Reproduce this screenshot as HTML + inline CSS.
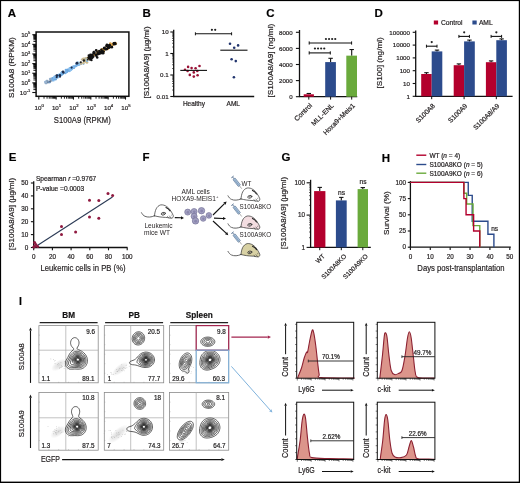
<!DOCTYPE html>
<html><head><meta charset="utf-8"><style>
html,body{margin:0;padding:0;background:#fff;}
svg{display:block;font-family:"Liberation Sans",sans-serif;filter:blur(0.3px);}
text{stroke:#231f20;stroke-width:0.2px;}
</style></head><body>
<svg width="520" height="483" viewBox="0 0 520 483">
<rect x="0" y="0" width="520" height="483" fill="#fff"/>
<text x="7.80" y="16.80" font-size="11.5" text-anchor="start" font-weight="bold" fill="#000"  style="">A</text>
<rect x="36.10" y="32.00" width="92.80" height="64.30" fill="none" stroke="#111" stroke-width="1.5" />
<line x1="32.30" y1="92.50" x2="36.10" y2="92.50" stroke="#111" stroke-width="1.1" />
<text x="30.3" y="94.70" font-size="6.2" text-anchor="end" fill="#231f20">10<tspan dy="-2.6" font-size="4.0">-1</tspan></text>
<line x1="33.40" y1="89.60" x2="36.10" y2="89.60" stroke="#000" stroke-width="0.9" />
<line x1="33.40" y1="87.90" x2="36.10" y2="87.90" stroke="#000" stroke-width="0.9" />
<line x1="33.40" y1="86.70" x2="36.10" y2="86.70" stroke="#000" stroke-width="0.9" />
<line x1="33.40" y1="85.76" x2="36.10" y2="85.76" stroke="#000" stroke-width="0.9" />
<line x1="33.40" y1="85.00" x2="36.10" y2="85.00" stroke="#000" stroke-width="0.9" />
<line x1="33.40" y1="84.36" x2="36.10" y2="84.36" stroke="#000" stroke-width="0.9" />
<line x1="33.40" y1="83.80" x2="36.10" y2="83.80" stroke="#000" stroke-width="0.9" />
<line x1="33.40" y1="83.31" x2="36.10" y2="83.31" stroke="#000" stroke-width="0.9" />
<line x1="32.30" y1="82.86" x2="36.10" y2="82.86" stroke="#111" stroke-width="1.1" />
<text x="30.3" y="85.06" font-size="6.2" text-anchor="end" fill="#231f20">10<tspan dy="-2.6" font-size="4.0">0</tspan></text>
<line x1="33.40" y1="79.97" x2="36.10" y2="79.97" stroke="#000" stroke-width="0.9" />
<line x1="33.40" y1="78.27" x2="36.10" y2="78.27" stroke="#000" stroke-width="0.9" />
<line x1="33.40" y1="77.07" x2="36.10" y2="77.07" stroke="#000" stroke-width="0.9" />
<line x1="33.40" y1="76.13" x2="36.10" y2="76.13" stroke="#000" stroke-width="0.9" />
<line x1="33.40" y1="75.37" x2="36.10" y2="75.37" stroke="#000" stroke-width="0.9" />
<line x1="33.40" y1="74.72" x2="36.10" y2="74.72" stroke="#000" stroke-width="0.9" />
<line x1="33.40" y1="74.17" x2="36.10" y2="74.17" stroke="#000" stroke-width="0.9" />
<line x1="33.40" y1="73.67" x2="36.10" y2="73.67" stroke="#000" stroke-width="0.9" />
<line x1="32.30" y1="73.23" x2="36.10" y2="73.23" stroke="#111" stroke-width="1.1" />
<text x="30.3" y="75.43" font-size="6.2" text-anchor="end" fill="#231f20">10<tspan dy="-2.6" font-size="4.0">1</tspan></text>
<line x1="33.40" y1="70.33" x2="36.10" y2="70.33" stroke="#000" stroke-width="0.9" />
<line x1="33.40" y1="68.64" x2="36.10" y2="68.64" stroke="#000" stroke-width="0.9" />
<line x1="33.40" y1="67.43" x2="36.10" y2="67.43" stroke="#000" stroke-width="0.9" />
<line x1="33.40" y1="66.50" x2="36.10" y2="66.50" stroke="#000" stroke-width="0.9" />
<line x1="33.40" y1="65.74" x2="36.10" y2="65.74" stroke="#000" stroke-width="0.9" />
<line x1="33.40" y1="65.09" x2="36.10" y2="65.09" stroke="#000" stroke-width="0.9" />
<line x1="33.40" y1="64.53" x2="36.10" y2="64.53" stroke="#000" stroke-width="0.9" />
<line x1="33.40" y1="64.04" x2="36.10" y2="64.04" stroke="#000" stroke-width="0.9" />
<line x1="32.30" y1="63.60" x2="36.10" y2="63.60" stroke="#111" stroke-width="1.1" />
<text x="30.3" y="65.80" font-size="6.2" text-anchor="end" fill="#231f20">10<tspan dy="-2.6" font-size="4.0">2</tspan></text>
<line x1="33.40" y1="60.70" x2="36.10" y2="60.70" stroke="#000" stroke-width="0.9" />
<line x1="33.40" y1="59.00" x2="36.10" y2="59.00" stroke="#000" stroke-width="0.9" />
<line x1="33.40" y1="57.80" x2="36.10" y2="57.80" stroke="#000" stroke-width="0.9" />
<line x1="33.40" y1="56.87" x2="36.10" y2="56.87" stroke="#000" stroke-width="0.9" />
<line x1="33.40" y1="56.10" x2="36.10" y2="56.10" stroke="#000" stroke-width="0.9" />
<line x1="33.40" y1="55.46" x2="36.10" y2="55.46" stroke="#000" stroke-width="0.9" />
<line x1="33.40" y1="54.90" x2="36.10" y2="54.90" stroke="#000" stroke-width="0.9" />
<line x1="33.40" y1="54.41" x2="36.10" y2="54.41" stroke="#000" stroke-width="0.9" />
<line x1="32.30" y1="53.97" x2="36.10" y2="53.97" stroke="#111" stroke-width="1.1" />
<text x="30.3" y="56.17" font-size="6.2" text-anchor="end" fill="#231f20">10<tspan dy="-2.6" font-size="4.0">3</tspan></text>
<line x1="33.40" y1="51.07" x2="36.10" y2="51.07" stroke="#000" stroke-width="0.9" />
<line x1="33.40" y1="49.37" x2="36.10" y2="49.37" stroke="#000" stroke-width="0.9" />
<line x1="33.40" y1="48.17" x2="36.10" y2="48.17" stroke="#000" stroke-width="0.9" />
<line x1="33.40" y1="47.23" x2="36.10" y2="47.23" stroke="#000" stroke-width="0.9" />
<line x1="33.40" y1="46.47" x2="36.10" y2="46.47" stroke="#000" stroke-width="0.9" />
<line x1="33.40" y1="45.83" x2="36.10" y2="45.83" stroke="#000" stroke-width="0.9" />
<line x1="33.40" y1="45.27" x2="36.10" y2="45.27" stroke="#000" stroke-width="0.9" />
<line x1="33.40" y1="44.77" x2="36.10" y2="44.77" stroke="#000" stroke-width="0.9" />
<line x1="32.30" y1="44.33" x2="36.10" y2="44.33" stroke="#111" stroke-width="1.1" />
<text x="30.3" y="46.53" font-size="6.2" text-anchor="end" fill="#231f20">10<tspan dy="-2.6" font-size="4.0">4</tspan></text>
<line x1="33.40" y1="41.43" x2="36.10" y2="41.43" stroke="#000" stroke-width="0.9" />
<line x1="33.40" y1="39.74" x2="36.10" y2="39.74" stroke="#000" stroke-width="0.9" />
<line x1="33.40" y1="38.53" x2="36.10" y2="38.53" stroke="#000" stroke-width="0.9" />
<line x1="33.40" y1="37.60" x2="36.10" y2="37.60" stroke="#000" stroke-width="0.9" />
<line x1="33.40" y1="36.84" x2="36.10" y2="36.84" stroke="#000" stroke-width="0.9" />
<line x1="33.40" y1="36.19" x2="36.10" y2="36.19" stroke="#000" stroke-width="0.9" />
<line x1="33.40" y1="35.63" x2="36.10" y2="35.63" stroke="#000" stroke-width="0.9" />
<line x1="33.40" y1="35.14" x2="36.10" y2="35.14" stroke="#000" stroke-width="0.9" />
<line x1="32.30" y1="34.70" x2="36.10" y2="34.70" stroke="#111" stroke-width="1.1" />
<text x="30.3" y="36.90" font-size="6.2" text-anchor="end" fill="#231f20">10<tspan dy="-2.6" font-size="4.0">5</tspan></text>
<line x1="38.80" y1="96.30" x2="38.80" y2="99.60" stroke="#111" stroke-width="1.1" />
<text x="39.20" y="109.80" font-size="6.2" text-anchor="middle" fill="#231f20">10<tspan dy="-2.6" font-size="4.2">0</tspan></text>
<line x1="44.02" y1="96.30" x2="44.02" y2="98.70" stroke="#000" stroke-width="0.9" />
<line x1="47.07" y1="96.30" x2="47.07" y2="98.70" stroke="#000" stroke-width="0.9" />
<line x1="49.24" y1="96.30" x2="49.24" y2="98.70" stroke="#000" stroke-width="0.9" />
<line x1="50.92" y1="96.30" x2="50.92" y2="98.70" stroke="#000" stroke-width="0.9" />
<line x1="52.29" y1="96.30" x2="52.29" y2="98.70" stroke="#000" stroke-width="0.9" />
<line x1="53.45" y1="96.30" x2="53.45" y2="98.70" stroke="#000" stroke-width="0.9" />
<line x1="54.46" y1="96.30" x2="54.46" y2="98.70" stroke="#000" stroke-width="0.9" />
<line x1="55.35" y1="96.30" x2="55.35" y2="98.70" stroke="#000" stroke-width="0.9" />
<line x1="56.14" y1="96.30" x2="56.14" y2="99.60" stroke="#111" stroke-width="1.1" />
<text x="56.54" y="109.80" font-size="6.2" text-anchor="middle" fill="#231f20">10<tspan dy="-2.6" font-size="4.2">1</tspan></text>
<line x1="61.36" y1="96.30" x2="61.36" y2="98.70" stroke="#000" stroke-width="0.9" />
<line x1="64.41" y1="96.30" x2="64.41" y2="98.70" stroke="#000" stroke-width="0.9" />
<line x1="66.58" y1="96.30" x2="66.58" y2="98.70" stroke="#000" stroke-width="0.9" />
<line x1="68.26" y1="96.30" x2="68.26" y2="98.70" stroke="#000" stroke-width="0.9" />
<line x1="69.63" y1="96.30" x2="69.63" y2="98.70" stroke="#000" stroke-width="0.9" />
<line x1="70.79" y1="96.30" x2="70.79" y2="98.70" stroke="#000" stroke-width="0.9" />
<line x1="71.80" y1="96.30" x2="71.80" y2="98.70" stroke="#000" stroke-width="0.9" />
<line x1="72.69" y1="96.30" x2="72.69" y2="98.70" stroke="#000" stroke-width="0.9" />
<line x1="73.48" y1="96.30" x2="73.48" y2="99.60" stroke="#111" stroke-width="1.1" />
<text x="73.88" y="109.80" font-size="6.2" text-anchor="middle" fill="#231f20">10<tspan dy="-2.6" font-size="4.2">2</tspan></text>
<line x1="78.70" y1="96.30" x2="78.70" y2="98.70" stroke="#000" stroke-width="0.9" />
<line x1="81.75" y1="96.30" x2="81.75" y2="98.70" stroke="#000" stroke-width="0.9" />
<line x1="83.92" y1="96.30" x2="83.92" y2="98.70" stroke="#000" stroke-width="0.9" />
<line x1="85.60" y1="96.30" x2="85.60" y2="98.70" stroke="#000" stroke-width="0.9" />
<line x1="86.97" y1="96.30" x2="86.97" y2="98.70" stroke="#000" stroke-width="0.9" />
<line x1="88.13" y1="96.30" x2="88.13" y2="98.70" stroke="#000" stroke-width="0.9" />
<line x1="89.14" y1="96.30" x2="89.14" y2="98.70" stroke="#000" stroke-width="0.9" />
<line x1="90.03" y1="96.30" x2="90.03" y2="98.70" stroke="#000" stroke-width="0.9" />
<line x1="90.82" y1="96.30" x2="90.82" y2="99.60" stroke="#111" stroke-width="1.1" />
<text x="91.22" y="109.80" font-size="6.2" text-anchor="middle" fill="#231f20">10<tspan dy="-2.6" font-size="4.2">3</tspan></text>
<line x1="96.04" y1="96.30" x2="96.04" y2="98.70" stroke="#000" stroke-width="0.9" />
<line x1="99.09" y1="96.30" x2="99.09" y2="98.70" stroke="#000" stroke-width="0.9" />
<line x1="101.26" y1="96.30" x2="101.26" y2="98.70" stroke="#000" stroke-width="0.9" />
<line x1="102.94" y1="96.30" x2="102.94" y2="98.70" stroke="#000" stroke-width="0.9" />
<line x1="104.31" y1="96.30" x2="104.31" y2="98.70" stroke="#000" stroke-width="0.9" />
<line x1="105.47" y1="96.30" x2="105.47" y2="98.70" stroke="#000" stroke-width="0.9" />
<line x1="106.48" y1="96.30" x2="106.48" y2="98.70" stroke="#000" stroke-width="0.9" />
<line x1="107.37" y1="96.30" x2="107.37" y2="98.70" stroke="#000" stroke-width="0.9" />
<line x1="108.16" y1="96.30" x2="108.16" y2="99.60" stroke="#111" stroke-width="1.1" />
<text x="108.56" y="109.80" font-size="6.2" text-anchor="middle" fill="#231f20">10<tspan dy="-2.6" font-size="4.2">4</tspan></text>
<line x1="113.38" y1="96.30" x2="113.38" y2="98.70" stroke="#000" stroke-width="0.9" />
<line x1="116.43" y1="96.30" x2="116.43" y2="98.70" stroke="#000" stroke-width="0.9" />
<line x1="118.60" y1="96.30" x2="118.60" y2="98.70" stroke="#000" stroke-width="0.9" />
<line x1="120.28" y1="96.30" x2="120.28" y2="98.70" stroke="#000" stroke-width="0.9" />
<line x1="121.65" y1="96.30" x2="121.65" y2="98.70" stroke="#000" stroke-width="0.9" />
<line x1="122.81" y1="96.30" x2="122.81" y2="98.70" stroke="#000" stroke-width="0.9" />
<line x1="123.82" y1="96.30" x2="123.82" y2="98.70" stroke="#000" stroke-width="0.9" />
<line x1="124.71" y1="96.30" x2="124.71" y2="98.70" stroke="#000" stroke-width="0.9" />
<line x1="125.50" y1="96.30" x2="125.50" y2="99.60" stroke="#111" stroke-width="1.1" />
<text x="125.90" y="109.80" font-size="6.2" text-anchor="middle" fill="#231f20">10<tspan dy="-2.6" font-size="4.2">5</tspan></text>
<text transform="translate(13.90,67.60) rotate(-90) scale(1.1111,1)" x="0" y="0" font-size="7.38" text-anchor="middle" fill="#231f20">S100A8 (RPKM)</text>
<text transform="translate(82.30,122.60) scale(0.8333,1)" x="0" y="0" font-size="9.24" text-anchor="middle" fill="#231f20">S100A9 (RPKM)</text>
<circle cx="45.65" cy="82.97" r="1.21" fill="#9ab4d0"/>
<circle cx="45.25" cy="81.78" r="1.00" fill="#7aa8d8"/>
<circle cx="46.35" cy="83.00" r="1.34" fill="#8ea6c0"/>
<circle cx="45.80" cy="82.18" r="1.32" fill="#9ab4d0"/>
<circle cx="45.80" cy="81.82" r="1.07" fill="#9ab4d0"/>
<circle cx="46.81" cy="81.02" r="1.19" fill="#9ab4d0"/>
<circle cx="47.19" cy="80.93" r="1.06" fill="#8ea6c0"/>
<circle cx="48.13" cy="81.93" r="1.41" fill="#8ea6c0"/>
<circle cx="48.28" cy="82.24" r="0.96" fill="#5d6f88"/>
<circle cx="49.67" cy="82.06" r="1.43" fill="#7aa8d8"/>
<circle cx="49.98" cy="81.56" r="1.02" fill="#5d6f88"/>
<circle cx="50.89" cy="80.66" r="1.08" fill="#5d6f88"/>
<circle cx="50.17" cy="78.98" r="1.35" fill="#9ab4d0"/>
<circle cx="52.09" cy="79.53" r="1.39" fill="#8ea6c0"/>
<circle cx="52.52" cy="80.51" r="0.99" fill="#7aa8d8"/>
<circle cx="51.19" cy="79.17" r="1.30" fill="#8ea6c0"/>
<circle cx="51.69" cy="78.65" r="1.05" fill="#9ab4d0"/>
<circle cx="52.29" cy="79.23" r="1.35" fill="#8ea6c0"/>
<circle cx="53.80" cy="80.54" r="0.99" fill="#8cc0ee"/>
<circle cx="52.66" cy="78.46" r="1.17" fill="#6aa6de"/>
<circle cx="52.70" cy="78.99" r="1.24" fill="#7db6ea"/>
<circle cx="53.23" cy="79.27" r="0.95" fill="#6aa6de"/>
<circle cx="53.11" cy="80.31" r="0.97" fill="#7db6ea"/>
<circle cx="53.48" cy="77.99" r="1.36" fill="#6aa6de"/>
<circle cx="54.05" cy="78.89" r="1.43" fill="#7db6ea"/>
<circle cx="53.62" cy="78.30" r="1.01" fill="#6aa6de"/>
<circle cx="54.47" cy="78.33" r="1.41" fill="#6aa6de"/>
<circle cx="54.61" cy="78.09" r="1.14" fill="#6aa6de"/>
<circle cx="54.02" cy="78.07" r="1.02" fill="#8cc0ee"/>
<circle cx="55.64" cy="79.19" r="1.21" fill="#6aa6de"/>
<circle cx="54.59" cy="78.02" r="1.18" fill="#7db6ea"/>
<circle cx="54.35" cy="77.51" r="1.08" fill="#7db6ea"/>
<circle cx="54.59" cy="76.82" r="1.25" fill="#8cc0ee"/>
<circle cx="55.00" cy="76.59" r="1.14" fill="#7db6ea"/>
<circle cx="54.96" cy="76.99" r="1.17" fill="#7db6ea"/>
<circle cx="54.95" cy="77.80" r="1.34" fill="#7db6ea"/>
<circle cx="56.05" cy="77.06" r="1.01" fill="#8cc0ee"/>
<circle cx="57.41" cy="77.39" r="1.31" fill="#7db6ea"/>
<circle cx="58.02" cy="76.72" r="1.12" fill="#7db6ea"/>
<circle cx="58.97" cy="76.26" r="1.19" fill="#8cc0ee"/>
<circle cx="57.43" cy="75.54" r="1.40" fill="#7db6ea"/>
<circle cx="57.16" cy="74.89" r="0.97" fill="#8cc0ee"/>
<circle cx="58.17" cy="75.46" r="1.36" fill="#6aa6de"/>
<circle cx="60.17" cy="75.72" r="1.36" fill="#7db6ea"/>
<circle cx="59.56" cy="74.63" r="1.35" fill="#7db6ea"/>
<circle cx="61.08" cy="74.82" r="1.39" fill="#7db6ea"/>
<circle cx="60.09" cy="74.80" r="1.11" fill="#8cc0ee"/>
<circle cx="60.82" cy="74.88" r="1.05" fill="#7db6ea"/>
<circle cx="61.73" cy="73.31" r="1.35" fill="#7db6ea"/>
<circle cx="61.85" cy="74.76" r="1.08" fill="#7db6ea"/>
<circle cx="62.62" cy="73.60" r="1.10" fill="#7db6ea"/>
<circle cx="61.32" cy="72.84" r="1.07" fill="#7db6ea"/>
<circle cx="61.65" cy="73.24" r="1.11" fill="#7db6ea"/>
<circle cx="61.82" cy="73.56" r="1.15" fill="#8cc0ee"/>
<circle cx="62.61" cy="73.81" r="1.43" fill="#6aa6de"/>
<circle cx="61.88" cy="71.96" r="0.99" fill="#7db6ea"/>
<circle cx="63.31" cy="72.60" r="1.17" fill="#7db6ea"/>
<circle cx="65.27" cy="72.88" r="1.28" fill="#6aa6de"/>
<circle cx="66.37" cy="71.89" r="1.33" fill="#8cc0ee"/>
<circle cx="66.36" cy="71.79" r="1.28" fill="#7db6ea"/>
<circle cx="65.92" cy="70.05" r="1.30" fill="#6aa6de"/>
<circle cx="66.39" cy="71.56" r="1.16" fill="#7db6ea"/>
<circle cx="66.99" cy="71.44" r="1.41" fill="#6aa6de"/>
<circle cx="66.51" cy="70.70" r="1.34" fill="#7db6ea"/>
<circle cx="67.31" cy="70.99" r="1.13" fill="#7db6ea"/>
<circle cx="67.22" cy="70.91" r="1.32" fill="#7db6ea"/>
<circle cx="67.62" cy="70.68" r="1.32" fill="#6aa6de"/>
<circle cx="69.56" cy="70.80" r="1.33" fill="#7db6ea"/>
<circle cx="67.67" cy="69.81" r="1.39" fill="#6aa6de"/>
<circle cx="69.56" cy="69.56" r="1.23" fill="#7db6ea"/>
<circle cx="69.80" cy="68.65" r="1.20" fill="#7db6ea"/>
<circle cx="70.79" cy="69.82" r="1.39" fill="#8cc0ee"/>
<circle cx="69.80" cy="68.28" r="1.33" fill="#8cc0ee"/>
<circle cx="70.72" cy="67.83" r="1.04" fill="#6aa6de"/>
<circle cx="71.24" cy="69.51" r="1.19" fill="#8cc0ee"/>
<circle cx="72.14" cy="68.73" r="1.16" fill="#7db6ea"/>
<circle cx="71.75" cy="68.18" r="1.43" fill="#7db6ea"/>
<circle cx="71.79" cy="67.34" r="1.20" fill="#6aa6de"/>
<circle cx="72.95" cy="67.02" r="1.23" fill="#7db6ea"/>
<circle cx="73.91" cy="67.42" r="1.23" fill="#6aa6de"/>
<circle cx="74.03" cy="67.41" r="1.23" fill="#6aa6de"/>
<circle cx="73.46" cy="66.77" r="1.22" fill="#8cc0ee"/>
<circle cx="73.66" cy="66.17" r="1.02" fill="#7db6ea"/>
<circle cx="74.33" cy="67.34" r="0.98" fill="#7db6ea"/>
<circle cx="76.11" cy="65.83" r="1.39" fill="#7db6ea"/>
<circle cx="75.44" cy="65.75" r="1.10" fill="#6aa6de"/>
<circle cx="76.13" cy="65.44" r="1.02" fill="#7db6ea"/>
<circle cx="75.83" cy="65.66" r="0.96" fill="#7db6ea"/>
<circle cx="76.52" cy="63.65" r="1.10" fill="#8cc0ee"/>
<circle cx="77.54" cy="65.20" r="1.10" fill="#7db6ea"/>
<circle cx="77.65" cy="64.68" r="1.06" fill="#6aa6de"/>
<circle cx="78.49" cy="65.06" r="1.03" fill="#8cc0ee"/>
<circle cx="78.29" cy="64.88" r="1.07" fill="#8cc0ee"/>
<circle cx="78.71" cy="64.56" r="1.22" fill="#6aa6de"/>
<circle cx="77.66" cy="63.51" r="1.43" fill="#6aa6de"/>
<circle cx="78.14" cy="64.67" r="1.17" fill="#7db6ea"/>
<circle cx="77.75" cy="62.55" r="1.18" fill="#8cc0ee"/>
<circle cx="79.37" cy="63.59" r="1.11" fill="#7db6ea"/>
<circle cx="78.55" cy="63.81" r="1.25" fill="#7db6ea"/>
<circle cx="79.57" cy="64.69" r="1.08" fill="#8cc0ee"/>
<circle cx="79.56" cy="63.20" r="1.31" fill="#7db6ea"/>
<circle cx="79.40" cy="63.11" r="1.02" fill="#d6bc78"/>
<circle cx="79.91" cy="62.98" r="1.34" fill="#7db6ea"/>
<circle cx="81.08" cy="63.90" r="1.21" fill="#b8b4a0"/>
<circle cx="80.35" cy="62.44" r="0.96" fill="#c9b88a"/>
<circle cx="83.49" cy="63.81" r="1.09" fill="#7db6ea"/>
<circle cx="83.37" cy="63.09" r="1.27" fill="#c9b88a"/>
<circle cx="81.82" cy="59.54" r="1.04" fill="#b8b4a0"/>
<circle cx="84.43" cy="60.80" r="1.28" fill="#7db6ea"/>
<circle cx="83.83" cy="59.86" r="1.36" fill="#b8b4a0"/>
<circle cx="83.05" cy="59.23" r="1.25" fill="#c9b88a"/>
<circle cx="84.48" cy="60.81" r="1.38" fill="#d6bc78"/>
<circle cx="84.23" cy="59.31" r="1.09" fill="#c9b88a"/>
<circle cx="85.41" cy="61.67" r="1.15" fill="#c9b88a"/>
<circle cx="83.62" cy="58.84" r="1.45" fill="#c9b88a"/>
<circle cx="86.93" cy="62.43" r="1.40" fill="#c9b88a"/>
<circle cx="84.83" cy="58.60" r="1.04" fill="#c9b88a"/>
<circle cx="86.11" cy="60.40" r="1.21" fill="#c9b88a"/>
<circle cx="85.81" cy="58.81" r="0.96" fill="#c9b88a"/>
<circle cx="86.46" cy="59.36" r="1.05" fill="#d6bc78"/>
<circle cx="86.86" cy="58.59" r="1.31" fill="#c9b88a"/>
<circle cx="87.17" cy="60.73" r="1.18" fill="#7db6ea"/>
<circle cx="86.21" cy="58.24" r="1.27" fill="#b8b4a0"/>
<circle cx="86.85" cy="58.71" r="1.08" fill="#7db6ea"/>
<circle cx="87.83" cy="59.71" r="1.05" fill="#d6bc78"/>
<circle cx="87.27" cy="57.92" r="1.14" fill="#d6bc78"/>
<circle cx="88.08" cy="58.90" r="1.04" fill="#b8b4a0"/>
<circle cx="88.78" cy="58.73" r="0.95" fill="#e0a545"/>
<circle cx="89.61" cy="58.23" r="1.05" fill="#e0a545"/>
<circle cx="90.03" cy="56.81" r="1.44" fill="#e0a545"/>
<circle cx="90.26" cy="56.47" r="1.21" fill="#e0a545"/>
<circle cx="93.11" cy="55.58" r="1.00" fill="#e0a545"/>
<circle cx="95.27" cy="55.24" r="0.96" fill="#e0a545"/>
<circle cx="94.93" cy="54.96" r="0.97" fill="#e0a545"/>
<circle cx="94.74" cy="54.43" r="1.26" fill="#e0a545"/>
<circle cx="96.72" cy="54.08" r="1.28" fill="#e0a545"/>
<circle cx="97.31" cy="52.35" r="1.02" fill="#e0a545"/>
<circle cx="98.79" cy="54.10" r="1.16" fill="#e0a545"/>
<circle cx="98.60" cy="52.73" r="1.05" fill="#e0a545"/>
<circle cx="97.53" cy="51.71" r="1.24" fill="#e0a545"/>
<circle cx="98.65" cy="51.98" r="1.37" fill="#e0a545"/>
<circle cx="100.53" cy="52.45" r="1.21" fill="#e0a545"/>
<circle cx="101.33" cy="51.95" r="1.29" fill="#e0a545"/>
<circle cx="101.10" cy="49.89" r="1.12" fill="#e0a545"/>
<circle cx="102.02" cy="49.38" r="1.32" fill="#e0a545"/>
<circle cx="103.58" cy="51.63" r="1.33" fill="#e0a545"/>
<circle cx="103.98" cy="50.12" r="1.02" fill="#e0a545"/>
<circle cx="104.43" cy="49.39" r="1.26" fill="#e0a545"/>
<circle cx="104.46" cy="48.90" r="1.10" fill="#e0a545"/>
<circle cx="104.65" cy="48.29" r="1.39" fill="#e0a545"/>
<circle cx="107.63" cy="48.93" r="1.40" fill="#e0a545"/>
<circle cx="106.83" cy="46.47" r="0.97" fill="#e0a545"/>
<circle cx="106.88" cy="45.67" r="1.23" fill="#e0a545"/>
<circle cx="111.47" cy="46.24" r="1.20" fill="#e0a545"/>
<circle cx="111.02" cy="44.89" r="1.10" fill="#e0a545"/>
<circle cx="110.32" cy="43.55" r="1.26" fill="#e0a545"/>
<circle cx="113.50" cy="44.50" r="1.36" fill="#e0a545"/>
<circle cx="112.56" cy="44.03" r="1.36" fill="#e0a545"/>
<circle cx="114.84" cy="43.74" r="1.42" fill="#e0a545"/>
<circle cx="114.53" cy="42.87" r="1.16" fill="#e0a545"/>
<circle cx="114.55" cy="43.90" r="1.36" fill="#e0a545"/>
<circle cx="115.71" cy="43.62" r="1.39" fill="#e0a545"/>
<circle cx="56.67" cy="77.29" r="1.01" fill="#1e2c4a"/>
<circle cx="56.87" cy="75.62" r="1.43" fill="#1e2c4a"/>
<circle cx="60.02" cy="76.77" r="1.02" fill="#1e2c4a"/>
<circle cx="59.90" cy="75.14" r="1.19" fill="#1e2c4a"/>
<circle cx="63.49" cy="72.65" r="1.06" fill="#1e2c4a"/>
<circle cx="63.02" cy="71.81" r="1.35" fill="#1e2c4a"/>
<circle cx="71.65" cy="67.60" r="1.05" fill="#1e2c4a"/>
<circle cx="76.93" cy="63.22" r="1.41" fill="#1e2c4a"/>
<circle cx="80.85" cy="62.26" r="1.05" fill="#222"/>
<circle cx="83.88" cy="60.59" r="1.24" fill="#222"/>
<circle cx="87.84" cy="59.57" r="0.95" fill="#222"/>
<circle cx="88.86" cy="58.07" r="0.98" fill="#111"/>
<circle cx="89.12" cy="57.78" r="1.04" fill="#111"/>
<circle cx="88.72" cy="57.60" r="1.23" fill="#111"/>
<circle cx="90.04" cy="59.75" r="1.04" fill="#111"/>
<circle cx="88.96" cy="57.43" r="1.27" fill="#111"/>
<circle cx="91.46" cy="60.11" r="1.21" fill="#111"/>
<circle cx="90.88" cy="58.67" r="1.22" fill="#111"/>
<circle cx="90.12" cy="57.61" r="0.98" fill="#111"/>
<circle cx="88.63" cy="55.40" r="1.06" fill="#111"/>
<circle cx="90.27" cy="57.22" r="1.10" fill="#111"/>
<circle cx="89.66" cy="56.52" r="1.34" fill="#111"/>
<circle cx="92.41" cy="57.90" r="1.07" fill="#111"/>
<circle cx="90.46" cy="54.97" r="1.45" fill="#111"/>
<circle cx="92.05" cy="57.73" r="1.01" fill="#111"/>
<circle cx="91.03" cy="56.15" r="1.36" fill="#111"/>
<circle cx="92.34" cy="56.26" r="1.34" fill="#111"/>
<circle cx="93.30" cy="56.61" r="1.27" fill="#111"/>
<circle cx="91.75" cy="54.97" r="1.22" fill="#111"/>
<circle cx="92.44" cy="54.69" r="1.01" fill="#111"/>
<circle cx="93.68" cy="53.50" r="1.33" fill="#111"/>
<circle cx="93.78" cy="52.16" r="1.31" fill="#111"/>
<circle cx="95.54" cy="54.66" r="1.11" fill="#111"/>
<circle cx="97.22" cy="57.48" r="1.28" fill="#111"/>
<circle cx="96.46" cy="56.06" r="1.20" fill="#111"/>
<circle cx="94.69" cy="52.83" r="1.08" fill="#111"/>
<circle cx="96.09" cy="55.06" r="1.25" fill="#111"/>
<circle cx="97.96" cy="54.11" r="1.44" fill="#111"/>
<circle cx="97.83" cy="53.80" r="1.23" fill="#111"/>
<circle cx="96.20" cy="50.40" r="1.41" fill="#111"/>
<circle cx="97.17" cy="51.90" r="0.99" fill="#111"/>
<circle cx="98.05" cy="53.57" r="1.11" fill="#111"/>
<circle cx="99.90" cy="53.79" r="1.07" fill="#111"/>
<circle cx="99.19" cy="50.84" r="1.07" fill="#111"/>
<circle cx="99.64" cy="52.62" r="1.40" fill="#111"/>
<circle cx="99.67" cy="52.16" r="1.04" fill="#111"/>
<circle cx="99.43" cy="53.48" r="1.27" fill="#111"/>
<circle cx="99.62" cy="51.55" r="1.19" fill="#111"/>
<circle cx="101.86" cy="53.34" r="1.06" fill="#111"/>
<circle cx="101.15" cy="52.05" r="0.99" fill="#111"/>
<circle cx="100.99" cy="52.14" r="0.97" fill="#111"/>
<circle cx="103.08" cy="53.23" r="1.39" fill="#111"/>
<circle cx="101.41" cy="49.71" r="1.24" fill="#111"/>
<circle cx="101.84" cy="51.15" r="1.31" fill="#111"/>
<circle cx="103.13" cy="51.66" r="1.36" fill="#111"/>
<circle cx="103.86" cy="51.40" r="0.97" fill="#111"/>
<circle cx="104.03" cy="48.32" r="1.31" fill="#111"/>
<circle cx="104.35" cy="48.21" r="1.09" fill="#111"/>
<circle cx="104.47" cy="47.95" r="1.37" fill="#111"/>
<circle cx="105.76" cy="49.42" r="1.18" fill="#111"/>
<circle cx="106.93" cy="49.11" r="1.26" fill="#111"/>
<circle cx="106.33" cy="46.00" r="1.17" fill="#111"/>
<circle cx="107.76" cy="47.94" r="1.07" fill="#111"/>
<circle cx="108.32" cy="47.54" r="1.27" fill="#111"/>
<circle cx="106.94" cy="44.82" r="1.36" fill="#111"/>
<circle cx="107.93" cy="47.31" r="1.09" fill="#111"/>
<circle cx="108.96" cy="48.03" r="1.09" fill="#111"/>
<circle cx="108.72" cy="47.10" r="1.33" fill="#111"/>
<circle cx="108.47" cy="46.80" r="1.42" fill="#111"/>
<circle cx="109.86" cy="47.24" r="1.21" fill="#111"/>
<circle cx="108.74" cy="45.74" r="1.39" fill="#111"/>
<circle cx="109.65" cy="45.17" r="1.39" fill="#111"/>
<circle cx="112.08" cy="46.63" r="1.02" fill="#111"/>
<circle cx="111.89" cy="47.16" r="1.23" fill="#111"/>
<circle cx="113.88" cy="44.49" r="1.12" fill="#111"/>
<circle cx="113.84" cy="43.39" r="1.34" fill="#111"/>
<circle cx="114.28" cy="43.47" r="0.99" fill="#111"/>
<circle cx="115.52" cy="44.07" r="1.17" fill="#111"/>
<ellipse cx="114.6" cy="43.4" rx="1.9" ry="1.4" fill="#111" transform="rotate(-30 114.6 43.4)"/>
<text x="142.50" y="16.80" font-size="11.5" text-anchor="start" font-weight="bold" fill="#000"  style="">B</text>
<line x1="173.70" y1="29.70" x2="173.70" y2="96.50" stroke="#111" stroke-width="1.3" />
<line x1="173.10" y1="96.50" x2="254.20" y2="96.50" stroke="#111" stroke-width="1.3" />
<line x1="170.30" y1="32.00" x2="173.70" y2="32.00" stroke="#111" stroke-width="1.1" />
<text x="168.60" y="34.20" font-size="6.2" text-anchor="end" font-weight="normal" fill="#231f20"  style="">10</text>
<line x1="170.30" y1="53.50" x2="173.70" y2="53.50" stroke="#111" stroke-width="1.1" />
<text x="168.60" y="55.70" font-size="6.2" text-anchor="end" font-weight="normal" fill="#231f20"  style="">1</text>
<line x1="172.10" y1="47.03" x2="173.70" y2="47.03" stroke="#111" stroke-width="0.7" />
<line x1="172.10" y1="43.24" x2="173.70" y2="43.24" stroke="#111" stroke-width="0.7" />
<line x1="172.10" y1="40.56" x2="173.70" y2="40.56" stroke="#111" stroke-width="0.7" />
<line x1="172.10" y1="38.47" x2="173.70" y2="38.47" stroke="#111" stroke-width="0.7" />
<line x1="172.10" y1="36.77" x2="173.70" y2="36.77" stroke="#111" stroke-width="0.7" />
<line x1="172.10" y1="35.33" x2="173.70" y2="35.33" stroke="#111" stroke-width="0.7" />
<line x1="172.10" y1="34.08" x2="173.70" y2="34.08" stroke="#111" stroke-width="0.7" />
<line x1="172.10" y1="32.98" x2="173.70" y2="32.98" stroke="#111" stroke-width="0.7" />
<line x1="170.30" y1="75.00" x2="173.70" y2="75.00" stroke="#111" stroke-width="1.1" />
<text x="168.60" y="77.20" font-size="6.2" text-anchor="end" font-weight="normal" fill="#231f20"  style="">0.1</text>
<line x1="172.10" y1="68.53" x2="173.70" y2="68.53" stroke="#111" stroke-width="0.7" />
<line x1="172.10" y1="64.74" x2="173.70" y2="64.74" stroke="#111" stroke-width="0.7" />
<line x1="172.10" y1="62.06" x2="173.70" y2="62.06" stroke="#111" stroke-width="0.7" />
<line x1="172.10" y1="59.97" x2="173.70" y2="59.97" stroke="#111" stroke-width="0.7" />
<line x1="172.10" y1="58.27" x2="173.70" y2="58.27" stroke="#111" stroke-width="0.7" />
<line x1="172.10" y1="56.83" x2="173.70" y2="56.83" stroke="#111" stroke-width="0.7" />
<line x1="172.10" y1="55.58" x2="173.70" y2="55.58" stroke="#111" stroke-width="0.7" />
<line x1="172.10" y1="54.48" x2="173.70" y2="54.48" stroke="#111" stroke-width="0.7" />
<line x1="170.30" y1="96.50" x2="173.70" y2="96.50" stroke="#111" stroke-width="1.1" />
<text x="168.60" y="98.70" font-size="6.2" text-anchor="end" font-weight="normal" fill="#231f20"  style="">0.01</text>
<line x1="172.10" y1="90.03" x2="173.70" y2="90.03" stroke="#111" stroke-width="0.7" />
<line x1="172.10" y1="86.24" x2="173.70" y2="86.24" stroke="#111" stroke-width="0.7" />
<line x1="172.10" y1="83.56" x2="173.70" y2="83.56" stroke="#111" stroke-width="0.7" />
<line x1="172.10" y1="81.47" x2="173.70" y2="81.47" stroke="#111" stroke-width="0.7" />
<line x1="172.10" y1="79.77" x2="173.70" y2="79.77" stroke="#111" stroke-width="0.7" />
<line x1="172.10" y1="78.33" x2="173.70" y2="78.33" stroke="#111" stroke-width="0.7" />
<line x1="172.10" y1="77.08" x2="173.70" y2="77.08" stroke="#111" stroke-width="0.7" />
<line x1="172.10" y1="75.98" x2="173.70" y2="75.98" stroke="#111" stroke-width="0.7" />
<text transform="translate(149.00,62.50) rotate(-90) scale(1.0870,1)" x="0" y="0" font-size="7.36" text-anchor="middle" fill="#231f20">[S100A8/A9] (µg/ml)</text>
<text x="193.90" y="105.60" font-size="6.5" text-anchor="middle" font-weight="normal" fill="#231f20"  style="">Healthy</text>
<text x="233.30" y="105.60" font-size="6.5" text-anchor="middle" font-weight="normal" fill="#231f20"  style="">AML</text>
<circle cx="188.1" cy="66.9" r="1.3" fill="#9a1236"/>
<circle cx="191.6" cy="68.1" r="1.3" fill="#9a1236"/>
<circle cx="195.6" cy="68.2" r="1.3" fill="#9a1236"/>
<circle cx="199.5" cy="66.0" r="1.3" fill="#9a1236"/>
<circle cx="187.6" cy="71.0" r="1.3" fill="#9a1236"/>
<circle cx="193.8" cy="72.4" r="1.3" fill="#9a1236"/>
<circle cx="197.3" cy="71.0" r="1.3" fill="#9a1236"/>
<circle cx="189.8" cy="74.9" r="1.3" fill="#9a1236"/>
<circle cx="193.8" cy="76.6" r="1.3" fill="#9a1236"/>
<circle cx="197.6" cy="75.2" r="1.3" fill="#9a1236"/>
<circle cx="185.0" cy="69.8" r="1.3" fill="#9a1236"/>
<line x1="180.30" y1="70.40" x2="207.00" y2="70.40" stroke="#111" stroke-width="1.1" />
<circle cx="230.0" cy="43.8" r="1.3" fill="#22356e"/>
<circle cx="234.2" cy="47.7" r="1.3" fill="#22356e"/>
<circle cx="238.1" cy="45.4" r="1.3" fill="#22356e"/>
<circle cx="231.6" cy="59.2" r="1.3" fill="#22356e"/>
<circle cx="235.8" cy="61.1" r="1.3" fill="#22356e"/>
<circle cx="233.9" cy="77.2" r="1.3" fill="#22356e"/>
<line x1="220.30" y1="50.20" x2="247.50" y2="50.20" stroke="#111" stroke-width="1.1" />
<line x1="195.40" y1="33.80" x2="231.60" y2="33.80" stroke="#111" stroke-width="1.1" />
<line x1="195.40" y1="32.30" x2="195.40" y2="35.30" stroke="#111" stroke-width="1" />
<line x1="231.60" y1="32.30" x2="231.60" y2="35.30" stroke="#111" stroke-width="1" />
<circle cx="211.90" cy="29.80" r="1.1" fill="#222"/>
<circle cx="215.20" cy="29.80" r="1.1" fill="#222"/>
<text x="266.20" y="16.80" font-size="11.5" text-anchor="start" font-weight="bold" fill="#000"  style="">C</text>
<line x1="299.50" y1="30.00" x2="299.50" y2="96.70" stroke="#111" stroke-width="1.3" />
<line x1="298.90" y1="96.70" x2="357.20" y2="96.70" stroke="#111" stroke-width="1.3" />
<line x1="295.90" y1="96.70" x2="299.50" y2="96.70" stroke="#111" stroke-width="1.1" />
<text x="292.60" y="98.90" font-size="6.1" text-anchor="end" font-weight="normal" fill="#231f20"  style="">0</text>
<line x1="295.90" y1="80.60" x2="299.50" y2="80.60" stroke="#111" stroke-width="1.1" />
<text x="292.60" y="82.80" font-size="6.1" text-anchor="end" font-weight="normal" fill="#231f20"  style="">2000</text>
<line x1="295.90" y1="64.50" x2="299.50" y2="64.50" stroke="#111" stroke-width="1.1" />
<text x="292.60" y="66.70" font-size="6.1" text-anchor="end" font-weight="normal" fill="#231f20"  style="">4000</text>
<line x1="295.90" y1="48.40" x2="299.50" y2="48.40" stroke="#111" stroke-width="1.1" />
<text x="292.60" y="50.60" font-size="6.1" text-anchor="end" font-weight="normal" fill="#231f20"  style="">6000</text>
<line x1="295.90" y1="32.30" x2="299.50" y2="32.30" stroke="#111" stroke-width="1.1" />
<text x="292.60" y="34.50" font-size="6.1" text-anchor="end" font-weight="normal" fill="#231f20"  style="">8000</text>
<line x1="308.80" y1="94.28" x2="308.80" y2="93.48" stroke="#111" stroke-width="1.1" />
<line x1="306.60" y1="93.48" x2="311.00" y2="93.48" stroke="#111" stroke-width="1.1" />
<rect x="303.70" y="94.28" width="10.20" height="2.42" fill="#b3002d" stroke="none" stroke-width="1" />
<line x1="308.80" y1="96.70" x2="308.80" y2="99.60" stroke="#111" stroke-width="1" />
<line x1="330.60" y1="62.09" x2="330.60" y2="58.30" stroke="#111" stroke-width="1.1" />
<line x1="328.40" y1="58.30" x2="332.80" y2="58.30" stroke="#111" stroke-width="1.1" />
<rect x="325.20" y="62.09" width="10.70" height="34.62" fill="#2c4b8c" stroke="none" stroke-width="1" />
<line x1="330.60" y1="96.70" x2="330.60" y2="99.60" stroke="#111" stroke-width="1" />
<line x1="351.70" y1="55.65" x2="351.70" y2="49.53" stroke="#111" stroke-width="1.1" />
<line x1="349.50" y1="49.53" x2="353.90" y2="49.53" stroke="#111" stroke-width="1.1" />
<rect x="346.30" y="55.65" width="10.70" height="41.05" fill="#6aaa3c" stroke="none" stroke-width="1" />
<line x1="351.70" y1="96.70" x2="351.70" y2="99.60" stroke="#111" stroke-width="1" />
<text transform="translate(312.50,106.00) rotate(-45)" font-size="6.8" text-anchor="end" fill="#231f20">Control</text>
<text transform="translate(334.30,106.00) rotate(-45)" font-size="6.8" text-anchor="end" fill="#231f20">MLL-ENL</text>
<text transform="translate(355.40,106.00) rotate(-45)" font-size="6.8" text-anchor="end" fill="#231f20">Hoxa9+Meis1</text>
<text transform="translate(272.80,60.60) rotate(-90) scale(1.0870,1)" x="0" y="0" font-size="7.54" text-anchor="middle" fill="#231f20">[S100A8/A9] (ng/ml)</text>
<line x1="309.20" y1="52.90" x2="330.30" y2="52.90" stroke="#111" stroke-width="1.1" />
<line x1="309.20" y1="51.30" x2="309.20" y2="54.50" stroke="#111" stroke-width="1" />
<line x1="330.30" y1="51.30" x2="330.30" y2="54.50" stroke="#111" stroke-width="1" />
<circle cx="314.95" cy="48.50" r="1.1" fill="#222"/>
<circle cx="318.05" cy="48.50" r="1.1" fill="#222"/>
<circle cx="321.15" cy="48.50" r="1.1" fill="#222"/>
<circle cx="324.25" cy="48.50" r="1.1" fill="#222"/>
<line x1="309.20" y1="43.00" x2="351.60" y2="43.00" stroke="#111" stroke-width="1.1" />
<line x1="309.20" y1="41.40" x2="309.20" y2="44.60" stroke="#111" stroke-width="1" />
<line x1="351.60" y1="41.40" x2="351.60" y2="44.60" stroke="#111" stroke-width="1" />
<circle cx="325.95" cy="39.00" r="1.1" fill="#222"/>
<circle cx="329.05" cy="39.00" r="1.1" fill="#222"/>
<circle cx="332.15" cy="39.00" r="1.1" fill="#222"/>
<circle cx="335.25" cy="39.00" r="1.1" fill="#222"/>
<text x="374.50" y="16.80" font-size="11.5" text-anchor="start" font-weight="bold" fill="#000"  style="">D</text>
<line x1="415.70" y1="30.50" x2="415.70" y2="96.30" stroke="#111" stroke-width="1.3" />
<line x1="415.10" y1="96.30" x2="512.60" y2="96.30" stroke="#111" stroke-width="1.3" />
<line x1="412.70" y1="96.30" x2="415.70" y2="96.30" stroke="#111" stroke-width="1.1" />
<text x="410.00" y="98.50" font-size="6.2" text-anchor="end" font-weight="normal" fill="#231f20"  style="">1</text>
<line x1="412.70" y1="83.50" x2="415.70" y2="83.50" stroke="#111" stroke-width="1.1" />
<text x="410.00" y="85.70" font-size="6.2" text-anchor="end" font-weight="normal" fill="#231f20"  style="">10</text>
<line x1="412.70" y1="70.70" x2="415.70" y2="70.70" stroke="#111" stroke-width="1.1" />
<text x="410.00" y="72.90" font-size="6.2" text-anchor="end" font-weight="normal" fill="#231f20"  style="">100</text>
<line x1="412.70" y1="57.90" x2="415.70" y2="57.90" stroke="#111" stroke-width="1.1" />
<text x="410.00" y="60.10" font-size="6.2" text-anchor="end" font-weight="normal" fill="#231f20"  style="">1000</text>
<line x1="412.70" y1="45.10" x2="415.70" y2="45.10" stroke="#111" stroke-width="1.1" />
<text x="410.00" y="47.30" font-size="6.2" text-anchor="end" font-weight="normal" fill="#231f20"  style="">10000</text>
<line x1="412.70" y1="32.30" x2="415.70" y2="32.30" stroke="#111" stroke-width="1.1" />
<text x="410.00" y="34.50" font-size="6.2" text-anchor="end" font-weight="normal" fill="#231f20"  style="">100000</text>
<line x1="426.45" y1="74.00" x2="426.45" y2="72.70" stroke="#111" stroke-width="1.1" />
<line x1="424.25" y1="72.70" x2="428.65" y2="72.70" stroke="#111" stroke-width="1.1" />
<rect x="421.20" y="74.00" width="10.50" height="22.30" fill="#b3002d" stroke="none" stroke-width="1" />
<line x1="437.00" y1="51.40" x2="437.00" y2="50.10" stroke="#111" stroke-width="1.1" />
<line x1="434.80" y1="50.10" x2="439.20" y2="50.10" stroke="#111" stroke-width="1.1" />
<rect x="431.70" y="51.40" width="10.60" height="44.90" fill="#2c4b8c" stroke="none" stroke-width="1" />
<line x1="431.70" y1="96.30" x2="431.70" y2="99.20" stroke="#111" stroke-width="1" />
<line x1="426.45" y1="46.20" x2="437.00" y2="46.20" stroke="#111" stroke-width="1.1" />
<line x1="426.45" y1="44.70" x2="426.45" y2="47.70" stroke="#111" stroke-width="1" />
<line x1="437.00" y1="44.70" x2="437.00" y2="47.70" stroke="#111" stroke-width="1" />
<circle cx="431.73" cy="42.10" r="1.1" fill="#222"/>
<text transform="translate(435.30,106.40) rotate(-45)" font-size="6.7" text-anchor="end" fill="#231f20">S100A8</text>
<line x1="458.90" y1="65.20" x2="458.90" y2="63.90" stroke="#111" stroke-width="1.1" />
<line x1="456.70" y1="63.90" x2="461.10" y2="63.90" stroke="#111" stroke-width="1.1" />
<rect x="453.70" y="65.20" width="10.40" height="31.10" fill="#b3002d" stroke="none" stroke-width="1" />
<line x1="469.45" y1="41.40" x2="469.45" y2="40.10" stroke="#111" stroke-width="1.1" />
<line x1="467.25" y1="40.10" x2="471.65" y2="40.10" stroke="#111" stroke-width="1.1" />
<rect x="464.10" y="41.40" width="10.70" height="54.90" fill="#2c4b8c" stroke="none" stroke-width="1" />
<line x1="464.10" y1="96.30" x2="464.10" y2="99.20" stroke="#111" stroke-width="1" />
<line x1="458.90" y1="36.40" x2="469.45" y2="36.40" stroke="#111" stroke-width="1.1" />
<line x1="458.90" y1="34.90" x2="458.90" y2="37.90" stroke="#111" stroke-width="1" />
<line x1="469.45" y1="34.90" x2="469.45" y2="37.90" stroke="#111" stroke-width="1" />
<circle cx="464.18" cy="32.30" r="1.1" fill="#222"/>
<text transform="translate(467.70,106.40) rotate(-45)" font-size="6.7" text-anchor="end" fill="#231f20">S100A9</text>
<line x1="491.10" y1="62.20" x2="491.10" y2="60.90" stroke="#111" stroke-width="1.1" />
<line x1="488.90" y1="60.90" x2="493.30" y2="60.90" stroke="#111" stroke-width="1.1" />
<rect x="485.90" y="62.20" width="10.40" height="34.10" fill="#b3002d" stroke="none" stroke-width="1" />
<line x1="501.60" y1="40.20" x2="501.60" y2="38.90" stroke="#111" stroke-width="1.1" />
<line x1="499.40" y1="38.90" x2="503.80" y2="38.90" stroke="#111" stroke-width="1.1" />
<rect x="496.30" y="40.20" width="10.60" height="56.10" fill="#2c4b8c" stroke="none" stroke-width="1" />
<line x1="496.30" y1="96.30" x2="496.30" y2="99.20" stroke="#111" stroke-width="1" />
<line x1="491.10" y1="36.40" x2="501.60" y2="36.40" stroke="#111" stroke-width="1.1" />
<line x1="491.10" y1="34.90" x2="491.10" y2="37.90" stroke="#111" stroke-width="1" />
<line x1="501.60" y1="34.90" x2="501.60" y2="37.90" stroke="#111" stroke-width="1" />
<circle cx="496.35" cy="32.30" r="1.1" fill="#222"/>
<text transform="translate(499.90,106.40) rotate(-45)" font-size="6.7" text-anchor="end" fill="#231f20">S100A8/A9</text>
<text transform="translate(382.00,62.90) rotate(-90) scale(1.0870,1)" x="0" y="0" font-size="7.54" text-anchor="middle" fill="#231f20">[S100] (ng/ml)</text>
<rect x="433.80" y="20.50" width="4.30" height="4.00" fill="#b3002d" stroke="none" stroke-width="1" />
<text x="441.00" y="24.60" font-size="6.7" text-anchor="start" font-weight="normal" fill="#231f20"  style="">Control</text>
<rect x="472.40" y="20.50" width="4.30" height="4.00" fill="#2c4b8c" stroke="none" stroke-width="1" />
<text x="478.90" y="24.60" font-size="6.7" text-anchor="start" font-weight="normal" fill="#231f20"  style="">AML</text>
<text x="8.80" y="161.30" font-size="11.5" text-anchor="start" font-weight="bold" fill="#000"  style="">E</text>
<line x1="33.70" y1="181.20" x2="33.70" y2="247.50" stroke="#111" stroke-width="1.3" />
<line x1="33.10" y1="247.50" x2="127.50" y2="247.50" stroke="#111" stroke-width="1.3" />
<line x1="30.90" y1="247.50" x2="33.70" y2="247.50" stroke="#111" stroke-width="1.1" />
<text x="28.40" y="249.70" font-size="6.4" text-anchor="end" font-weight="normal" fill="#231f20"  style="">0</text>
<line x1="30.90" y1="234.60" x2="33.70" y2="234.60" stroke="#111" stroke-width="1.1" />
<text x="28.40" y="236.80" font-size="6.4" text-anchor="end" font-weight="normal" fill="#231f20"  style="">10</text>
<line x1="30.90" y1="221.70" x2="33.70" y2="221.70" stroke="#111" stroke-width="1.1" />
<text x="28.40" y="223.90" font-size="6.4" text-anchor="end" font-weight="normal" fill="#231f20"  style="">20</text>
<line x1="30.90" y1="208.80" x2="33.70" y2="208.80" stroke="#111" stroke-width="1.1" />
<text x="28.40" y="211.00" font-size="6.4" text-anchor="end" font-weight="normal" fill="#231f20"  style="">30</text>
<line x1="30.90" y1="195.90" x2="33.70" y2="195.90" stroke="#111" stroke-width="1.1" />
<text x="28.40" y="198.10" font-size="6.4" text-anchor="end" font-weight="normal" fill="#231f20"  style="">40</text>
<line x1="30.90" y1="183.00" x2="33.70" y2="183.00" stroke="#111" stroke-width="1.1" />
<text x="28.40" y="185.20" font-size="6.4" text-anchor="end" font-weight="normal" fill="#231f20"  style="">50</text>
<line x1="33.70" y1="247.50" x2="33.70" y2="250.30" stroke="#111" stroke-width="1.1" />
<text x="33.70" y="258.60" font-size="6.3" text-anchor="middle" font-weight="normal" fill="#231f20"  style="">0</text>
<line x1="52.40" y1="247.50" x2="52.40" y2="250.30" stroke="#111" stroke-width="1.1" />
<text x="52.40" y="258.60" font-size="6.3" text-anchor="middle" font-weight="normal" fill="#231f20"  style="">20</text>
<line x1="71.10" y1="247.50" x2="71.10" y2="250.30" stroke="#111" stroke-width="1.1" />
<text x="71.10" y="258.60" font-size="6.3" text-anchor="middle" font-weight="normal" fill="#231f20"  style="">40</text>
<line x1="89.80" y1="247.50" x2="89.80" y2="250.30" stroke="#111" stroke-width="1.1" />
<text x="89.80" y="258.60" font-size="6.3" text-anchor="middle" font-weight="normal" fill="#231f20"  style="">60</text>
<line x1="108.50" y1="247.50" x2="108.50" y2="250.30" stroke="#111" stroke-width="1.1" />
<text x="108.50" y="258.60" font-size="6.3" text-anchor="middle" font-weight="normal" fill="#231f20"  style="">80</text>
<line x1="127.20" y1="247.50" x2="127.20" y2="250.30" stroke="#111" stroke-width="1.1" />
<text x="127.20" y="258.60" font-size="6.3" text-anchor="middle" font-weight="normal" fill="#231f20"  style="">100</text>
<text transform="translate(13.80,213.90) rotate(-90) scale(1.1111,1)" x="0" y="0" font-size="7.20" text-anchor="middle" fill="#231f20">[S100A8/A9] (µg/ml)</text>
<text transform="translate(83.00,271.40) scale(0.8333,1)" x="0" y="0" font-size="9.24" text-anchor="middle" fill="#231f20">Leukemic cells in PB (%)</text>
<text x="35.9" y="181.0" font-size="6.6" fill="#231f20">Spearman <tspan font-style="italic">r</tspan> =0.9767</text>
<text x="35.90" y="191.00" font-size="6.6" text-anchor="start" font-weight="normal" fill="#231f20"  style="">P-value =0.0003</text>
<line x1="35.00" y1="247.00" x2="112.50" y2="197.00" stroke="#2b3a55" stroke-width="1.1" />
<circle cx="89.5" cy="200.3" r="1.5" fill="#901a40"/>
<circle cx="98.8" cy="200.5" r="1.5" fill="#901a40"/>
<circle cx="108.0" cy="193.4" r="1.5" fill="#901a40"/>
<circle cx="112.6" cy="195.5" r="1.5" fill="#901a40"/>
<circle cx="89.5" cy="217.0" r="1.5" fill="#901a40"/>
<circle cx="98.8" cy="218.2" r="1.5" fill="#901a40"/>
<circle cx="61.5" cy="226.6" r="1.5" fill="#901a40"/>
<circle cx="61.5" cy="234.6" r="1.5" fill="#901a40"/>
<circle cx="75.6" cy="231.9" r="1.5" fill="#901a40"/>
<circle cx="34.6" cy="242.6" r="1.5" fill="#901a40"/>
<circle cx="34.4" cy="246.4" r="1.5" fill="#901a40"/>
<circle cx="37.6" cy="246.4" r="1.5" fill="#901a40"/>
<circle cx="35.8" cy="244.5" r="1.5" fill="#901a40"/>
<circle cx="33.8" cy="247.0" r="1.5" fill="#901a40"/>
<text x="142.50" y="161.30" font-size="11.5" text-anchor="start" font-weight="bold" fill="#000"  style="">F</text>
<g transform="translate(141.50,205.50) scale(1.0)" stroke="#3a3a3a" stroke-width="0.75" stroke-linejoin="round" stroke-linecap="round"><path d="M13,10.3 C10,11.8 6,12 3.5,10.8 C2,10.2 0.8,8.8 0,7.2" fill="none" stroke="#555" stroke-width="0.9"/><path d="M13,10.3 C13.4,5 15,0.6 19.2,-0.6 C23.5,-1.1 27,2 29,5 C30.2,6.8 31.2,8.5 31.8,10.2 C32,11.8 31,12.8 29.8,12.7 C28,12.5 26.5,12 24,11.9 C20.5,11.8 16.5,11.3 13,10.3 Z" fill="#ffffff"/><path d="M24.5,2 C26.2,2.8 27.6,4 28.6,5.4" fill="none" stroke="#222" stroke-width="1.1"/><path d="M28,10.5 L29.5,12.4 M26,11 L27.2,12.6" fill="none" stroke-width="0.6"/><ellipse cx="21.8" cy="8.2" rx="2.1" ry="1.3" fill="none" stroke="#333" stroke-width="0.8" transform="rotate(-15 21.8 8.2)"/><ellipse cx="21.8" cy="8.2" rx="0.9" ry="0.5" fill="#555" stroke="none" transform="rotate(-15 21.8 8.2)"/><circle cx="29.8" cy="9.6" r="0.45" fill="#333" stroke="none"/></g>
<text x="158.50" y="228.00" font-size="6.6" text-anchor="middle" font-weight="normal" fill="#231f20"  style="stroke:none">Leukemic</text>
<text x="157.00" y="234.60" font-size="6.6" text-anchor="middle" font-weight="normal" fill="#231f20"  style="stroke:none">mice WT</text>
<line x1="174.80" y1="217.60" x2="181.00" y2="217.80" stroke="#111" stroke-width="1.1" />
<path d="M184.00,217.90 L180.95,219.40 L181.05,216.20 Z" fill="#111"/>
<text x="195.70" y="193.60" font-size="6.6" text-anchor="middle" font-weight="normal" fill="#231f20"  style="stroke:none">AML cells</text>
<text x="195.0" y="200.7" font-size="6.6" text-anchor="middle" fill="#231f20" style="stroke:none">HOXA9-MEIS1<tspan dy="-2.6" font-size="4.2">+</tspan></text>
<circle cx="187.7" cy="212.1" r="3.0" fill="#a3a1c2" stroke="#77749a" stroke-width="0.7"/>
<circle cx="187.89999999999998" cy="212.4" r="1.35" fill="#8a86ad"/>
<circle cx="194.1" cy="211.5" r="3.0" fill="#a3a1c2" stroke="#77749a" stroke-width="0.7"/>
<circle cx="194.29999999999998" cy="211.8" r="1.35" fill="#8a86ad"/>
<circle cx="194.1" cy="216.3" r="3.0" fill="#a3a1c2" stroke="#77749a" stroke-width="0.7"/>
<circle cx="194.29999999999998" cy="216.60000000000002" r="1.35" fill="#8a86ad"/>
<circle cx="195.5" cy="220.9" r="3.2" fill="#a3a1c2" stroke="#77749a" stroke-width="0.7"/>
<circle cx="195.7" cy="221.20000000000002" r="1.44" fill="#8a86ad"/>
<circle cx="201.5" cy="210.7" r="3.2" fill="#a3a1c2" stroke="#77749a" stroke-width="0.7"/>
<circle cx="201.7" cy="211.0" r="1.44" fill="#8a86ad"/>
<circle cx="203.2" cy="218.5" r="2.8" fill="#a3a1c2" stroke="#77749a" stroke-width="0.7"/>
<circle cx="203.39999999999998" cy="218.8" r="1.26" fill="#8a86ad"/>
<circle cx="208.9" cy="215.4" r="2.8" fill="#a3a1c2" stroke="#77749a" stroke-width="0.7"/>
<circle cx="209.1" cy="215.70000000000002" r="1.26" fill="#8a86ad"/>
<line x1="213.00" y1="215.00" x2="224.47" y2="203.61" stroke="#111" stroke-width="1.1" />
<path d="M226.60,201.50 L225.60,204.75 L223.34,202.48 Z" fill="#111"/>
<line x1="214.00" y1="218.10" x2="223.00" y2="218.48" stroke="#111" stroke-width="1.1" />
<path d="M226.00,218.60 L222.94,220.07 L223.07,216.88 Z" fill="#111"/>
<line x1="213.00" y1="221.00" x2="226.10" y2="233.16" stroke="#111" stroke-width="1.1" />
<path d="M228.30,235.20 L225.01,234.33 L227.19,231.99 Z" fill="#111"/>
<g transform="translate(228.00,188.60) scale(1.0)" stroke="#3a3a3a" stroke-width="0.75" stroke-linejoin="round" stroke-linecap="round"><path d="M13,10.3 C10,11.8 6,12 3.5,10.8 C2,10.2 0.8,8.8 0,7.2" fill="none" stroke="#555" stroke-width="0.9"/><path d="M13,10.3 C13.4,5 15,0.6 19.2,-0.6 C23.5,-1.1 27,2 29,5 C30.2,6.8 31.2,8.5 31.8,10.2 C32,11.8 31,12.8 29.8,12.7 C28,12.5 26.5,12 24,11.9 C20.5,11.8 16.5,11.3 13,10.3 Z" fill="#ffffff"/><path d="M24.5,2 C26.2,2.8 27.6,4 28.6,5.4" fill="none" stroke="#222" stroke-width="1.1"/><path d="M28,10.5 L29.5,12.4 M26,11 L27.2,12.6" fill="none" stroke-width="0.6"/><ellipse cx="21.8" cy="8.2" rx="2.1" ry="1.3" fill="none" stroke="#333" stroke-width="0.8" transform="rotate(-15 21.8 8.2)"/><ellipse cx="21.8" cy="8.2" rx="0.9" ry="0.5" fill="#555" stroke="none" transform="rotate(-15 21.8 8.2)"/><circle cx="29.8" cy="9.6" r="0.45" fill="#333" stroke="none"/></g>
<g transform="translate(234.00,178.80) rotate(52)"><rect x="0" y="-1.35" width="8.8" height="2.7" rx="0.4" fill="#a9c3dc" stroke="#56708f" stroke-width="0.55"/><line x1="1" y1="0.2" x2="8" y2="0.2" stroke="#6f8db0" stroke-width="0.6"/><line x1="-2.4" y1="0" x2="0" y2="0" stroke="#4f6a8c" stroke-width="0.8"/><line x1="-2.4" y1="-1.5" x2="-2.4" y2="1.5" stroke="#4f6a8c" stroke-width="0.8"/><line x1="8.8" y1="0" x2="12.6" y2="0" stroke="#666" stroke-width="0.5"/></g>
<text x="241.60" y="186.40" font-size="6.3" text-anchor="start" font-weight="normal" fill="#231f20"  style="stroke:none">WT</text>
<g transform="translate(228.00,216.60) scale(1.0)" stroke="#3a3a3a" stroke-width="0.75" stroke-linejoin="round" stroke-linecap="round"><path d="M13,10.3 C10,11.8 6,12 3.5,10.8 C2,10.2 0.8,8.8 0,7.2" fill="none" stroke="#555" stroke-width="0.9"/><path d="M13,10.3 C13.4,5 15,0.6 19.2,-0.6 C23.5,-1.1 27,2 29,5 C30.2,6.8 31.2,8.5 31.8,10.2 C32,11.8 31,12.8 29.8,12.7 C28,12.5 26.5,12 24,11.9 C20.5,11.8 16.5,11.3 13,10.3 Z" fill="#f3dde1"/><path d="M24.5,2 C26.2,2.8 27.6,4 28.6,5.4" fill="none" stroke="#222" stroke-width="1.1"/><path d="M28,10.5 L29.5,12.4 M26,11 L27.2,12.6" fill="none" stroke-width="0.6"/><ellipse cx="21.8" cy="8.2" rx="2.1" ry="1.3" fill="none" stroke="#333" stroke-width="0.8" transform="rotate(-15 21.8 8.2)"/><ellipse cx="21.8" cy="8.2" rx="0.9" ry="0.5" fill="#555" stroke="none" transform="rotate(-15 21.8 8.2)"/><circle cx="29.8" cy="9.6" r="0.45" fill="#333" stroke="none"/></g>
<g transform="translate(234.00,206.60) rotate(52)"><rect x="0" y="-1.35" width="8.8" height="2.7" rx="0.4" fill="#a9c3dc" stroke="#56708f" stroke-width="0.55"/><line x1="1" y1="0.2" x2="8" y2="0.2" stroke="#6f8db0" stroke-width="0.6"/><line x1="-2.4" y1="0" x2="0" y2="0" stroke="#4f6a8c" stroke-width="0.8"/><line x1="-2.4" y1="-1.5" x2="-2.4" y2="1.5" stroke="#4f6a8c" stroke-width="0.8"/><line x1="8.8" y1="0" x2="12.6" y2="0" stroke="#666" stroke-width="0.5"/></g>
<text x="239.60" y="209.30" font-size="6.3" text-anchor="start" font-weight="normal" fill="#231f20"  style="stroke:none">S100A8KO</text>
<g transform="translate(228.00,244.20) scale(1.0)" stroke="#3a3a3a" stroke-width="0.75" stroke-linejoin="round" stroke-linecap="round"><path d="M13,10.3 C10,11.8 6,12 3.5,10.8 C2,10.2 0.8,8.8 0,7.2" fill="none" stroke="#555" stroke-width="0.9"/><path d="M13,10.3 C13.4,5 15,0.6 19.2,-0.6 C23.5,-1.1 27,2 29,5 C30.2,6.8 31.2,8.5 31.8,10.2 C32,11.8 31,12.8 29.8,12.7 C28,12.5 26.5,12 24,11.9 C20.5,11.8 16.5,11.3 13,10.3 Z" fill="#d8d1a4"/><path d="M24.5,2 C26.2,2.8 27.6,4 28.6,5.4" fill="none" stroke="#222" stroke-width="1.1"/><path d="M28,10.5 L29.5,12.4 M26,11 L27.2,12.6" fill="none" stroke-width="0.6"/><ellipse cx="21.8" cy="8.2" rx="2.1" ry="1.3" fill="none" stroke="#333" stroke-width="0.8" transform="rotate(-15 21.8 8.2)"/><ellipse cx="21.8" cy="8.2" rx="0.9" ry="0.5" fill="#555" stroke="none" transform="rotate(-15 21.8 8.2)"/><circle cx="29.8" cy="9.6" r="0.45" fill="#333" stroke="none"/></g>
<g transform="translate(234.00,234.60) rotate(52)"><rect x="0" y="-1.35" width="8.8" height="2.7" rx="0.4" fill="#a9c3dc" stroke="#56708f" stroke-width="0.55"/><line x1="1" y1="0.2" x2="8" y2="0.2" stroke="#6f8db0" stroke-width="0.6"/><line x1="-2.4" y1="0" x2="0" y2="0" stroke="#4f6a8c" stroke-width="0.8"/><line x1="-2.4" y1="-1.5" x2="-2.4" y2="1.5" stroke="#4f6a8c" stroke-width="0.8"/><line x1="8.8" y1="0" x2="12.6" y2="0" stroke="#666" stroke-width="0.5"/></g>
<text x="239.60" y="237.30" font-size="6.3" text-anchor="start" font-weight="normal" fill="#231f20"  style="stroke:none">S100A9KO</text>
<text x="281.40" y="161.30" font-size="11.5" text-anchor="start" font-weight="bold" fill="#000"  style="">G</text>
<line x1="310.60" y1="179.80" x2="310.60" y2="247.40" stroke="#111" stroke-width="1.3" />
<line x1="310.00" y1="247.40" x2="370.80" y2="247.40" stroke="#111" stroke-width="1.3" />
<line x1="306.60" y1="247.40" x2="310.60" y2="247.40" stroke="#111" stroke-width="1.1" />
<text x="305.00" y="249.60" font-size="6.3" text-anchor="end" font-weight="normal" fill="#231f20"  style="">1</text>
<line x1="309.10" y1="237.68" x2="310.60" y2="237.68" stroke="#111" stroke-width="0.7" />
<line x1="309.10" y1="231.99" x2="310.60" y2="231.99" stroke="#111" stroke-width="0.7" />
<line x1="309.10" y1="227.95" x2="310.60" y2="227.95" stroke="#111" stroke-width="0.7" />
<line x1="309.10" y1="224.82" x2="310.60" y2="224.82" stroke="#111" stroke-width="0.7" />
<line x1="309.10" y1="222.27" x2="310.60" y2="222.27" stroke="#111" stroke-width="0.7" />
<line x1="309.10" y1="220.10" x2="310.60" y2="220.10" stroke="#111" stroke-width="0.7" />
<line x1="309.10" y1="218.23" x2="310.60" y2="218.23" stroke="#111" stroke-width="0.7" />
<line x1="309.10" y1="216.58" x2="310.60" y2="216.58" stroke="#111" stroke-width="0.7" />
<line x1="306.60" y1="215.10" x2="310.60" y2="215.10" stroke="#111" stroke-width="1.1" />
<text x="305.00" y="217.30" font-size="6.3" text-anchor="end" font-weight="normal" fill="#231f20"  style="">10</text>
<line x1="309.10" y1="205.38" x2="310.60" y2="205.38" stroke="#111" stroke-width="0.7" />
<line x1="309.10" y1="199.69" x2="310.60" y2="199.69" stroke="#111" stroke-width="0.7" />
<line x1="309.10" y1="195.65" x2="310.60" y2="195.65" stroke="#111" stroke-width="0.7" />
<line x1="309.10" y1="192.52" x2="310.60" y2="192.52" stroke="#111" stroke-width="0.7" />
<line x1="309.10" y1="189.97" x2="310.60" y2="189.97" stroke="#111" stroke-width="0.7" />
<line x1="309.10" y1="187.80" x2="310.60" y2="187.80" stroke="#111" stroke-width="0.7" />
<line x1="309.10" y1="185.93" x2="310.60" y2="185.93" stroke="#111" stroke-width="0.7" />
<line x1="309.10" y1="184.28" x2="310.60" y2="184.28" stroke="#111" stroke-width="0.7" />
<line x1="306.60" y1="182.80" x2="310.60" y2="182.80" stroke="#111" stroke-width="1.1" />
<text x="305.00" y="185.00" font-size="6.3" text-anchor="end" font-weight="normal" fill="#231f20"  style="">100</text>
<line x1="319.75" y1="191.10" x2="319.75" y2="187.40" stroke="#111" stroke-width="1.1" />
<line x1="317.55" y1="187.40" x2="321.95" y2="187.40" stroke="#111" stroke-width="1.1" />
<rect x="314.10" y="191.10" width="11.30" height="56.30" fill="#b3002d" stroke="none" stroke-width="1" />
<line x1="319.75" y1="247.40" x2="319.75" y2="250.20" stroke="#111" stroke-width="1" />
<text transform="translate(325.35,256.60) rotate(-45)" font-size="6.5" text-anchor="end" fill="#231f20">WT</text>
<line x1="341.30" y1="200.40" x2="341.30" y2="197.40" stroke="#111" stroke-width="1.1" />
<line x1="339.10" y1="197.40" x2="343.50" y2="197.40" stroke="#111" stroke-width="1.1" />
<rect x="335.90" y="200.40" width="10.80" height="47.00" fill="#2c4b8c" stroke="none" stroke-width="1" />
<line x1="341.30" y1="247.40" x2="341.30" y2="250.20" stroke="#111" stroke-width="1" />
<text transform="translate(346.90,256.60) rotate(-45)" font-size="6.5" text-anchor="end" fill="#231f20">S100A8KO</text>
<line x1="362.80" y1="189.10" x2="362.80" y2="187.60" stroke="#111" stroke-width="1.1" />
<line x1="360.60" y1="187.60" x2="365.00" y2="187.60" stroke="#111" stroke-width="1.1" />
<rect x="357.60" y="189.10" width="10.40" height="58.30" fill="#6aaa3c" stroke="none" stroke-width="1" />
<line x1="362.80" y1="247.40" x2="362.80" y2="250.20" stroke="#111" stroke-width="1" />
<text transform="translate(368.40,256.60) rotate(-45)" font-size="6.5" text-anchor="end" fill="#231f20">S100A9KO</text>
<text x="341.60" y="194.70" font-size="6.6" text-anchor="middle" font-weight="normal" fill="#231f20"  style="">ns</text>
<text x="363.00" y="184.20" font-size="6.6" text-anchor="middle" font-weight="normal" fill="#231f20"  style="">ns</text>
<text transform="translate(286.00,212.90) rotate(-90) scale(1.1111,1)" x="0" y="0" font-size="7.20" text-anchor="middle" fill="#231f20">[S100A8/A9] (µg/ml)</text>
<text x="381.80" y="162.00" font-size="11.5" text-anchor="start" font-weight="bold" fill="#000"  style="">H</text>
<line x1="410.40" y1="181.00" x2="410.40" y2="247.20" stroke="#111" stroke-width="1.3" />
<line x1="409.80" y1="247.20" x2="510.80" y2="247.20" stroke="#111" stroke-width="1.3" />
<line x1="407.80" y1="247.20" x2="410.40" y2="247.20" stroke="#111" stroke-width="1.1" />
<text x="406.00" y="249.40" font-size="6.3" text-anchor="end" font-weight="normal" fill="#231f20"  style="">0</text>
<line x1="407.80" y1="231.00" x2="410.40" y2="231.00" stroke="#111" stroke-width="1.1" />
<text x="406.00" y="233.20" font-size="6.3" text-anchor="end" font-weight="normal" fill="#231f20"  style="">25</text>
<line x1="407.80" y1="214.80" x2="410.40" y2="214.80" stroke="#111" stroke-width="1.1" />
<text x="406.00" y="217.00" font-size="6.3" text-anchor="end" font-weight="normal" fill="#231f20"  style="">50</text>
<line x1="407.80" y1="198.60" x2="410.40" y2="198.60" stroke="#111" stroke-width="1.1" />
<text x="406.00" y="200.80" font-size="6.3" text-anchor="end" font-weight="normal" fill="#231f20"  style="">75</text>
<line x1="407.80" y1="182.40" x2="410.40" y2="182.40" stroke="#111" stroke-width="1.1" />
<text x="406.00" y="184.60" font-size="6.3" text-anchor="end" font-weight="normal" fill="#231f20"  style="">100</text>
<line x1="410.40" y1="247.20" x2="410.40" y2="250.00" stroke="#111" stroke-width="1.1" />
<text x="410.40" y="259.40" font-size="6.3" text-anchor="middle" font-weight="normal" fill="#231f20"  style="">0</text>
<line x1="430.28" y1="247.20" x2="430.28" y2="250.00" stroke="#111" stroke-width="1.1" />
<text x="430.28" y="259.40" font-size="6.3" text-anchor="middle" font-weight="normal" fill="#231f20"  style="">10</text>
<line x1="450.16" y1="247.20" x2="450.16" y2="250.00" stroke="#111" stroke-width="1.1" />
<text x="450.16" y="259.40" font-size="6.3" text-anchor="middle" font-weight="normal" fill="#231f20"  style="">20</text>
<line x1="470.04" y1="247.20" x2="470.04" y2="250.00" stroke="#111" stroke-width="1.1" />
<text x="470.04" y="259.40" font-size="6.3" text-anchor="middle" font-weight="normal" fill="#231f20"  style="">30</text>
<line x1="489.92" y1="247.20" x2="489.92" y2="250.00" stroke="#111" stroke-width="1.1" />
<text x="489.92" y="259.40" font-size="6.3" text-anchor="middle" font-weight="normal" fill="#231f20"  style="">40</text>
<line x1="509.80" y1="247.20" x2="509.80" y2="250.00" stroke="#111" stroke-width="1.1" />
<text x="509.80" y="259.40" font-size="6.3" text-anchor="middle" font-weight="normal" fill="#231f20"  style="">50</text>
<text transform="translate(389.30,213.20) rotate(-90)" font-size="8.1" text-anchor="middle" fill="#231f20" >Survival (%)</text>
<text transform="translate(461.00,270.80) scale(0.8333,1)" x="0" y="0" font-size="9.24" text-anchor="middle" fill="#231f20">Days post-transplantation</text>
<path d="M410.40,182.40 H468.25 V195.36 H472.23 V221.28 H487.93 V234.24 H493.90 V247.20" fill="none" stroke="#2c4b8c" stroke-width="1.4"/>
<path d="M410.40,182.40 H463.88 V193.22 H466.66 V203.98 H473.02 V225.62 H479.78 V247.20" fill="none" stroke="#6aaa3c" stroke-width="1.4"/>
<path d="M410.40,182.40 H463.88 V198.60 H466.06 V214.80 H473.62 V231.00 H479.78 V247.20" fill="none" stroke="#b3002d" stroke-width="1.4"/>
<text x="494.60" y="231.20" font-size="6.5" text-anchor="middle" font-weight="normal" fill="#231f20"  style="">ns</text>
<line x1="416.30" y1="155.20" x2="426.30" y2="155.20" stroke="#b3002d" stroke-width="1.4" />
<text x="429.4" y="157.50" font-size="6.5" fill="#231f20">WT (<tspan font-style="italic">n</tspan> = 4)</text>
<line x1="416.30" y1="164.50" x2="426.30" y2="164.50" stroke="#2c4b8c" stroke-width="1.4" />
<text x="429.4" y="166.80" font-size="6.5" fill="#231f20">S100A8KO (<tspan font-style="italic">n</tspan> = 5)</text>
<line x1="416.30" y1="173.20" x2="426.30" y2="173.20" stroke="#6aaa3c" stroke-width="1.4" />
<text x="429.4" y="175.50" font-size="6.5" fill="#231f20">S100A9KO (<tspan font-style="italic">n</tspan> = 6)</text>
<text x="19.00" y="305.30" font-size="10.5" text-anchor="start" font-weight="bold" fill="#000"  style="">I</text>
<text x="68.60" y="318.00" font-size="8.2" text-anchor="middle" font-weight="bold" fill="#111"  style="">BM</text>
<line x1="39.70" y1="322.60" x2="97.60" y2="322.60" stroke="#222" stroke-width="1.3" />
<text x="134.30" y="318.00" font-size="8.2" text-anchor="middle" font-weight="bold" fill="#111"  style="">PB</text>
<line x1="105.10" y1="322.60" x2="163.10" y2="322.60" stroke="#222" stroke-width="1.3" />
<text x="199.30" y="318.00" font-size="8.2" text-anchor="middle" font-weight="bold" fill="#111"  style="">Spleen</text>
<line x1="170.30" y1="322.60" x2="228.10" y2="322.60" stroke="#222" stroke-width="1.3" />
<rect x="38.90" y="325.60" width="59.30" height="57.20" fill="#fff" stroke="#8a8a8a" stroke-width="0.8" />
<line x1="65.80" y1="325.60" x2="65.80" y2="382.80" stroke="#a8a8a8" stroke-width="0.7" />
<line x1="38.90" y1="350.20" x2="98.20" y2="350.20" stroke="#a8a8a8" stroke-width="0.7" />
<line x1="38.90" y1="335.13" x2="39.90" y2="335.13" stroke="#999" stroke-width="0.5" />
<line x1="38.90" y1="344.67" x2="39.90" y2="344.67" stroke="#999" stroke-width="0.5" />
<line x1="38.90" y1="354.20" x2="39.90" y2="354.20" stroke="#999" stroke-width="0.5" />
<line x1="38.90" y1="363.73" x2="39.90" y2="363.73" stroke="#999" stroke-width="0.5" />
<line x1="38.90" y1="373.27" x2="39.90" y2="373.27" stroke="#999" stroke-width="0.5" />
<line x1="48.78" y1="382.80" x2="48.78" y2="381.80" stroke="#999" stroke-width="0.5" />
<line x1="58.67" y1="382.80" x2="58.67" y2="381.80" stroke="#999" stroke-width="0.5" />
<line x1="68.55" y1="382.80" x2="68.55" y2="381.80" stroke="#999" stroke-width="0.5" />
<line x1="78.43" y1="382.80" x2="78.43" y2="381.80" stroke="#999" stroke-width="0.5" />
<line x1="88.32" y1="382.80" x2="88.32" y2="381.80" stroke="#999" stroke-width="0.5" />
<rect x="104.30" y="325.60" width="59.40" height="57.20" fill="#fff" stroke="#8a8a8a" stroke-width="0.8" />
<line x1="130.70" y1="325.60" x2="130.70" y2="382.80" stroke="#a8a8a8" stroke-width="0.7" />
<line x1="104.30" y1="350.20" x2="163.70" y2="350.20" stroke="#a8a8a8" stroke-width="0.7" />
<line x1="104.30" y1="335.13" x2="105.30" y2="335.13" stroke="#999" stroke-width="0.5" />
<line x1="104.30" y1="344.67" x2="105.30" y2="344.67" stroke="#999" stroke-width="0.5" />
<line x1="104.30" y1="354.20" x2="105.30" y2="354.20" stroke="#999" stroke-width="0.5" />
<line x1="104.30" y1="363.73" x2="105.30" y2="363.73" stroke="#999" stroke-width="0.5" />
<line x1="104.30" y1="373.27" x2="105.30" y2="373.27" stroke="#999" stroke-width="0.5" />
<line x1="114.20" y1="382.80" x2="114.20" y2="381.80" stroke="#999" stroke-width="0.5" />
<line x1="124.10" y1="382.80" x2="124.10" y2="381.80" stroke="#999" stroke-width="0.5" />
<line x1="134.00" y1="382.80" x2="134.00" y2="381.80" stroke="#999" stroke-width="0.5" />
<line x1="143.90" y1="382.80" x2="143.90" y2="381.80" stroke="#999" stroke-width="0.5" />
<line x1="153.80" y1="382.80" x2="153.80" y2="381.80" stroke="#999" stroke-width="0.5" />
<rect x="169.50" y="325.60" width="59.20" height="57.20" fill="#fff" stroke="#8a8a8a" stroke-width="0.8" />
<line x1="196.20" y1="325.60" x2="196.20" y2="382.80" stroke="#a8a8a8" stroke-width="0.7" />
<line x1="169.50" y1="350.20" x2="228.70" y2="350.20" stroke="#a8a8a8" stroke-width="0.7" />
<line x1="169.50" y1="335.13" x2="170.50" y2="335.13" stroke="#999" stroke-width="0.5" />
<line x1="169.50" y1="344.67" x2="170.50" y2="344.67" stroke="#999" stroke-width="0.5" />
<line x1="169.50" y1="354.20" x2="170.50" y2="354.20" stroke="#999" stroke-width="0.5" />
<line x1="169.50" y1="363.73" x2="170.50" y2="363.73" stroke="#999" stroke-width="0.5" />
<line x1="169.50" y1="373.27" x2="170.50" y2="373.27" stroke="#999" stroke-width="0.5" />
<line x1="179.37" y1="382.80" x2="179.37" y2="381.80" stroke="#999" stroke-width="0.5" />
<line x1="189.23" y1="382.80" x2="189.23" y2="381.80" stroke="#999" stroke-width="0.5" />
<line x1="199.10" y1="382.80" x2="199.10" y2="381.80" stroke="#999" stroke-width="0.5" />
<line x1="208.97" y1="382.80" x2="208.97" y2="381.80" stroke="#999" stroke-width="0.5" />
<line x1="218.83" y1="382.80" x2="218.83" y2="381.80" stroke="#999" stroke-width="0.5" />
<rect x="38.90" y="392.50" width="59.30" height="57.70" fill="#fff" stroke="#8a8a8a" stroke-width="0.8" />
<line x1="65.80" y1="392.50" x2="65.80" y2="450.20" stroke="#a8a8a8" stroke-width="0.7" />
<line x1="38.90" y1="417.80" x2="98.20" y2="417.80" stroke="#a8a8a8" stroke-width="0.7" />
<line x1="38.90" y1="402.12" x2="39.90" y2="402.12" stroke="#999" stroke-width="0.5" />
<line x1="38.90" y1="411.73" x2="39.90" y2="411.73" stroke="#999" stroke-width="0.5" />
<line x1="38.90" y1="421.35" x2="39.90" y2="421.35" stroke="#999" stroke-width="0.5" />
<line x1="38.90" y1="430.97" x2="39.90" y2="430.97" stroke="#999" stroke-width="0.5" />
<line x1="38.90" y1="440.58" x2="39.90" y2="440.58" stroke="#999" stroke-width="0.5" />
<line x1="48.78" y1="450.20" x2="48.78" y2="449.20" stroke="#999" stroke-width="0.5" />
<line x1="58.67" y1="450.20" x2="58.67" y2="449.20" stroke="#999" stroke-width="0.5" />
<line x1="68.55" y1="450.20" x2="68.55" y2="449.20" stroke="#999" stroke-width="0.5" />
<line x1="78.43" y1="450.20" x2="78.43" y2="449.20" stroke="#999" stroke-width="0.5" />
<line x1="88.32" y1="450.20" x2="88.32" y2="449.20" stroke="#999" stroke-width="0.5" />
<rect x="104.30" y="392.50" width="59.40" height="57.70" fill="#fff" stroke="#8a8a8a" stroke-width="0.8" />
<line x1="130.70" y1="392.50" x2="130.70" y2="450.20" stroke="#a8a8a8" stroke-width="0.7" />
<line x1="104.30" y1="417.80" x2="163.70" y2="417.80" stroke="#a8a8a8" stroke-width="0.7" />
<line x1="104.30" y1="402.12" x2="105.30" y2="402.12" stroke="#999" stroke-width="0.5" />
<line x1="104.30" y1="411.73" x2="105.30" y2="411.73" stroke="#999" stroke-width="0.5" />
<line x1="104.30" y1="421.35" x2="105.30" y2="421.35" stroke="#999" stroke-width="0.5" />
<line x1="104.30" y1="430.97" x2="105.30" y2="430.97" stroke="#999" stroke-width="0.5" />
<line x1="104.30" y1="440.58" x2="105.30" y2="440.58" stroke="#999" stroke-width="0.5" />
<line x1="114.20" y1="450.20" x2="114.20" y2="449.20" stroke="#999" stroke-width="0.5" />
<line x1="124.10" y1="450.20" x2="124.10" y2="449.20" stroke="#999" stroke-width="0.5" />
<line x1="134.00" y1="450.20" x2="134.00" y2="449.20" stroke="#999" stroke-width="0.5" />
<line x1="143.90" y1="450.20" x2="143.90" y2="449.20" stroke="#999" stroke-width="0.5" />
<line x1="153.80" y1="450.20" x2="153.80" y2="449.20" stroke="#999" stroke-width="0.5" />
<rect x="169.50" y="392.50" width="59.20" height="57.70" fill="#fff" stroke="#8a8a8a" stroke-width="0.8" />
<line x1="196.20" y1="392.50" x2="196.20" y2="450.20" stroke="#a8a8a8" stroke-width="0.7" />
<line x1="169.50" y1="417.80" x2="228.70" y2="417.80" stroke="#a8a8a8" stroke-width="0.7" />
<line x1="169.50" y1="402.12" x2="170.50" y2="402.12" stroke="#999" stroke-width="0.5" />
<line x1="169.50" y1="411.73" x2="170.50" y2="411.73" stroke="#999" stroke-width="0.5" />
<line x1="169.50" y1="421.35" x2="170.50" y2="421.35" stroke="#999" stroke-width="0.5" />
<line x1="169.50" y1="430.97" x2="170.50" y2="430.97" stroke="#999" stroke-width="0.5" />
<line x1="169.50" y1="440.58" x2="170.50" y2="440.58" stroke="#999" stroke-width="0.5" />
<line x1="179.37" y1="450.20" x2="179.37" y2="449.20" stroke="#999" stroke-width="0.5" />
<line x1="189.23" y1="450.20" x2="189.23" y2="449.20" stroke="#999" stroke-width="0.5" />
<line x1="199.10" y1="450.20" x2="199.10" y2="449.20" stroke="#999" stroke-width="0.5" />
<line x1="208.97" y1="450.20" x2="208.97" y2="449.20" stroke="#999" stroke-width="0.5" />
<line x1="218.83" y1="450.20" x2="218.83" y2="449.20" stroke="#999" stroke-width="0.5" />
<text x="94.90" y="333.80" font-size="6.3" text-anchor="end" font-weight="normal" fill="#222"  style="">9.6</text>
<text x="41.60" y="380.60" font-size="6.3" text-anchor="start" font-weight="normal" fill="#222"  style="">1.1</text>
<text x="94.60" y="380.60" font-size="6.3" text-anchor="end" font-weight="normal" fill="#222"  style="">89.1</text>
<text x="159.90" y="333.80" font-size="6.3" text-anchor="end" font-weight="normal" fill="#222"  style="">20.5</text>
<text x="107.80" y="380.60" font-size="6.3" text-anchor="start" font-weight="normal" fill="#222"  style="">1</text>
<text x="160.30" y="380.60" font-size="6.3" text-anchor="end" font-weight="normal" fill="#222"  style="">77.7</text>
<text x="225.80" y="333.80" font-size="6.3" text-anchor="end" font-weight="normal" fill="#222"  style="">9.8</text>
<text x="172.20" y="380.60" font-size="6.3" text-anchor="start" font-weight="normal" fill="#222"  style="">29.6</text>
<text x="224.90" y="380.60" font-size="6.3" text-anchor="end" font-weight="normal" fill="#222"  style="">60.3</text>
<text x="94.50" y="400.40" font-size="6.3" text-anchor="end" font-weight="normal" fill="#222"  style="">10.8</text>
<text x="41.50" y="447.70" font-size="6.3" text-anchor="start" font-weight="normal" fill="#222"  style="">1.3</text>
<text x="94.50" y="447.70" font-size="6.3" text-anchor="end" font-weight="normal" fill="#222"  style="">87.5</text>
<text x="160.90" y="400.40" font-size="6.3" text-anchor="end" font-weight="normal" fill="#222"  style="">18</text>
<text x="107.30" y="447.70" font-size="6.3" text-anchor="start" font-weight="normal" fill="#222"  style="">7</text>
<text x="160.40" y="447.70" font-size="6.3" text-anchor="end" font-weight="normal" fill="#222"  style="">74.3</text>
<text x="225.10" y="400.40" font-size="6.3" text-anchor="end" font-weight="normal" fill="#222"  style="">8.1</text>
<text x="172.00" y="447.70" font-size="6.3" text-anchor="start" font-weight="normal" fill="#222"  style="">26.7</text>
<text x="225.40" y="447.70" font-size="6.3" text-anchor="end" font-weight="normal" fill="#222"  style="">64.7</text>
<defs><radialGradient id="hz"><stop offset="0" stop-color="#b8b8b8" stop-opacity="0.55"/><stop offset="0.6" stop-color="#c8c8c8" stop-opacity="0.3"/><stop offset="1" stop-color="#d0d0d0" stop-opacity="0"/></radialGradient></defs>
<ellipse cx="59" cy="365" rx="9" ry="4.5" fill="url(#hz)" transform="rotate(-35 59 365)"/>
<ellipse cx="120" cy="369" rx="10" ry="4.2" fill="url(#hz)" transform="rotate(-40 120 369)"/>
<ellipse cx="58" cy="432" rx="9" ry="4.5" fill="url(#hz)" transform="rotate(-35 58 432)"/>
<ellipse cx="118" cy="434" rx="13" ry="5.0" fill="url(#hz)" transform="rotate(-42 118 434)"/>
<ellipse cx="187" cy="371" rx="5" ry="3" fill="url(#hz)" transform="rotate(-60 187 371)"/>
<ellipse cx="182" cy="440" rx="5" ry="3" fill="url(#hz)" transform="rotate(-50 182 440)"/>
<circle cx="60.51" cy="367.15" r="0.35" fill="#9a9a9a"/><circle cx="61.18" cy="367.72" r="0.35" fill="#9a9a9a"/><circle cx="58.66" cy="363.60" r="0.35" fill="#9a9a9a"/><circle cx="53.50" cy="359.70" r="0.35" fill="#9a9a9a"/><circle cx="50.88" cy="358.94" r="0.35" fill="#9a9a9a"/><circle cx="61.22" cy="365.72" r="0.35" fill="#9a9a9a"/><circle cx="65.82" cy="366.08" r="0.35" fill="#9a9a9a"/><circle cx="55.05" cy="363.64" r="0.35" fill="#9a9a9a"/><circle cx="59.27" cy="368.42" r="0.35" fill="#9a9a9a"/><circle cx="69.79" cy="369.43" r="0.35" fill="#9a9a9a"/><circle cx="54.32" cy="360.93" r="0.35" fill="#9a9a9a"/><circle cx="60.95" cy="362.44" r="0.35" fill="#9a9a9a"/><circle cx="62.62" cy="366.57" r="0.35" fill="#9a9a9a"/><circle cx="64.19" cy="365.85" r="0.35" fill="#9a9a9a"/><circle cx="55.58" cy="360.49" r="0.35" fill="#9a9a9a"/><circle cx="59.38" cy="367.26" r="0.35" fill="#9a9a9a"/><circle cx="67.87" cy="368.90" r="0.35" fill="#9a9a9a"/><circle cx="61.81" cy="366.30" r="0.35" fill="#9a9a9a"/><circle cx="64.11" cy="368.59" r="0.35" fill="#9a9a9a"/><circle cx="64.28" cy="361.29" r="0.35" fill="#9a9a9a"/><circle cx="64.77" cy="366.43" r="0.35" fill="#9a9a9a"/><circle cx="57.70" cy="364.68" r="0.35" fill="#9a9a9a"/>
<circle cx="122.73" cy="368.35" r="0.35" fill="#9a9a9a"/><circle cx="110.87" cy="372.31" r="0.35" fill="#9a9a9a"/><circle cx="124.34" cy="367.88" r="0.35" fill="#9a9a9a"/><circle cx="111.47" cy="372.96" r="0.35" fill="#9a9a9a"/><circle cx="125.32" cy="368.14" r="0.35" fill="#9a9a9a"/><circle cx="123.56" cy="367.39" r="0.35" fill="#9a9a9a"/><circle cx="117.05" cy="371.44" r="0.35" fill="#9a9a9a"/><circle cx="118.87" cy="370.08" r="0.35" fill="#9a9a9a"/><circle cx="140.53" cy="364.85" r="0.35" fill="#9a9a9a"/><circle cx="121.81" cy="364.86" r="0.35" fill="#9a9a9a"/><circle cx="121.58" cy="370.65" r="0.35" fill="#9a9a9a"/><circle cx="116.77" cy="369.70" r="0.35" fill="#9a9a9a"/><circle cx="107.47" cy="374.39" r="0.35" fill="#9a9a9a"/><circle cx="117.43" cy="371.71" r="0.35" fill="#9a9a9a"/><circle cx="129.19" cy="366.16" r="0.35" fill="#9a9a9a"/><circle cx="126.91" cy="367.83" r="0.35" fill="#9a9a9a"/><circle cx="119.77" cy="368.69" r="0.35" fill="#9a9a9a"/><circle cx="115.89" cy="373.61" r="0.35" fill="#9a9a9a"/><circle cx="126.28" cy="365.00" r="0.35" fill="#9a9a9a"/><circle cx="126.05" cy="365.73" r="0.35" fill="#9a9a9a"/><circle cx="111.97" cy="374.59" r="0.35" fill="#9a9a9a"/><circle cx="113.32" cy="374.15" r="0.35" fill="#9a9a9a"/><circle cx="122.20" cy="370.81" r="0.35" fill="#9a9a9a"/><circle cx="124.07" cy="370.85" r="0.35" fill="#9a9a9a"/><circle cx="123.09" cy="369.76" r="0.35" fill="#9a9a9a"/>
<circle cx="190.99" cy="373.60" r="0.35" fill="#9a9a9a"/><circle cx="188.43" cy="372.26" r="0.35" fill="#9a9a9a"/><circle cx="196.03" cy="369.96" r="0.35" fill="#9a9a9a"/><circle cx="191.76" cy="366.21" r="0.35" fill="#9a9a9a"/><circle cx="188.85" cy="368.81" r="0.35" fill="#9a9a9a"/><circle cx="188.63" cy="363.26" r="0.35" fill="#9a9a9a"/><circle cx="189.88" cy="368.87" r="0.35" fill="#9a9a9a"/><circle cx="191.29" cy="371.87" r="0.35" fill="#9a9a9a"/><circle cx="182.90" cy="372.08" r="0.35" fill="#9a9a9a"/><circle cx="189.31" cy="364.06" r="0.35" fill="#9a9a9a"/><circle cx="188.52" cy="369.55" r="0.35" fill="#9a9a9a"/><circle cx="193.48" cy="367.56" r="0.35" fill="#9a9a9a"/>
<circle cx="58.95" cy="427.09" r="0.35" fill="#9a9a9a"/><circle cx="59.02" cy="430.96" r="0.35" fill="#9a9a9a"/><circle cx="55.41" cy="432.65" r="0.35" fill="#9a9a9a"/><circle cx="68.76" cy="436.37" r="0.35" fill="#9a9a9a"/><circle cx="53.31" cy="433.80" r="0.35" fill="#9a9a9a"/><circle cx="56.00" cy="430.39" r="0.35" fill="#9a9a9a"/><circle cx="54.52" cy="431.31" r="0.35" fill="#9a9a9a"/><circle cx="61.32" cy="432.21" r="0.35" fill="#9a9a9a"/><circle cx="56.74" cy="430.31" r="0.35" fill="#9a9a9a"/><circle cx="55.60" cy="432.92" r="0.35" fill="#9a9a9a"/><circle cx="54.88" cy="429.84" r="0.35" fill="#9a9a9a"/><circle cx="56.75" cy="428.74" r="0.35" fill="#9a9a9a"/><circle cx="56.64" cy="426.86" r="0.35" fill="#9a9a9a"/><circle cx="60.45" cy="433.02" r="0.35" fill="#9a9a9a"/><circle cx="56.20" cy="434.58" r="0.35" fill="#9a9a9a"/><circle cx="53.09" cy="431.21" r="0.35" fill="#9a9a9a"/><circle cx="60.86" cy="430.33" r="0.35" fill="#9a9a9a"/><circle cx="56.56" cy="432.95" r="0.35" fill="#9a9a9a"/><circle cx="58.37" cy="431.82" r="0.35" fill="#9a9a9a"/><circle cx="66.37" cy="433.65" r="0.35" fill="#9a9a9a"/><circle cx="48.01" cy="426.60" r="0.35" fill="#9a9a9a"/><circle cx="62.99" cy="431.91" r="0.35" fill="#9a9a9a"/>
<circle cx="110.41" cy="430.39" r="0.35" fill="#9a9a9a"/><circle cx="121.58" cy="436.37" r="0.35" fill="#9a9a9a"/><circle cx="109.03" cy="430.33" r="0.35" fill="#9a9a9a"/><circle cx="122.96" cy="430.08" r="0.35" fill="#9a9a9a"/><circle cx="116.66" cy="432.90" r="0.35" fill="#9a9a9a"/><circle cx="111.82" cy="436.76" r="0.35" fill="#9a9a9a"/><circle cx="126.31" cy="431.48" r="0.35" fill="#9a9a9a"/><circle cx="114.58" cy="437.50" r="0.35" fill="#9a9a9a"/><circle cx="118.12" cy="434.96" r="0.35" fill="#9a9a9a"/><circle cx="111.57" cy="437.47" r="0.35" fill="#9a9a9a"/><circle cx="124.91" cy="434.59" r="0.35" fill="#9a9a9a"/><circle cx="119.23" cy="434.18" r="0.35" fill="#9a9a9a"/><circle cx="114.43" cy="437.11" r="0.35" fill="#9a9a9a"/><circle cx="125.17" cy="433.91" r="0.35" fill="#9a9a9a"/><circle cx="115.95" cy="430.61" r="0.35" fill="#9a9a9a"/><circle cx="118.47" cy="432.60" r="0.35" fill="#9a9a9a"/><circle cx="113.09" cy="436.78" r="0.35" fill="#9a9a9a"/><circle cx="126.52" cy="431.49" r="0.35" fill="#9a9a9a"/><circle cx="127.81" cy="431.04" r="0.35" fill="#9a9a9a"/><circle cx="111.28" cy="434.05" r="0.35" fill="#9a9a9a"/><circle cx="116.21" cy="435.92" r="0.35" fill="#9a9a9a"/><circle cx="126.31" cy="430.83" r="0.35" fill="#9a9a9a"/><circle cx="127.03" cy="427.87" r="0.35" fill="#9a9a9a"/><circle cx="118.11" cy="437.54" r="0.35" fill="#9a9a9a"/><circle cx="122.52" cy="434.73" r="0.35" fill="#9a9a9a"/><circle cx="104.09" cy="433.51" r="0.35" fill="#9a9a9a"/><circle cx="112.19" cy="438.23" r="0.35" fill="#9a9a9a"/><circle cx="131.85" cy="426.76" r="0.35" fill="#9a9a9a"/><circle cx="111.24" cy="432.86" r="0.35" fill="#9a9a9a"/><circle cx="111.97" cy="437.03" r="0.35" fill="#9a9a9a"/>
<circle cx="182.77" cy="445.39" r="0.35" fill="#9a9a9a"/><circle cx="186.86" cy="434.86" r="0.35" fill="#9a9a9a"/><circle cx="184.94" cy="436.64" r="0.35" fill="#9a9a9a"/><circle cx="187.13" cy="442.45" r="0.35" fill="#9a9a9a"/><circle cx="182.64" cy="440.70" r="0.35" fill="#9a9a9a"/><circle cx="186.26" cy="437.45" r="0.35" fill="#9a9a9a"/><circle cx="185.02" cy="440.60" r="0.35" fill="#9a9a9a"/><circle cx="182.76" cy="433.38" r="0.35" fill="#9a9a9a"/><circle cx="189.01" cy="438.91" r="0.35" fill="#9a9a9a"/><circle cx="181.67" cy="438.31" r="0.35" fill="#9a9a9a"/><circle cx="178.21" cy="435.11" r="0.35" fill="#9a9a9a"/><circle cx="178.66" cy="433.01" r="0.35" fill="#9a9a9a"/>
<path d="M72.1,369.2 L71.3,369.2 L70.5,369.2 L69.3,368.9 L68.5,368.5 L68.1,368.3 L67.2,367.6 L66.5,366.8 L66.2,366.4 L65.8,365.6 L65.4,364.4 L65.4,363.6 L65.4,362.8 L65.5,362.0 L65.9,360.8 L66.3,360.0 L67.7,357.6 L69.1,354.8 L69.5,354.0 L70.0,353.2 L70.7,352.4 L71.7,351.3 L73.1,350.0 L73.4,349.6 L73.6,349.2 L73.6,348.8 L73.5,348.4 L72.1,346.9 L71.7,346.4 L71.2,345.6 L70.8,344.4 L70.6,343.6 L70.6,342.4 L70.8,341.2 L71.1,340.4 L71.3,339.9 L71.8,339.2 L72.1,338.8 L72.9,338.2 L73.3,338.0 L74.1,337.7 L74.5,337.6 L75.3,337.7 L76.1,337.9 L76.5,338.1 L77.0,338.4 L77.7,339.0 L78.1,339.6 L78.5,340.4 L78.8,341.2 L79.0,342.0 L79.0,343.2 L78.8,344.4 L78.6,345.2 L78.2,346.0 L77.0,348.0 L76.9,348.4 L77.1,348.8 L77.6,349.2 L78.4,349.6 L80.5,350.6 L81.3,351.0 L82.5,351.8 L83.8,352.8 L85.0,354.0 L85.6,354.8 L86.3,356.0 L86.7,356.8 L87.0,357.6 L87.2,358.4 L87.4,359.6 L87.5,360.8 L87.4,361.6 L87.2,362.8 L87.0,363.6 L86.6,364.4 L86.0,365.6 L85.3,366.4 L84.5,367.2 L83.7,367.8 L82.9,368.2 L82.1,368.6 L81.3,368.9 L80.5,369.0 L79.7,369.1 L78.1,369.2 L74.9,369.0 L72.1,369.2" fill="none" stroke="#222" stroke-width="0.72"/><path d="M80.1,367.6 L79.3,367.7 L78.5,367.7 L74.9,367.5 L71.7,367.7 L70.5,367.6 L69.7,367.4 L69.3,367.2 L68.5,366.7 L68.1,366.3 L67.7,365.8 L67.3,365.2 L67.2,364.8 L67.0,364.0 L66.9,363.2 L67.0,362.4 L67.3,361.6 L67.8,360.4 L69.2,358.0 L70.3,355.6 L71.1,354.4 L71.7,353.7 L72.1,353.3 L72.6,352.8 L73.3,352.3 L74.5,351.7 L75.3,351.5 L76.1,351.4 L76.9,351.3 L77.7,351.4 L78.5,351.5 L79.3,351.7 L80.1,352.0 L80.9,352.4 L81.7,352.9 L82.5,353.5 L83.1,354.0 L83.7,354.6 L84.2,355.2 L84.7,356.0 L85.2,356.8 L85.5,357.6 L85.7,358.4 L85.9,359.2 L86.0,360.0 L86.0,360.8 L85.9,361.6 L85.8,362.4 L85.5,363.2 L85.2,364.0 L84.7,364.8 L84.3,365.2 L83.7,365.9 L83.0,366.4 L82.5,366.7 L81.7,367.1 L80.9,367.4 L80.1,367.6" fill="none" stroke="#222" stroke-width="0.72"/><path d="M79.7,366.4 L78.9,366.5 L78.1,366.5 L74.9,366.2 L73.7,366.2 L72.1,366.3 L70.9,366.1 L70.1,365.9 L69.7,365.6 L69.2,365.2 L68.9,364.8 L68.7,364.4 L68.6,364.0 L68.5,363.2 L68.5,362.8 L68.7,362.0 L69.0,361.2 L70.1,359.2 L71.1,356.8 L71.6,356.0 L72.1,355.2 L72.9,354.3 L73.7,353.6 L74.1,353.4 L74.9,353.0 L76.1,352.7 L76.9,352.6 L77.7,352.7 L78.5,352.8 L79.3,353.0 L80.5,353.5 L81.7,354.3 L82.3,354.8 L82.9,355.4 L83.4,356.0 L83.9,356.8 L84.4,358.0 L84.7,359.2 L84.8,360.0 L84.8,360.8 L84.7,361.6 L84.5,362.4 L84.3,362.8 L83.9,363.6 L83.4,364.4 L83.0,364.8 L82.1,365.5 L81.7,365.8 L80.9,366.1 L79.7,366.4" fill="none" stroke="#222" stroke-width="0.72"/><path d="M80.1,365.2 L78.9,365.5 L77.7,365.5 L76.9,365.4 L74.1,364.9 L72.5,364.6 L71.7,364.5 L71.3,364.3 L70.9,364.0 L70.6,363.6 L70.5,363.2 L70.4,362.8 L70.5,362.0 L71.9,358.0 L72.2,357.2 L72.6,356.4 L73.3,355.5 L74.1,354.8 L74.9,354.3 L75.3,354.1 L76.1,353.9 L77.3,353.7 L78.5,353.9 L79.7,354.3 L80.9,355.0 L81.7,355.6 L82.5,356.5 L83.1,357.6 L83.6,358.8 L83.7,360.0 L83.7,361.2 L83.5,362.0 L83.3,362.4 L82.9,363.2 L82.5,363.7 L82.1,364.1 L81.3,364.7 L80.9,364.9 L80.1,365.2" fill="none" stroke="#222" stroke-width="0.72"/><path d="M79.3,364.4 L78.5,364.5 L77.3,364.5 L76.5,364.3 L75.3,364.0 L74.1,363.5 L73.3,363.0 L73.1,362.8 L72.8,362.4 L72.6,362.0 L72.4,361.2 L72.5,360.0 L72.7,358.8 L73.1,357.6 L73.5,356.8 L74.2,356.0 L74.9,355.4 L75.7,355.0 L76.5,354.8 L76.9,354.7 L77.7,354.7 L78.9,355.0 L79.7,355.3 L80.5,355.8 L81.3,356.5 L81.9,357.2 L82.3,358.0 L82.5,358.4 L82.7,359.2 L82.8,359.6 L82.8,360.4 L82.7,361.2 L82.5,361.6 L82.2,362.4 L81.6,363.2 L80.9,363.8 L80.1,364.2 L79.3,364.4" fill="none" stroke="#222" stroke-width="0.72"/><path d="M79.3,363.6 L78.5,363.8 L77.7,363.7 L76.9,363.6 L76.1,363.4 L75.3,363.0 L74.5,362.5 L74.1,362.0 L73.8,361.6 L73.5,360.8 L73.4,360.0 L73.5,359.2 L73.7,358.4 L74.0,357.6 L74.5,356.8 L74.9,356.4 L75.7,355.9 L76.5,355.6 L77.3,355.5 L78.1,355.5 L78.5,355.6 L79.3,355.9 L80.1,356.4 L80.6,356.8 L81.3,357.6 L81.7,358.4 L81.9,359.2 L82.0,360.0 L82.0,360.8 L81.7,361.6 L81.3,362.3 L80.8,362.8 L80.1,363.3 L79.3,363.6" fill="none" stroke="#222" stroke-width="0.72"/><path d="M79.7,362.8 L79.3,363.0 L78.5,363.2 L77.7,363.1 L76.9,363.0 L76.1,362.7 L75.6,362.4 L75.1,362.0 L74.7,361.6 L74.5,361.2 L74.2,360.4 L74.1,359.6 L74.2,358.8 L74.5,358.0 L74.7,357.6 L75.3,356.9 L75.7,356.6 L76.1,356.4 L76.9,356.1 L77.7,356.1 L78.5,356.2 L79.3,356.5 L79.7,356.8 L80.2,357.2 L80.6,357.6 L80.8,358.0 L81.1,358.4 L81.3,359.2 L81.4,360.0 L81.3,360.8 L81.0,361.6 L80.7,362.0 L80.3,362.4 L79.7,362.8" fill="none" stroke="#222" stroke-width="0.72"/><path d="M79.3,362.5 L78.9,362.6 L78.1,362.7 L77.7,362.7 L76.9,362.5 L76.5,362.3 L75.9,362.0 L75.5,361.6 L75.1,361.2 L74.9,360.8 L74.7,360.0 L74.7,359.6 L74.8,358.8 L74.9,358.4 L75.3,357.7 L75.7,357.2 L76.1,356.9 L76.5,356.7 L77.3,356.6 L77.7,356.6 L78.5,356.7 L79.3,357.1 L79.7,357.4 L80.1,357.8 L80.5,358.4 L80.7,358.8 L80.9,359.6 L80.9,360.4 L80.8,360.8 L80.5,361.5 L80.1,361.9 L79.7,362.2 L79.3,362.5" fill="none" stroke="#222" stroke-width="0.72"/><path d="M78.9,362.1 L78.1,362.3 L77.7,362.2 L76.9,362.0 L76.1,361.5 L75.7,361.2 L75.5,360.8 L75.3,360.4 L75.2,360.0 L75.1,359.6 L75.2,358.8 L75.4,358.4 L75.7,357.9 L76.1,357.5 L76.5,357.2 L76.9,357.1 L77.7,357.0 L78.1,357.0 L78.6,357.2 L79.3,357.6 L79.7,357.9 L80.1,358.4 L80.3,358.8 L80.5,359.6 L80.5,360.0 L80.5,360.4 L80.3,360.8 L80.1,361.2 L79.8,361.6 L79.3,362.0 L78.9,362.1" fill="none" stroke="#222" stroke-width="0.72"/><path d="M78.9,361.7 L78.5,361.8 L78.1,361.8 L77.7,361.8 L77.3,361.7 L76.9,361.6 L76.5,361.3 L76.0,360.8 L75.7,360.4 L75.6,360.0 L75.6,359.6 L75.6,359.2 L75.7,358.8 L75.9,358.4 L76.2,358.0 L76.5,357.7 L76.9,357.5 L77.3,357.4 L77.7,357.4 L78.1,357.4 L78.5,357.6 L78.9,357.8 L79.3,358.1 L79.7,358.5 L80.0,359.2 L80.1,359.6 L80.1,360.0 L80.0,360.4 L79.9,360.8 L79.6,361.2 L79.3,361.5 L78.9,361.7" fill="none" stroke="#222" stroke-width="0.72"/><path d="M78.9,361.2 L78.5,361.4 L78.1,361.5 L77.7,361.4 L77.3,361.3 L76.9,361.2 L76.5,360.8 L76.2,360.4 L76.0,360.0 L76.0,359.6 L76.0,359.2 L76.1,358.8 L76.3,358.4 L76.8,358.0 L77.3,357.8 L77.7,357.8 L78.1,357.8 L78.5,358.0 L78.9,358.2 L79.1,358.4 L79.4,358.8 L79.6,359.2 L79.7,359.6 L79.7,360.1 L79.6,360.4 L79.4,360.8 L78.9,361.2" fill="none" stroke="#222" stroke-width="0.72"/><path d="M78.9,360.8 L78.5,361.0 L78.1,361.1 L77.7,361.1 L77.3,361.0 L77.0,360.8 L76.6,360.4 L76.4,360.0 L76.3,359.6 L76.4,359.2 L76.5,358.8 L76.9,358.4 L77.3,358.2 L77.7,358.1 L78.1,358.2 L78.6,358.4 L79.0,358.8 L79.3,359.3 L79.4,359.6 L79.4,360.0 L79.2,360.4 L78.9,360.8" fill="none" stroke="#222" stroke-width="0.72"/>
<path d="M139.5,344.8 L138.3,345.0 L137.1,344.9 L135.9,344.6 L135.1,344.2 L134.7,343.9 L133.9,343.2 L133.3,342.4 L133.0,342.0 L132.5,340.8 L132.2,339.6 L132.2,338.4 L132.3,337.6 L132.4,336.8 L132.9,335.6 L133.3,334.8 L133.6,334.4 L134.3,333.7 L134.7,333.3 L135.5,332.7 L136.7,332.1 L137.9,331.9 L139.1,331.8 L140.3,332.0 L140.7,332.2 L141.5,332.5 L142.3,333.1 L143.1,333.8 L143.8,334.8 L144.2,335.6 L144.4,336.4 L144.6,337.2 L144.6,338.4 L144.5,339.6 L144.1,340.8 L143.7,341.6 L143.5,342.0 L142.7,342.9 L141.9,343.7 L141.1,344.2 L140.7,344.4 L140.3,344.6 L139.5,344.8" fill="none" stroke="#222" stroke-width="0.72"/><path d="M148.3,367.2 L147.5,367.4 L146.3,367.5 L145.1,367.5 L143.9,367.4 L141.9,367.0 L137.6,365.6 L135.9,365.1 L134.7,364.9 L132.3,364.7 L131.5,364.5 L130.7,364.2 L130.3,364.0 L129.8,363.6 L129.6,363.2 L129.5,362.8 L129.5,362.4 L129.7,362.0 L129.9,361.8 L130.1,361.6 L130.7,361.2 L131.5,360.9 L134.0,360.0 L134.7,359.6 L135.5,359.0 L136.7,358.0 L138.7,355.6 L139.5,354.8 L140.7,353.8 L141.9,353.1 L142.7,352.7 L143.5,352.5 L144.3,352.3 L145.1,352.1 L146.3,352.1 L147.1,352.2 L147.9,352.3 L148.7,352.5 L149.9,353.0 L150.7,353.4 L151.9,354.3 L152.8,355.2 L153.6,356.4 L154.1,357.6 L154.4,358.8 L154.5,360.0 L154.3,361.2 L154.0,362.4 L153.4,363.6 L152.8,364.4 L151.9,365.3 L150.7,366.2 L149.9,366.6 L149.1,367.0 L148.3,367.2" fill="none" stroke="#222" stroke-width="0.72"/><path d="M139.1,343.6 L138.7,343.7 L137.9,343.7 L137.1,343.6 L136.3,343.3 L135.4,342.8 L134.9,342.4 L134.5,342.0 L134.0,341.2 L133.7,340.4 L133.4,339.2 L133.4,338.4 L133.6,337.2 L133.7,336.8 L134.0,336.0 L134.5,335.2 L135.3,334.4 L135.9,333.9 L136.3,333.7 L137.1,333.3 L138.3,333.1 L139.1,333.1 L139.9,333.3 L140.3,333.4 L141.1,333.8 L141.9,334.4 L142.6,335.2 L143.0,336.0 L143.3,336.8 L143.4,337.6 L143.4,338.8 L143.2,339.6 L143.0,340.4 L142.8,340.8 L142.3,341.6 L141.5,342.4 L140.7,343.0 L139.9,343.4 L139.1,343.6" fill="none" stroke="#222" stroke-width="0.72"/><path d="M148.3,366.0 L147.1,366.3 L146.3,366.4 L145.5,366.4 L144.3,366.3 L142.7,365.9 L141.5,365.5 L140.7,365.1 L139.1,364.2 L138.2,363.6 L137.7,363.2 L137.3,362.8 L137.1,362.4 L137.0,362.0 L137.0,361.6 L137.2,360.8 L137.7,359.6 L138.9,357.6 L139.7,356.4 L140.4,355.6 L141.3,354.8 L142.3,354.2 L143.5,353.7 L144.3,353.5 L145.1,353.3 L145.9,353.3 L146.7,353.3 L147.5,353.4 L148.3,353.6 L149.5,354.1 L150.3,354.6 L150.7,354.9 L151.5,355.6 L151.8,356.0 L152.1,356.4 L152.6,357.2 L152.9,358.0 L153.0,358.4 L153.2,359.6 L153.2,360.4 L153.0,361.2 L152.9,361.6 L152.6,362.4 L152.2,363.2 L151.9,363.6 L151.5,364.0 L150.7,364.7 L150.3,365.0 L149.5,365.5 L148.3,366.0" fill="none" stroke="#222" stroke-width="0.72"/><path d="M139.1,342.5 L138.3,342.6 L137.5,342.5 L136.7,342.3 L136.2,342.0 L135.5,341.4 L135.0,340.8 L134.7,340.0 L134.5,339.2 L134.4,338.4 L134.5,337.6 L134.8,336.8 L135.3,336.0 L135.9,335.3 L136.7,334.7 L137.5,334.4 L138.3,334.2 L139.1,334.2 L139.9,334.4 L140.6,334.8 L141.1,335.2 L141.5,335.6 L142.0,336.4 L142.2,337.2 L142.4,338.0 L142.3,338.8 L142.1,339.6 L141.8,340.4 L141.5,340.8 L141.1,341.3 L140.7,341.7 L140.3,342.0 L139.9,342.2 L139.1,342.5" fill="none" stroke="#222" stroke-width="0.72"/><path d="M147.5,365.2 L146.3,365.4 L145.1,365.4 L144.3,365.3 L143.5,365.1 L142.3,364.6 L141.2,364.0 L140.2,363.2 L139.6,362.4 L139.3,361.6 L139.2,360.8 L139.2,360.4 L139.3,359.6 L139.8,358.4 L140.4,357.2 L141.1,356.4 L141.9,355.6 L142.7,355.1 L143.9,354.6 L145.1,354.3 L146.3,354.2 L147.5,354.4 L148.3,354.6 L148.7,354.8 L149.5,355.2 L150.5,356.0 L151.2,356.8 L151.4,357.2 L151.8,358.0 L152.0,358.8 L152.1,359.2 L152.1,360.4 L152.0,360.8 L151.8,361.6 L151.4,362.4 L150.9,363.2 L150.5,363.6 L149.9,364.1 L149.1,364.6 L148.7,364.8 L148.3,365.0 L147.5,365.2" fill="none" stroke="#222" stroke-width="0.72"/><path d="M139.1,341.4 L138.7,341.4 L137.9,341.5 L137.5,341.4 L137.1,341.2 L136.7,341.0 L136.3,340.6 L135.9,340.1 L135.7,339.6 L135.6,339.2 L135.5,338.8 L135.5,338.0 L135.8,337.2 L136.0,336.8 L136.3,336.4 L136.7,336.0 L137.3,335.6 L137.9,335.4 L138.7,335.3 L139.1,335.4 L139.5,335.5 L139.9,335.7 L140.3,336.0 L140.7,336.4 L141.0,336.8 L141.2,337.6 L141.3,338.0 L141.3,338.8 L141.1,339.4 L140.8,340.0 L140.5,340.4 L140.1,340.8 L139.5,341.2 L139.1,341.4" fill="none" stroke="#222" stroke-width="0.72"/><path d="M147.1,364.4 L146.3,364.5 L145.1,364.5 L143.9,364.3 L143.1,363.9 L142.3,363.5 L141.5,362.8 L140.9,362.0 L140.5,361.2 L140.4,360.4 L140.5,359.6 L140.6,359.2 L140.9,358.4 L141.3,357.6 L141.9,356.8 L142.7,356.1 L143.5,355.7 L144.3,355.4 L145.5,355.1 L146.3,355.1 L147.5,355.3 L148.3,355.6 L149.1,356.0 L149.6,356.4 L150.0,356.8 L150.6,357.6 L151.0,358.4 L151.1,359.2 L151.2,359.6 L151.1,360.4 L151.0,361.2 L150.6,362.0 L150.0,362.8 L149.6,363.2 L149.1,363.6 L148.3,364.0 L147.9,364.2 L147.1,364.4" fill="none" stroke="#222" stroke-width="0.72"/><path d="M139.1,340.1 L138.7,340.2 L138.3,340.2 L137.9,340.2 L137.5,340.0 L137.1,339.7 L136.8,339.2 L136.7,338.8 L136.7,338.4 L136.7,338.0 L136.9,337.6 L137.1,337.2 L137.5,336.9 L137.9,336.7 L138.3,336.6 L138.7,336.6 L139.1,336.7 L139.5,336.9 L139.8,337.2 L140.0,337.6 L140.1,338.0 L140.1,338.4 L140.1,338.8 L139.9,339.2 L139.5,339.8 L139.1,340.1" fill="none" stroke="#222" stroke-width="0.72"/><path d="M147.1,363.6 L146.3,363.8 L145.5,363.8 L144.7,363.7 L143.9,363.4 L143.1,363.0 L142.4,362.4 L141.9,361.8 L141.6,361.2 L141.4,360.4 L141.4,360.0 L141.5,359.2 L141.8,358.4 L142.3,357.6 L142.7,357.2 L143.5,356.6 L144.3,356.2 L145.1,355.9 L145.9,355.9 L146.7,355.9 L147.5,356.1 L148.3,356.5 L149.1,357.1 L149.6,357.6 L150.1,358.4 L150.3,359.2 L150.3,360.0 L150.2,360.8 L149.9,361.6 L149.3,362.4 L148.7,362.9 L147.9,363.4 L147.1,363.6" fill="none" stroke="#222" stroke-width="0.72"/><path d="M147.5,362.9 L147.1,363.0 L146.3,363.2 L145.5,363.2 L144.7,363.0 L144.1,362.8 L143.5,362.5 L143.0,362.0 L142.6,361.6 L142.4,361.2 L142.2,360.4 L142.1,360.0 L142.2,359.2 L142.6,358.4 L142.8,358.0 L143.2,357.6 L143.9,357.1 L144.4,356.8 L145.1,356.6 L145.9,356.5 L146.7,356.5 L147.5,356.8 L147.9,357.0 L148.3,357.2 L148.7,357.6 L149.1,358.0 L149.3,358.4 L149.6,359.2 L149.7,360.0 L149.5,360.8 L149.1,361.6 L148.8,362.0 L148.3,362.4 L147.5,362.9" fill="none" stroke="#222" stroke-width="0.72"/><path d="M147.1,362.5 L146.7,362.6 L145.9,362.7 L145.1,362.6 L144.7,362.5 L144.3,362.3 L143.8,362.0 L143.3,361.6 L143.0,361.2 L142.9,360.8 L142.7,360.4 L142.7,360.0 L142.8,359.2 L143.1,358.5 L143.5,358.0 L143.9,357.6 L144.3,357.4 L144.7,357.2 L145.5,357.0 L146.3,357.0 L146.7,357.0 L147.3,357.2 L147.9,357.5 L148.4,358.0 L148.7,358.4 L148.9,358.8 L149.1,359.2 L149.1,359.6 L149.1,360.4 L148.9,360.8 L148.7,361.3 L148.3,361.8 L147.9,362.1 L147.1,362.5" fill="none" stroke="#222" stroke-width="0.72"/><path d="M147.1,362.1 L146.3,362.3 L145.5,362.3 L145.1,362.2 L144.7,362.1 L144.3,361.9 L143.9,361.6 L143.6,361.2 L143.3,360.8 L143.2,360.4 L143.1,360.0 L143.2,359.6 L143.3,359.2 L143.5,358.7 L143.9,358.2 L144.3,357.8 L144.7,357.6 L145.1,357.5 L145.5,357.4 L146.3,357.4 L147.1,357.6 L147.5,357.8 L147.9,358.0 L148.3,358.5 L148.5,358.8 L148.6,359.2 L148.7,359.6 L148.7,360.0 L148.6,360.4 L148.5,360.8 L148.3,361.1 L147.9,361.6 L147.5,361.9 L147.1,362.1" fill="none" stroke="#222" stroke-width="0.72"/><path d="M147.1,361.7 L146.7,361.9 L146.3,361.9 L145.5,361.9 L145.1,361.8 L144.7,361.7 L144.1,361.2 L143.8,360.8 L143.6,360.4 L143.5,360.0 L143.6,359.6 L143.7,359.2 L143.9,358.8 L144.3,358.3 L144.7,358.0 L145.1,357.8 L145.5,357.7 L146.3,357.7 L146.7,357.8 L147.2,358.0 L147.5,358.2 L147.9,358.6 L148.2,359.2 L148.3,359.6 L148.3,360.0 L148.2,360.4 L148.1,360.8 L147.8,361.2 L147.5,361.4 L147.1,361.7" fill="none" stroke="#222" stroke-width="0.72"/><path d="M146.3,361.6 L145.9,361.7 L145.5,361.6 L145.1,361.5 L144.7,361.3 L144.2,360.8 L144.0,360.4 L143.9,360.0 L143.9,359.6 L144.1,359.2 L144.3,358.8 L144.7,358.4 L145.1,358.2 L145.5,358.1 L145.9,358.0 L146.3,358.0 L146.7,358.1 L147.1,358.3 L147.6,358.8 L147.9,359.2 L148.0,359.6 L148.0,360.0 L147.9,360.3 L147.6,360.8 L147.1,361.3 L146.7,361.5 L146.3,361.6" fill="none" stroke="#222" stroke-width="0.72"/><path d="M146.3,361.3 L145.9,361.4 L145.5,361.3 L145.1,361.2 L144.6,360.8 L144.3,360.4 L144.3,360.2 L144.2,360.0 L144.3,359.6 L144.4,359.2 L144.7,358.8 L145.1,358.5 L145.5,358.4 L145.9,358.3 L146.3,358.3 L146.7,358.5 L147.2,358.8 L147.5,359.2 L147.6,359.6 L147.6,360.0 L147.5,360.4 L147.2,360.8 L146.7,361.2 L146.3,361.3" fill="none" stroke="#222" stroke-width="0.72"/><path d="M146.7,360.9 L146.3,361.0 L145.9,361.1 L145.5,361.0 L145.0,360.8 L144.7,360.4 L144.6,360.0 L144.6,359.6 L144.7,359.2 L145.1,358.8 L145.5,358.7 L145.9,358.6 L146.3,358.6 L146.7,358.8 L147.1,359.1 L147.3,359.6 L147.3,360.0 L147.2,360.4 L146.7,360.9" fill="none" stroke="#222" stroke-width="0.72"/>
<path d="M210.3,346.0 L209.5,346.2 L208.3,346.3 L207.1,346.3 L206.3,346.2 L205.1,346.0 L204.3,345.7 L203.5,345.3 L202.7,344.9 L202.1,344.4 L201.4,343.6 L201.2,343.2 L200.9,342.4 L200.8,342.0 L200.8,341.2 L200.9,340.8 L201.3,340.0 L201.9,339.2 L202.4,338.8 L203.1,338.3 L204.3,337.7 L205.5,337.3 L206.3,337.2 L207.1,337.1 L207.9,337.1 L208.7,337.1 L209.9,337.3 L210.7,337.5 L211.5,337.8 L212.3,338.2 L212.7,338.4 L213.2,338.8 L213.7,339.2 L214.0,339.6 L214.5,340.4 L214.8,341.2 L214.8,341.6 L214.8,342.0 L214.6,342.8 L214.2,343.6 L213.9,344.0 L213.1,344.7 L212.7,345.0 L211.9,345.4 L211.1,345.8 L210.3,346.0" fill="none" stroke="#222" stroke-width="0.72"/><path d="M208.3,370.0 L207.1,370.1 L205.9,370.0 L204.7,369.8 L203.9,369.5 L203.1,369.1 L202.3,368.6 L201.6,368.0 L200.9,367.2 L200.5,366.4 L200.2,365.6 L200.0,364.8 L199.8,363.6 L199.9,362.4 L200.0,360.8 L200.2,359.6 L200.5,358.0 L200.9,356.8 L201.2,356.0 L201.6,355.2 L202.2,354.4 L202.9,353.6 L203.5,353.0 L204.3,352.4 L205.1,351.9 L206.3,351.3 L207.1,351.0 L208.7,350.7 L209.5,350.6 L210.7,350.6 L211.5,350.7 L212.7,350.9 L213.5,351.1 L214.3,351.4 L215.1,351.8 L215.9,352.3 L216.7,352.9 L217.5,353.6 L218.5,354.8 L219.0,355.6 L219.4,356.4 L219.7,357.2 L219.8,358.0 L220.0,358.8 L220.0,359.6 L220.0,360.4 L219.8,361.6 L219.5,362.4 L219.2,363.2 L218.5,364.4 L217.5,365.6 L216.7,366.4 L215.9,367.0 L215.1,367.5 L213.9,368.2 L211.9,369.0 L209.9,369.7 L208.3,370.0" fill="none" stroke="#222" stroke-width="0.72"/><path d="M188.3,372.9 L187.9,373.1 L187.5,373.2 L187.1,373.2 L186.7,373.0 L186.3,372.7 L185.5,371.8 L185.1,371.5 L184.7,371.3 L184.4,371.2 L183.1,371.1 L182.3,370.9 L181.9,370.7 L181.1,370.1 L180.7,369.7 L180.3,369.2 L180.1,368.8 L179.7,368.0 L179.4,366.8 L179.2,365.6 L179.2,364.8 L179.2,363.6 L179.4,362.4 L179.7,361.2 L180.1,360.0 L180.6,358.8 L181.4,357.2 L182.0,356.4 L182.7,355.5 L183.5,354.7 L184.3,354.1 L184.7,353.8 L185.5,353.4 L186.3,353.1 L187.1,352.9 L187.9,353.0 L188.7,353.2 L189.5,353.6 L189.9,353.9 L190.3,354.3 L190.9,355.2 L191.3,356.0 L191.6,357.2 L191.8,358.4 L191.8,359.6 L191.7,360.8 L191.6,361.6 L191.2,363.2 L190.9,364.0 L190.4,365.2 L189.8,366.4 L188.9,368.0 L188.7,368.4 L188.5,368.8 L188.5,369.2 L188.6,369.6 L189.0,370.8 L189.0,371.6 L188.9,372.0 L188.7,372.4 L188.3,372.9" fill="none" stroke="#222" stroke-width="0.72"/><path d="M208.3,345.2 L207.5,345.2 L206.7,345.2 L205.5,344.9 L204.7,344.6 L203.9,344.1 L203.5,343.8 L203.1,343.4 L202.7,342.8 L202.5,342.4 L202.4,342.0 L202.4,341.6 L202.5,341.2 L202.6,340.8 L202.8,340.4 L203.1,340.0 L203.5,339.6 L204.3,339.0 L205.5,338.5 L206.7,338.2 L207.5,338.2 L208.3,338.2 L209.5,338.3 L210.7,338.7 L211.6,339.2 L212.1,339.6 L212.5,340.0 L212.8,340.4 L213.0,340.8 L213.1,341.2 L213.2,341.6 L213.2,342.0 L213.1,342.4 L212.9,342.8 L212.7,343.2 L212.3,343.6 L211.9,344.0 L211.3,344.4 L210.7,344.7 L209.5,345.1 L208.3,345.2" fill="none" stroke="#222" stroke-width="0.72"/><path d="M207.1,368.8 L206.3,368.8 L205.5,368.6 L204.7,368.4 L203.9,368.0 L203.3,367.6 L202.7,367.1 L202.2,366.4 L201.7,365.6 L201.5,364.8 L201.3,364.0 L201.3,363.2 L201.3,362.4 L201.4,361.2 L201.7,359.2 L202.0,358.0 L202.3,357.2 L202.6,356.4 L203.1,355.6 L203.5,355.1 L204.1,354.4 L204.7,353.9 L205.5,353.3 L206.7,352.7 L207.5,352.4 L208.3,352.2 L209.9,352.0 L210.7,352.0 L211.9,352.1 L212.7,352.3 L213.5,352.6 L214.7,353.2 L215.4,353.6 L215.9,354.0 L216.3,354.4 L217.0,355.2 L217.8,356.4 L218.2,357.6 L218.4,358.4 L218.5,359.2 L218.5,360.4 L218.3,361.2 L218.1,362.0 L217.5,363.2 L217.3,363.6 L216.7,364.4 L216.3,364.8 L215.5,365.6 L214.3,366.4 L213.1,367.1 L212.3,367.4 L210.3,368.2 L208.7,368.7 L207.9,368.8 L207.1,368.8" fill="none" stroke="#222" stroke-width="0.72"/><path d="M185.1,369.3 L184.3,369.4 L183.9,369.4 L183.1,369.3 L182.7,369.1 L182.1,368.8 L181.7,368.4 L181.4,368.0 L180.9,367.2 L180.7,366.8 L180.4,365.6 L180.4,364.8 L180.4,364.0 L180.5,362.4 L180.9,360.8 L181.4,359.6 L181.8,358.8 L182.2,358.0 L183.1,356.8 L183.9,356.0 L184.3,355.7 L184.7,355.4 L185.5,355.0 L186.3,354.7 L186.7,354.6 L187.5,354.6 L188.3,354.9 L188.7,355.1 L189.1,355.4 L189.6,356.0 L190.1,356.8 L190.4,357.6 L190.6,358.8 L190.6,360.0 L190.5,361.6 L190.2,362.8 L189.8,364.0 L189.2,365.2 L188.5,366.4 L187.5,367.7 L186.7,368.5 L185.9,369.0 L185.1,369.3" fill="none" stroke="#222" stroke-width="0.72"/><path d="M209.1,344.1 L208.3,344.2 L207.1,344.2 L206.3,344.0 L205.9,343.9 L205.1,343.5 L204.7,343.2 L204.3,342.8 L204.1,342.4 L204.0,342.0 L204.0,341.6 L204.0,341.2 L204.2,340.8 L204.7,340.2 L205.1,339.9 L205.5,339.7 L206.3,339.4 L207.1,339.2 L207.9,339.2 L209.1,339.3 L209.9,339.6 L210.6,340.0 L211.1,340.4 L211.4,340.8 L211.6,341.2 L211.6,341.6 L211.6,342.0 L211.5,342.4 L211.3,342.8 L210.7,343.4 L209.9,343.8 L209.1,344.1" fill="none" stroke="#222" stroke-width="0.72"/><path d="M207.9,367.6 L207.1,367.7 L206.3,367.6 L205.5,367.4 L205.0,367.2 L204.3,366.8 L203.8,366.4 L203.5,366.0 L203.0,365.2 L202.8,364.8 L202.6,364.0 L202.5,363.2 L202.5,362.4 L202.6,361.2 L202.9,359.6 L203.2,358.0 L203.8,356.8 L204.3,356.0 L204.7,355.5 L205.4,354.8 L205.9,354.4 L206.3,354.2 L207.1,353.7 L208.3,353.3 L209.1,353.2 L209.9,353.1 L211.1,353.1 L211.9,353.3 L212.7,353.5 L213.9,354.0 L215.0,354.8 L215.8,355.6 L216.1,356.0 L216.6,356.8 L216.9,357.6 L217.1,358.0 L217.3,359.2 L217.2,360.4 L217.0,361.6 L216.4,362.8 L215.8,363.6 L215.1,364.4 L213.9,365.3 L212.3,366.2 L210.7,366.9 L209.1,367.4 L207.9,367.6" fill="none" stroke="#222" stroke-width="0.72"/><path d="M185.5,367.6 L184.7,367.9 L183.9,367.9 L183.5,367.8 L183.1,367.6 L182.7,367.4 L182.3,366.9 L181.9,366.4 L181.8,366.0 L181.5,365.2 L181.4,364.0 L181.4,362.8 L181.7,361.6 L182.1,360.4 L182.7,359.2 L183.5,358.0 L184.3,357.2 L185.1,356.6 L185.9,356.2 L186.3,356.1 L187.1,356.1 L187.5,356.2 L187.9,356.4 L188.3,356.6 L188.7,357.1 L189.1,357.7 L189.4,358.4 L189.6,359.2 L189.6,360.0 L189.6,361.2 L189.3,362.4 L189.1,363.2 L188.6,364.4 L188.1,365.2 L187.5,366.0 L186.8,366.8 L186.3,367.2 L185.5,367.6" fill="none" stroke="#222" stroke-width="0.72"/><path d="M208.7,342.9 L208.3,343.0 L207.5,343.0 L206.7,342.8 L206.1,342.4 L205.8,342.0 L205.8,341.6 L205.9,341.2 L206.3,340.8 L206.7,340.6 L207.1,340.5 L207.5,340.4 L208.3,340.4 L208.7,340.5 L209.3,340.8 L209.7,341.2 L209.8,341.6 L209.8,342.0 L209.5,342.4 L209.1,342.7 L208.7,342.9" fill="none" stroke="#222" stroke-width="0.72"/><path d="M208.7,366.4 L207.9,366.5 L207.1,366.5 L206.3,366.4 L205.9,366.3 L205.4,366.0 L204.8,365.6 L204.5,365.2 L204.2,364.8 L204.0,364.4 L203.8,363.6 L203.7,362.4 L203.8,360.4 L204.1,358.8 L204.6,357.6 L205.0,356.8 L205.3,356.4 L206.1,355.6 L207.1,354.9 L207.5,354.7 L208.3,354.4 L209.5,354.1 L210.7,354.1 L211.9,354.3 L212.7,354.6 L213.1,354.8 L213.9,355.3 L214.7,356.0 L215.4,356.8 L215.8,357.6 L216.0,358.4 L216.1,358.8 L216.2,360.0 L216.1,360.8 L215.8,361.6 L215.4,362.4 L214.8,363.2 L213.9,364.0 L212.7,364.9 L211.5,365.5 L209.9,366.1 L208.7,366.4" fill="none" stroke="#222" stroke-width="0.72"/><path d="M185.1,366.4 L184.7,366.5 L184.3,366.5 L183.9,366.4 L183.5,366.2 L183.0,365.6 L182.7,365.2 L182.6,364.8 L182.4,364.0 L182.4,363.2 L182.5,362.4 L182.7,361.2 L183.1,360.4 L183.5,359.6 L184.1,358.8 L184.7,358.2 L185.5,357.7 L185.9,357.6 L186.3,357.5 L186.7,357.5 L187.1,357.6 L187.5,357.8 L187.9,358.2 L188.3,358.8 L188.4,359.2 L188.6,360.0 L188.6,360.8 L188.5,361.6 L188.4,362.4 L188.1,363.2 L187.7,364.0 L187.2,364.8 L186.7,365.4 L186.3,365.8 L185.5,366.3 L185.1,366.4" fill="none" stroke="#222" stroke-width="0.72"/><path d="M209.1,365.3 L207.9,365.4 L207.1,365.4 L206.3,365.1 L205.9,364.8 L205.5,364.4 L205.2,364.0 L205.1,363.6 L204.9,363.2 L204.8,362.4 L204.8,360.8 L204.9,360.0 L205.0,359.2 L205.4,358.0 L205.9,357.2 L206.6,356.4 L207.5,355.7 L208.3,355.3 L209.5,355.0 L210.7,355.0 L211.5,355.2 L212.3,355.4 L213.1,355.8 L213.9,356.5 L214.5,357.2 L214.9,358.0 L215.1,358.8 L215.2,359.6 L215.2,360.0 L215.0,360.8 L214.7,361.6 L214.3,362.3 L213.9,362.8 L213.1,363.5 L212.3,364.0 L211.1,364.6 L209.9,365.1 L209.1,365.3" fill="none" stroke="#222" stroke-width="0.72"/><path d="M185.5,364.8 L185.1,365.0 L184.7,365.0 L184.3,364.9 L183.9,364.5 L183.6,364.0 L183.5,363.6 L183.4,363.2 L183.4,362.4 L183.5,362.0 L183.8,361.2 L184.2,360.4 L184.5,360.0 L185.1,359.4 L185.5,359.2 L185.9,359.0 L186.3,359.0 L186.7,359.1 L187.1,359.5 L187.4,360.0 L187.5,360.4 L187.6,360.8 L187.6,361.6 L187.5,362.0 L187.2,362.8 L186.8,363.6 L186.3,364.3 L185.9,364.6 L185.5,364.8" fill="none" stroke="#222" stroke-width="0.72"/><path d="M209.1,364.4 L208.3,364.5 L207.5,364.4 L207.1,364.2 L206.7,364.0 L206.3,363.6 L206.0,363.2 L205.9,362.8 L205.7,362.4 L205.6,361.6 L205.6,360.4 L205.8,359.2 L206.1,358.4 L206.5,357.6 L207.1,356.9 L207.9,356.3 L208.7,356.0 L209.5,355.8 L209.9,355.7 L210.7,355.7 L211.5,355.9 L212.3,356.2 L213.1,356.8 L213.5,357.2 L214.1,358.0 L214.2,358.4 L214.4,359.2 L214.4,360.0 L214.2,360.8 L213.9,361.6 L213.5,362.1 L212.8,362.8 L212.3,363.2 L211.5,363.7 L210.7,364.0 L209.9,364.3 L209.1,364.4" fill="none" stroke="#222" stroke-width="0.72"/><path d="M185.1,363.2 L184.7,362.8 L184.6,362.4 L184.7,361.9 L184.8,361.6 L185.1,361.1 L185.5,360.8 L185.9,360.8 L186.3,361.2 L186.4,361.6 L186.3,362.1 L186.2,362.4 L185.9,362.9 L185.5,363.2 L185.1,363.2" fill="none" stroke="#222" stroke-width="0.72"/><path d="M209.9,363.6 L209.1,363.7 L208.3,363.7 L207.9,363.6 L207.5,363.5 L207.1,363.2 L206.7,362.7 L206.4,362.0 L206.3,361.2 L206.3,360.0 L206.4,359.2 L206.7,358.4 L207.1,357.8 L207.7,357.2 L208.3,356.8 L209.1,356.4 L209.9,356.3 L210.7,356.3 L211.5,356.5 L211.9,356.7 L212.7,357.2 L213.1,357.6 L213.5,358.2 L213.7,358.8 L213.8,359.2 L213.8,360.0 L213.6,360.8 L213.4,361.2 L213.2,361.6 L212.7,362.2 L212.3,362.5 L211.5,363.0 L210.7,363.4 L209.9,363.6" fill="none" stroke="#222" stroke-width="0.72"/><path d="M210.7,362.9 L209.9,363.1 L209.1,363.2 L208.3,363.1 L207.9,362.9 L207.5,362.6 L207.1,362.1 L206.8,361.2 L206.7,360.4 L206.8,359.6 L207.1,358.8 L207.3,358.4 L207.5,358.0 L207.9,357.6 L208.3,357.3 L208.7,357.1 L209.5,356.8 L209.9,356.7 L210.7,356.8 L211.5,357.0 L211.9,357.2 L212.4,357.6 L212.8,358.0 L213.1,358.5 L213.3,359.2 L213.3,359.6 L213.2,360.4 L213.1,360.8 L212.7,361.5 L212.3,361.9 L211.9,362.2 L211.5,362.5 L210.7,362.9" fill="none" stroke="#222" stroke-width="0.72"/><path d="M210.7,362.4 L209.9,362.6 L209.5,362.7 L208.7,362.6 L208.3,362.4 L207.9,362.2 L207.5,361.6 L207.2,360.8 L207.2,360.4 L207.3,359.6 L207.5,358.9 L207.8,358.4 L208.1,358.0 L208.6,357.6 L209.1,357.3 L209.5,357.2 L209.9,357.1 L210.7,357.2 L211.1,357.3 L211.8,357.6 L212.2,358.0 L212.5,358.4 L212.7,358.8 L212.9,359.2 L212.9,359.6 L212.9,360.0 L212.8,360.4 L212.6,360.8 L212.4,361.2 L212.0,361.6 L211.5,362.0 L210.7,362.4" fill="none" stroke="#222" stroke-width="0.72"/><path d="M210.7,362.0 L209.9,362.2 L209.5,362.2 L209.1,362.2 L208.7,362.1 L208.3,361.8 L208.1,361.6 L207.8,361.2 L207.7,360.8 L207.6,360.4 L207.7,359.6 L207.8,359.2 L208.0,358.8 L208.2,358.4 L208.7,358.0 L209.1,357.7 L209.5,357.6 L210.3,357.5 L210.7,357.6 L211.1,357.7 L211.5,357.9 L212.1,358.4 L212.3,358.8 L212.4,359.2 L212.5,359.6 L212.5,360.0 L212.4,360.4 L212.2,360.8 L211.9,361.2 L211.5,361.5 L210.7,362.0" fill="none" stroke="#222" stroke-width="0.72"/><path d="M210.7,361.6 L209.9,361.8 L209.5,361.8 L209.1,361.8 L208.7,361.6 L208.3,361.2 L208.1,360.8 L208.0,360.4 L208.0,360.0 L208.0,359.6 L208.2,359.2 L208.4,358.8 L208.7,358.4 L209.1,358.1 L209.5,358.0 L209.9,357.9 L210.3,357.9 L210.7,357.9 L211.1,358.1 L211.6,358.4 L211.9,358.8 L212.1,359.2 L212.1,359.6 L212.1,360.0 L211.9,360.5 L211.7,360.8 L211.4,361.2 L210.7,361.6" fill="none" stroke="#222" stroke-width="0.72"/><path d="M210.7,361.3 L210.3,361.4 L209.9,361.5 L209.5,361.5 L209.1,361.3 L208.9,361.2 L208.5,360.8 L208.4,360.4 L208.3,360.0 L208.4,359.6 L208.5,359.2 L208.8,358.8 L209.1,358.5 L209.5,358.3 L209.9,358.2 L210.3,358.2 L210.7,358.3 L211.1,358.4 L211.5,358.8 L211.7,359.2 L211.8,359.6 L211.8,360.0 L211.6,360.4 L211.3,360.8 L211.1,361.0 L210.7,361.3" fill="none" stroke="#222" stroke-width="0.72"/>
<path d="M72.9,435.7 L71.3,435.7 L70.5,435.7 L69.7,435.5 L68.5,435.0 L67.7,434.5 L67.3,434.2 L66.8,433.7 L66.5,433.3 L66.2,432.9 L65.8,432.1 L65.4,430.9 L65.4,430.1 L65.4,429.3 L65.6,428.1 L66.1,426.9 L69.0,421.7 L69.5,420.9 L70.1,420.1 L72.2,417.7 L72.5,417.3 L72.7,416.9 L72.8,416.5 L72.7,416.1 L72.6,415.7 L71.8,413.7 L71.6,412.9 L71.5,412.1 L71.5,411.3 L71.6,410.5 L71.8,409.7 L72.1,409.0 L72.5,408.3 L72.9,407.8 L73.3,407.4 L73.7,407.1 L74.1,406.9 L74.9,406.6 L75.3,406.6 L76.1,406.6 L76.9,406.8 L77.3,407.0 L77.7,407.3 L78.2,407.7 L78.6,408.1 L79.1,408.9 L79.3,409.4 L79.5,410.1 L79.7,411.3 L79.6,412.5 L79.4,413.7 L78.7,415.7 L78.6,416.1 L78.7,416.5 L78.9,416.9 L79.2,417.3 L79.6,417.7 L82.1,419.6 L82.9,420.3 L83.8,421.3 L84.7,422.5 L85.2,423.3 L85.5,424.1 L85.9,425.3 L86.2,426.9 L86.2,427.7 L86.2,428.5 L86.1,429.3 L85.9,430.1 L85.4,431.3 L84.9,432.1 L84.4,432.9 L83.7,433.6 L82.9,434.2 L82.1,434.7 L81.3,435.1 L80.5,435.3 L79.7,435.5 L78.9,435.6 L77.7,435.7 L74.9,435.6 L72.9,435.7" fill="none" stroke="#222" stroke-width="0.72"/><path d="M79.3,434.2 L78.5,434.3 L77.3,434.3 L74.5,434.2 L71.7,434.3 L70.5,434.1 L69.7,433.9 L69.3,433.7 L68.5,433.2 L68.1,432.8 L67.7,432.3 L67.3,431.7 L67.2,431.3 L67.0,430.5 L66.9,429.7 L67.0,428.9 L67.2,428.1 L67.7,426.9 L69.9,422.9 L70.7,421.7 L71.7,420.6 L72.5,419.9 L72.9,419.6 L74.1,419.0 L75.3,418.7 L76.1,418.6 L76.9,418.7 L77.7,418.8 L78.5,419.1 L79.3,419.4 L80.1,419.8 L80.9,420.3 L81.7,421.0 L82.8,422.1 L83.4,422.9 L83.9,423.7 L84.4,424.9 L84.7,425.7 L84.8,426.5 L84.9,427.3 L84.8,428.1 L84.6,429.3 L84.4,430.1 L84.0,430.9 L83.5,431.7 L83.1,432.1 L82.5,432.7 L82.1,433.0 L81.3,433.5 L80.5,433.9 L79.3,434.2" fill="none" stroke="#222" stroke-width="0.72"/><path d="M79.3,433.0 L78.5,433.1 L77.3,433.2 L74.1,433.0 L72.1,432.9 L71.3,432.8 L70.5,432.6 L69.7,432.2 L69.2,431.7 L68.9,431.3 L68.7,430.9 L68.5,430.5 L68.4,429.7 L68.4,429.3 L68.6,428.5 L69.1,427.3 L70.8,423.7 L71.6,422.5 L72.1,421.9 L72.5,421.5 L73.3,420.9 L73.7,420.6 L74.5,420.3 L75.7,420.0 L76.9,420.0 L78.1,420.2 L79.3,420.7 L80.5,421.4 L81.3,422.0 L81.7,422.4 L82.1,422.9 L82.7,423.7 L83.3,424.9 L83.6,426.1 L83.7,426.9 L83.7,427.7 L83.5,428.9 L83.1,430.1 L82.5,431.0 L81.7,431.8 L80.9,432.4 L80.5,432.6 L79.3,433.0" fill="none" stroke="#222" stroke-width="0.72"/><path d="M78.5,432.1 L77.7,432.2 L76.5,432.1 L74.9,431.9 L72.1,431.4 L71.3,431.1 L70.9,430.9 L70.5,430.5 L70.3,430.1 L70.2,429.7 L70.1,429.3 L70.1,428.9 L70.3,428.1 L71.1,425.7 L71.8,424.1 L72.5,423.0 L73.3,422.2 L74.1,421.7 L74.9,421.3 L75.7,421.1 L76.9,421.1 L78.1,421.3 L78.9,421.6 L79.3,421.8 L80.4,422.5 L81.2,423.3 L81.8,424.1 L82.4,425.3 L82.7,426.5 L82.7,427.7 L82.6,428.1 L82.4,428.9 L82.1,429.7 L81.7,430.3 L81.3,430.7 L80.5,431.4 L79.7,431.8 L79.3,431.9 L78.5,432.1" fill="none" stroke="#222" stroke-width="0.72"/><path d="M79.3,430.9 L78.5,431.2 L77.7,431.3 L76.9,431.3 L75.7,431.1 L74.5,430.8 L73.3,430.3 L72.9,430.1 L72.5,429.8 L72.1,429.3 L71.9,428.9 L71.8,428.5 L71.8,427.7 L72.0,426.5 L72.3,425.3 L72.7,424.5 L73.2,423.7 L73.7,423.1 L74.5,422.5 L75.3,422.2 L76.1,422.0 L76.9,422.0 L77.3,422.0 L78.1,422.2 L78.9,422.5 L79.7,423.0 L80.4,423.7 L81.0,424.5 L81.4,425.3 L81.7,426.1 L81.8,426.5 L81.8,427.3 L81.7,428.1 L81.4,428.9 L81.2,429.3 L80.9,429.8 L80.5,430.2 L80.1,430.5 L79.3,430.9" fill="none" stroke="#222" stroke-width="0.72"/><path d="M78.1,430.5 L77.3,430.6 L76.5,430.5 L75.7,430.3 L74.9,430.0 L74.2,429.7 L73.7,429.3 L73.3,428.9 L73.1,428.5 L72.9,428.1 L72.8,427.3 L72.8,426.5 L73.0,425.7 L73.3,424.9 L73.7,424.3 L74.2,423.7 L74.9,423.2 L75.7,422.8 L76.5,422.7 L77.3,422.7 L78.1,422.9 L78.9,423.3 L79.4,423.7 L80.1,424.4 L80.5,424.9 L80.9,425.7 L81.1,426.5 L81.1,427.3 L80.9,428.1 L80.6,428.9 L80.1,429.5 L79.7,429.9 L78.9,430.3 L78.1,430.5" fill="none" stroke="#222" stroke-width="0.72"/><path d="M78.5,429.8 L78.1,429.9 L77.3,430.0 L76.5,429.9 L75.7,429.7 L74.9,429.3 L74.5,429.0 L74.0,428.5 L73.8,428.1 L73.6,427.7 L73.5,426.9 L73.5,426.5 L73.7,425.7 L74.0,424.9 L74.3,424.5 L74.6,424.1 L75.3,423.6 L75.7,423.4 L76.5,423.3 L77.3,423.3 L78.1,423.5 L78.9,424.0 L79.3,424.3 L79.7,424.7 L80.1,425.3 L80.4,426.1 L80.5,426.9 L80.5,427.7 L80.3,428.1 L80.1,428.6 L79.7,429.1 L79.3,429.4 L78.9,429.7 L78.5,429.8" fill="none" stroke="#222" stroke-width="0.72"/><path d="M78.5,429.3 L78.1,429.5 L77.3,429.6 L76.9,429.5 L76.1,429.4 L75.7,429.2 L75.2,428.9 L74.7,428.5 L74.4,428.1 L74.2,427.7 L74.1,427.3 L74.0,426.9 L74.1,426.1 L74.3,425.3 L74.6,424.9 L74.9,424.5 L75.4,424.1 L76.1,423.8 L76.5,423.7 L76.9,423.7 L77.7,423.8 L78.3,424.1 L78.9,424.5 L79.3,424.9 L79.6,425.3 L79.8,425.7 L80.0,426.5 L80.1,427.3 L80.0,427.7 L79.7,428.3 L79.3,428.8 L78.9,429.1 L78.5,429.3" fill="none" stroke="#222" stroke-width="0.72"/><path d="M78.1,429.0 L77.3,429.2 L76.9,429.1 L76.1,428.9 L75.7,428.7 L75.3,428.4 L75.0,428.1 L74.7,427.7 L74.6,427.3 L74.5,426.9 L74.5,426.1 L74.6,425.7 L74.8,425.3 L75.1,424.9 L75.7,424.4 L76.1,424.2 L76.5,424.1 L76.9,424.1 L77.7,424.3 L78.2,424.5 L78.8,424.9 L79.1,425.3 L79.4,425.7 L79.5,426.1 L79.6,426.5 L79.7,426.9 L79.6,427.3 L79.5,427.7 L79.3,428.1 L79.0,428.5 L78.5,428.9 L78.1,429.0" fill="none" stroke="#222" stroke-width="0.72"/><path d="M78.1,428.6 L77.7,428.7 L77.3,428.8 L76.5,428.7 L76.1,428.5 L75.7,428.2 L75.2,427.7 L75.0,427.3 L74.9,426.9 L74.9,426.5 L74.9,426.1 L75.1,425.7 L75.3,425.3 L75.7,424.9 L76.1,424.7 L76.5,424.5 L76.9,424.5 L77.3,424.5 L77.7,424.6 L78.2,424.9 L78.7,425.3 L79.0,425.7 L79.1,426.1 L79.3,426.5 L79.3,426.9 L79.2,427.3 L79.1,427.7 L78.8,428.1 L78.5,428.4 L78.1,428.6" fill="none" stroke="#222" stroke-width="0.72"/><path d="M78.1,428.2 L77.7,428.4 L77.3,428.4 L76.9,428.4 L76.5,428.3 L76.1,428.1 L75.7,427.7 L75.4,427.3 L75.3,426.9 L75.3,426.5 L75.3,426.2 L75.5,425.7 L75.7,425.4 L76.1,425.1 L76.5,424.9 L76.9,424.8 L77.3,424.9 L77.7,425.0 L78.1,425.2 L78.6,425.7 L78.8,426.1 L78.9,426.5 L78.9,427.1 L78.9,427.3 L78.7,427.7 L78.5,427.9 L78.1,428.2" fill="none" stroke="#222" stroke-width="0.72"/><path d="M77.3,428.1 L76.9,428.1 L76.5,427.9 L76.1,427.7 L75.8,427.3 L75.6,426.9 L75.6,426.5 L75.7,426.0 L75.9,425.7 L76.1,425.5 L76.5,425.3 L76.9,425.2 L77.3,425.2 L77.7,425.3 L78.2,425.7 L78.4,426.1 L78.6,426.5 L78.6,426.9 L78.5,427.3 L78.2,427.7 L77.7,428.0 L77.3,428.1" fill="none" stroke="#222" stroke-width="0.72"/>
<path d="M139.9,409.3 L138.7,409.2 L137.9,409.0 L137.1,408.7 L136.7,408.4 L135.8,407.7 L135.1,406.9 L134.8,406.5 L134.4,405.7 L134.1,404.9 L134.0,403.7 L134.1,402.5 L134.4,401.3 L134.8,400.5 L135.1,400.1 L135.8,399.3 L136.7,398.6 L137.1,398.3 L137.9,398.0 L138.7,397.8 L139.9,397.7 L141.1,397.8 L141.5,397.9 L142.3,398.2 L143.1,398.7 L143.9,399.4 L144.5,400.1 L144.8,400.5 L145.2,401.3 L145.3,401.7 L145.5,402.5 L145.6,403.7 L145.5,404.9 L145.2,405.7 L144.8,406.5 L144.5,406.9 L143.9,407.6 L143.1,408.3 L142.3,408.8 L141.5,409.1 L141.1,409.2 L139.9,409.3" fill="none" stroke="#222" stroke-width="0.72"/><path d="M146.3,435.0 L145.5,435.2 L144.3,435.3 L143.1,435.3 L141.9,435.1 L140.7,434.7 L139.9,434.4 L137.0,432.9 L136.1,432.5 L135.1,432.1 L133.1,431.7 L130.3,431.4 L129.1,431.1 L128.3,430.8 L127.9,430.6 L127.3,430.1 L127.0,429.7 L126.8,429.3 L126.8,428.9 L126.9,428.5 L127.1,428.1 L127.5,427.7 L128.3,427.1 L129.1,426.8 L131.5,426.0 L132.3,425.6 L133.5,424.8 L134.3,424.2 L135.1,423.5 L137.3,421.3 L138.2,420.5 L139.1,419.8 L140.3,419.1 L141.1,418.8 L141.9,418.6 L142.7,418.4 L143.5,418.3 L144.3,418.3 L145.1,418.4 L145.9,418.5 L146.7,418.8 L147.9,419.3 L148.3,419.5 L149.1,420.0 L150.1,420.9 L150.8,421.7 L151.3,422.5 L151.5,422.9 L152.0,424.1 L152.3,424.9 L152.4,425.7 L152.5,426.9 L152.4,428.1 L152.2,428.9 L152.0,429.7 L151.4,430.9 L150.6,432.1 L149.9,432.9 L148.7,433.9 L147.5,434.5 L146.3,435.0" fill="none" stroke="#222" stroke-width="0.72"/><path d="M140.3,408.1 L139.5,408.1 L138.7,408.0 L137.9,407.7 L137.1,407.3 L136.7,407.0 L136.3,406.6 L135.7,405.7 L135.4,404.9 L135.2,404.1 L135.2,403.3 L135.2,402.9 L135.4,402.1 L135.7,401.3 L136.2,400.5 L136.7,400.0 L137.5,399.5 L138.3,399.1 L138.7,399.0 L139.5,398.9 L139.9,398.9 L140.7,398.9 L141.5,399.2 L142.3,399.6 L143.0,400.1 L143.7,400.9 L144.1,401.7 L144.3,402.5 L144.5,403.3 L144.4,404.1 L144.2,404.9 L143.9,405.7 L143.4,406.5 L142.7,407.1 L141.9,407.6 L141.1,408.0 L140.3,408.1" fill="none" stroke="#222" stroke-width="0.72"/><path d="M145.9,433.7 L144.7,434.0 L143.9,434.0 L143.1,434.0 L142.3,433.8 L141.5,433.6 L140.3,433.1 L139.5,432.7 L138.6,432.1 L136.5,430.5 L135.1,429.3 L134.8,428.9 L134.6,428.5 L134.6,428.1 L134.7,427.7 L134.8,427.3 L135.2,426.5 L136.4,424.5 L137.6,422.9 L138.7,421.8 L139.5,421.1 L140.7,420.4 L141.9,419.9 L142.7,419.7 L143.5,419.6 L144.7,419.6 L145.5,419.8 L146.3,420.0 L147.1,420.3 L147.5,420.5 L147.9,420.7 L148.7,421.3 L149.1,421.7 L149.8,422.5 L150.5,423.7 L151.0,424.9 L151.1,425.7 L151.2,426.5 L151.1,427.7 L150.9,428.9 L150.6,429.7 L150.2,430.5 L149.6,431.3 L149.3,431.7 L148.3,432.6 L147.5,433.1 L147.1,433.3 L146.7,433.5 L145.9,433.7" fill="none" stroke="#222" stroke-width="0.72"/><path d="M140.7,407.0 L139.9,407.1 L139.1,407.0 L138.3,406.8 L137.9,406.6 L137.3,406.1 L137.0,405.7 L136.5,404.9 L136.3,404.1 L136.2,403.3 L136.3,402.5 L136.5,402.1 L137.0,401.3 L137.3,400.9 L137.9,400.4 L138.3,400.2 L139.1,400.0 L139.9,399.9 L140.7,400.0 L141.5,400.3 L141.9,400.6 L142.3,400.9 L142.6,401.3 L142.9,401.7 L143.3,402.5 L143.4,402.9 L143.4,403.3 L143.4,404.1 L143.3,404.5 L142.9,405.3 L142.6,405.7 L142.3,406.1 L141.9,406.4 L141.5,406.7 L140.7,407.0" fill="none" stroke="#222" stroke-width="0.72"/><path d="M144.7,432.9 L143.5,432.9 L142.3,432.7 L141.1,432.3 L139.9,431.6 L138.7,430.6 L137.9,429.7 L137.4,428.9 L137.2,428.5 L137.0,427.7 L137.1,426.9 L137.2,426.1 L137.4,425.7 L137.9,424.5 L138.7,423.3 L139.5,422.5 L139.9,422.1 L140.7,421.6 L141.9,421.0 L143.1,420.7 L144.3,420.7 L145.5,420.8 L146.3,421.1 L146.7,421.3 L147.1,421.5 L147.9,422.1 L148.7,422.9 L149.3,423.7 L149.7,424.5 L149.8,424.9 L150.1,426.1 L150.1,427.3 L149.9,428.5 L149.8,428.9 L149.4,429.7 L148.9,430.5 L148.2,431.3 L147.5,431.8 L147.1,432.1 L146.7,432.3 L145.9,432.6 L144.7,432.9" fill="none" stroke="#222" stroke-width="0.72"/><path d="M140.7,405.9 L140.3,406.0 L139.9,406.0 L139.5,406.0 L139.1,405.9 L138.7,405.8 L138.3,405.5 L137.9,405.2 L137.5,404.5 L137.3,404.1 L137.3,403.7 L137.3,403.3 L137.3,402.9 L137.5,402.5 L137.7,402.1 L138.0,401.7 L138.3,401.5 L138.7,401.2 L139.1,401.1 L139.5,401.0 L139.9,401.0 L140.3,401.0 L140.7,401.1 L141.1,401.3 L141.5,401.6 L141.9,402.1 L142.1,402.5 L142.3,402.9 L142.3,403.3 L142.3,403.7 L142.3,404.1 L142.1,404.5 L141.9,404.9 L141.6,405.3 L141.1,405.7 L140.7,405.9" fill="none" stroke="#222" stroke-width="0.72"/><path d="M145.5,431.8 L144.7,432.0 L143.5,432.0 L142.7,431.9 L141.5,431.5 L140.6,430.9 L139.6,430.1 L139.0,429.3 L138.8,428.9 L138.5,428.1 L138.3,427.3 L138.4,426.5 L138.6,425.7 L138.9,424.9 L139.1,424.5 L139.7,423.7 L140.5,422.9 L141.5,422.2 L142.3,421.9 L143.5,421.6 L144.3,421.6 L145.5,421.8 L146.3,422.1 L147.1,422.6 L147.9,423.4 L148.4,424.1 L148.8,424.9 L149.0,425.3 L149.2,426.5 L149.2,427.3 L148.9,428.5 L148.5,429.3 L148.0,430.1 L147.2,430.9 L146.3,431.5 L145.5,431.8" fill="none" stroke="#222" stroke-width="0.72"/><path d="M140.3,404.6 L139.9,404.7 L139.5,404.7 L139.1,404.5 L138.8,404.1 L138.6,403.7 L138.6,403.3 L138.8,402.9 L139.1,402.5 L139.5,402.3 L139.9,402.3 L140.3,402.4 L140.5,402.5 L140.8,402.9 L141.0,403.3 L141.0,403.7 L140.8,404.1 L140.7,404.3 L140.3,404.6" fill="none" stroke="#222" stroke-width="0.72"/><path d="M145.1,431.0 L144.3,431.2 L143.5,431.2 L142.7,431.0 L141.9,430.7 L141.1,430.2 L140.5,429.7 L139.9,428.9 L139.5,428.1 L139.3,427.3 L139.4,426.5 L139.5,425.7 L139.9,424.9 L140.4,424.1 L141.1,423.5 L141.9,422.9 L142.7,422.6 L143.5,422.5 L143.9,422.4 L144.7,422.5 L145.5,422.7 L146.3,423.1 L147.0,423.7 L147.5,424.2 L147.9,424.9 L148.2,425.7 L148.3,426.5 L148.3,427.3 L148.1,428.1 L147.8,428.9 L147.2,429.7 L146.7,430.2 L145.9,430.7 L145.1,431.0" fill="none" stroke="#222" stroke-width="0.72"/><path d="M143.9,430.5 L143.1,430.4 L142.3,430.2 L141.5,429.7 L141.1,429.3 L140.7,428.8 L140.3,428.1 L140.2,427.7 L140.1,426.9 L140.2,426.1 L140.3,425.7 L140.7,424.9 L141.1,424.4 L141.5,424.0 L142.3,423.5 L143.1,423.2 L143.9,423.1 L144.7,423.2 L145.5,423.4 L146.3,423.9 L146.7,424.3 L147.1,424.9 L147.5,425.7 L147.6,426.1 L147.7,426.9 L147.6,427.7 L147.4,428.1 L147.1,428.8 L146.7,429.3 L146.3,429.7 L145.5,430.2 L144.7,430.4 L143.9,430.5" fill="none" stroke="#222" stroke-width="0.72"/><path d="M145.1,429.8 L144.7,429.9 L143.9,430.0 L143.1,429.9 L142.7,429.7 L141.9,429.3 L141.5,428.9 L141.1,428.5 L140.9,428.1 L140.8,427.7 L140.6,426.9 L140.7,426.1 L140.9,425.7 L141.1,425.3 L141.4,424.9 L141.7,424.5 L142.3,424.1 L142.7,423.9 L143.1,423.7 L143.9,423.6 L144.6,423.7 L145.1,423.8 L145.6,424.1 L146.1,424.5 L146.5,424.9 L146.8,425.3 L146.9,425.7 L147.1,426.1 L147.1,426.9 L147.0,427.7 L146.9,428.1 L146.7,428.5 L146.3,429.0 L145.9,429.3 L145.1,429.8" fill="none" stroke="#222" stroke-width="0.72"/><path d="M145.1,429.3 L144.3,429.5 L143.5,429.5 L143.1,429.4 L142.7,429.3 L142.1,428.9 L141.7,428.5 L141.4,428.1 L141.2,427.7 L141.1,427.3 L141.1,426.5 L141.2,426.1 L141.5,425.4 L141.9,424.9 L142.3,424.6 L142.7,424.3 L143.5,424.1 L144.3,424.1 L144.7,424.2 L145.5,424.5 L145.9,424.8 L146.3,425.3 L146.5,425.7 L146.7,426.5 L146.7,427.3 L146.6,427.7 L146.3,428.3 L145.9,428.8 L145.5,429.1 L145.1,429.3" fill="none" stroke="#222" stroke-width="0.72"/><path d="M144.7,429.1 L144.3,429.2 L143.9,429.2 L143.5,429.1 L142.8,428.9 L142.2,428.5 L141.9,428.1 L141.7,427.7 L141.5,427.3 L141.5,426.9 L141.5,426.5 L141.6,426.1 L141.8,425.7 L142.3,425.1 L142.7,424.8 L143.1,424.6 L143.5,424.5 L143.9,424.4 L144.3,424.5 L144.7,424.6 L145.1,424.7 L145.5,425.0 L145.8,425.3 L146.1,425.7 L146.2,426.1 L146.3,426.5 L146.3,426.9 L146.3,427.3 L146.2,427.7 L146.0,428.1 L145.6,428.5 L145.1,428.9 L144.7,429.1" fill="none" stroke="#222" stroke-width="0.72"/><path d="M144.7,428.7 L144.3,428.8 L143.9,428.8 L143.5,428.8 L143.1,428.7 L142.7,428.4 L142.3,428.1 L142.1,427.7 L141.9,427.3 L141.9,426.9 L141.9,426.5 L142.0,426.1 L142.2,425.7 L142.6,425.3 L143.1,425.0 L143.5,424.8 L143.9,424.8 L144.3,424.8 L144.7,424.9 L145.3,425.3 L145.7,425.7 L145.9,426.1 L146.0,426.5 L146.0,426.9 L145.9,427.3 L145.8,427.7 L145.5,428.1 L145.1,428.5 L144.7,428.7" fill="none" stroke="#222" stroke-width="0.72"/><path d="M143.9,428.5 L143.5,428.5 L143.1,428.3 L142.7,428.0 L142.4,427.7 L142.3,427.4 L142.2,426.9 L142.2,426.5 L142.3,426.2 L142.6,425.7 L143.1,425.3 L143.5,425.2 L143.9,425.1 L144.3,425.1 L144.7,425.3 L145.3,425.7 L145.5,426.1 L145.6,426.5 L145.7,426.9 L145.6,427.3 L145.5,427.5 L145.1,428.1 L144.7,428.3 L144.3,428.5 L143.9,428.5" fill="none" stroke="#222" stroke-width="0.72"/><path d="M144.3,428.2 L143.9,428.2 L143.3,428.1 L143.1,428.0 L142.8,427.7 L142.6,427.3 L142.5,426.9 L142.5,426.5 L142.7,426.1 L143.0,425.7 L143.5,425.5 L143.9,425.4 L144.3,425.4 L144.7,425.6 L145.1,426.0 L145.3,426.5 L145.4,426.9 L145.3,427.3 L145.1,427.6 L144.7,428.0 L144.3,428.2" fill="none" stroke="#222" stroke-width="0.72"/>
<path d="M209.9,408.2 L209.1,408.3 L207.9,408.3 L207.1,408.2 L206.3,408.0 L205.5,407.8 L204.7,407.5 L203.9,407.0 L203.5,406.7 L202.9,406.1 L202.6,405.7 L202.4,405.3 L202.2,404.5 L202.2,404.1 L202.3,403.3 L202.5,402.9 L203.1,402.1 L203.9,401.4 L204.3,401.1 L205.1,400.7 L206.3,400.3 L207.1,400.2 L207.9,400.1 L209.5,400.2 L210.7,400.4 L211.5,400.7 L212.3,401.0 L213.3,401.7 L213.7,402.1 L214.1,402.5 L214.5,403.3 L214.6,403.7 L214.6,404.5 L214.5,404.9 L214.2,405.7 L213.5,406.5 L212.7,407.2 L211.9,407.6 L211.1,407.9 L209.9,408.2" fill="none" stroke="#222" stroke-width="0.72"/><path d="M209.5,437.8 L208.7,437.9 L207.5,438.0 L206.3,438.0 L205.5,437.9 L204.7,437.8 L203.9,437.5 L203.1,437.2 L202.1,436.5 L201.5,436.0 L200.9,435.3 L200.4,434.5 L200.0,433.7 L199.7,432.9 L199.6,432.1 L199.5,431.3 L199.5,430.1 L199.7,428.5 L200.0,426.9 L200.6,424.9 L200.9,424.1 L201.5,422.9 L202.0,422.1 L202.7,421.2 L203.5,420.4 L204.3,419.8 L205.5,419.1 L206.3,418.7 L207.5,418.3 L208.3,418.1 L209.5,418.0 L210.7,418.0 L211.5,418.1 L212.7,418.3 L213.9,418.7 L214.7,419.1 L215.5,419.5 L216.3,420.1 L217.1,420.8 L217.5,421.2 L218.5,422.5 L218.9,423.3 L219.4,424.5 L219.6,425.3 L219.8,426.1 L219.9,426.9 L219.9,428.1 L219.8,428.9 L219.6,429.7 L219.3,430.9 L218.9,431.7 L218.5,432.5 L217.9,433.3 L217.2,434.1 L216.8,434.5 L215.5,435.5 L214.7,436.0 L213.9,436.4 L213.1,436.7 L211.9,437.2 L210.7,437.5 L209.5,437.8" fill="none" stroke="#222" stroke-width="0.72"/><path d="M181.5,439.8 L180.7,439.9 L179.9,439.9 L179.1,439.7 L178.7,439.5 L178.3,439.2 L177.9,438.7 L177.6,438.1 L177.4,437.7 L177.3,436.9 L177.3,436.1 L177.4,435.3 L177.6,434.1 L178.1,432.5 L178.4,431.7 L179.3,430.1 L180.5,428.1 L182.1,426.1 L183.1,425.1 L183.9,424.4 L185.5,423.1 L186.7,422.3 L187.5,421.9 L188.3,421.6 L189.1,421.4 L189.9,421.3 L190.7,421.3 L191.5,421.5 L191.9,421.7 L192.4,422.1 L192.7,422.5 L192.9,422.9 L193.2,423.7 L193.3,424.1 L193.3,425.3 L193.2,426.1 L193.1,426.9 L192.6,428.5 L192.1,429.7 L191.2,431.3 L190.5,432.5 L189.3,434.1 L187.9,435.7 L186.7,436.8 L185.5,437.8 L184.3,438.6 L183.5,439.1 L182.7,439.4 L181.5,439.8" fill="none" stroke="#222" stroke-width="0.72"/><path d="M210.3,407.0 L209.1,407.3 L208.3,407.3 L207.5,407.2 L206.3,407.0 L205.5,406.6 L205.1,406.4 L204.7,406.1 L204.3,405.7 L204.0,405.3 L203.8,404.9 L203.7,404.5 L203.7,404.1 L203.7,403.7 L203.9,403.3 L204.1,402.9 L204.7,402.3 L205.5,401.8 L206.3,401.4 L207.5,401.2 L208.7,401.1 L209.9,401.3 L210.7,401.5 L211.1,401.7 L211.9,402.1 L212.3,402.5 L212.7,402.9 L212.9,403.3 L213.1,403.7 L213.1,404.1 L213.1,404.5 L213.0,404.9 L212.8,405.3 L212.5,405.7 L212.1,406.1 L211.5,406.5 L211.1,406.7 L210.3,407.0" fill="none" stroke="#222" stroke-width="0.72"/><path d="M208.7,436.5 L207.5,436.7 L206.7,436.7 L205.9,436.6 L205.1,436.4 L203.9,435.9 L203.1,435.4 L202.5,434.9 L202.2,434.5 L201.6,433.7 L201.3,432.9 L201.1,432.1 L201.0,431.3 L201.0,430.5 L201.0,429.7 L201.2,428.5 L201.4,427.3 L201.7,426.1 L202.1,424.9 L202.5,424.1 L203.0,423.3 L203.5,422.5 L204.3,421.7 L204.7,421.3 L205.5,420.8 L206.3,420.3 L207.1,419.9 L207.9,419.7 L208.7,419.5 L209.5,419.4 L210.7,419.4 L211.5,419.5 L213.1,419.9 L213.9,420.3 L214.7,420.8 L215.4,421.3 L215.9,421.7 L216.3,422.1 L216.9,422.9 L217.7,424.1 L218.0,424.9 L218.2,425.7 L218.4,426.5 L218.4,427.3 L218.4,428.1 L218.3,428.9 L218.1,429.7 L217.8,430.5 L217.2,431.7 L216.3,432.9 L215.9,433.3 L215.1,434.0 L213.9,434.8 L212.3,435.6 L210.3,436.2 L208.7,436.5" fill="none" stroke="#222" stroke-width="0.72"/><path d="M181.9,438.2 L181.1,438.2 L180.7,438.1 L180.3,438.0 L179.9,437.8 L179.3,437.3 L179.1,436.9 L178.8,436.1 L178.8,435.7 L178.8,434.9 L178.9,434.1 L179.1,433.3 L179.3,432.5 L179.6,431.7 L180.4,430.1 L180.9,429.3 L181.8,428.1 L182.8,426.9 L184.3,425.4 L185.1,424.8 L185.9,424.2 L186.7,423.7 L187.5,423.4 L188.7,423.0 L189.5,423.0 L189.9,423.1 L190.3,423.2 L190.7,423.4 L191.1,423.7 L191.4,424.1 L191.6,424.5 L191.8,425.3 L191.8,426.5 L191.6,427.7 L191.2,428.9 L190.9,429.7 L190.1,431.3 L189.3,432.5 L188.4,433.7 L187.3,434.9 L186.3,435.8 L185.1,436.7 L183.9,437.5 L182.7,438.0 L181.9,438.2" fill="none" stroke="#222" stroke-width="0.72"/><path d="M209.5,406.2 L208.7,406.3 L207.9,406.3 L207.5,406.2 L206.7,406.0 L206.1,405.7 L205.6,405.3 L205.5,405.1 L205.3,404.9 L205.2,404.5 L205.2,404.1 L205.2,403.7 L205.5,403.3 L205.8,402.9 L206.4,402.5 L207.1,402.2 L207.9,402.1 L208.7,402.1 L209.5,402.2 L210.3,402.5 L210.7,402.7 L211.0,402.9 L211.3,403.3 L211.6,403.7 L211.6,404.1 L211.6,404.5 L211.5,404.9 L211.2,405.3 L210.7,405.7 L210.3,405.9 L209.5,406.2" fill="none" stroke="#222" stroke-width="0.72"/><path d="M208.7,435.3 L207.9,435.4 L207.1,435.4 L206.3,435.4 L205.5,435.2 L205.1,435.1 L204.3,434.7 L203.6,434.1 L203.2,433.7 L202.9,433.3 L202.6,432.5 L202.4,432.1 L202.3,431.3 L202.2,430.1 L202.5,428.1 L203.0,426.1 L203.3,425.3 L203.7,424.5 L204.5,423.3 L205.1,422.6 L205.5,422.2 L205.9,421.9 L206.7,421.4 L207.5,421.1 L208.3,420.8 L209.1,420.7 L209.9,420.6 L210.7,420.6 L211.5,420.7 L212.7,421.1 L213.5,421.4 L213.9,421.7 L214.5,422.1 L215.1,422.6 L215.5,423.0 L216.0,423.7 L216.5,424.5 L216.7,424.9 L217.0,426.1 L217.2,427.3 L217.2,428.1 L217.0,428.9 L216.7,430.1 L216.5,430.5 L216.0,431.3 L215.4,432.1 L215.0,432.5 L214.3,433.1 L213.1,433.9 L211.9,434.4 L210.3,435.0 L208.7,435.3" fill="none" stroke="#222" stroke-width="0.72"/><path d="M183.1,436.5 L182.3,436.7 L181.9,436.7 L181.5,436.6 L181.2,436.5 L180.6,436.1 L180.4,435.7 L180.2,435.3 L180.1,434.5 L180.2,433.3 L180.5,432.1 L180.8,431.3 L181.2,430.5 L181.7,429.7 L182.3,428.9 L183.2,427.7 L184.3,426.6 L185.5,425.7 L186.7,425.0 L187.5,424.7 L187.9,424.6 L188.7,424.5 L189.1,424.6 L189.5,424.7 L189.9,425.0 L190.1,425.3 L190.3,425.6 L190.4,426.1 L190.5,426.9 L190.5,427.7 L190.2,428.9 L189.7,430.1 L189.3,430.9 L188.5,432.1 L187.9,432.9 L187.1,433.8 L186.3,434.6 L185.5,435.2 L184.7,435.8 L183.9,436.2 L183.1,436.5" fill="none" stroke="#222" stroke-width="0.72"/><path d="M209.1,404.9 L208.7,405.0 L208.3,405.1 L207.6,404.9 L207.2,404.5 L207.1,404.1 L207.3,403.7 L207.9,403.4 L208.3,403.3 L208.7,403.4 L209.1,403.5 L209.5,403.7 L209.7,404.1 L209.6,404.5 L209.5,404.7 L209.1,404.9" fill="none" stroke="#222" stroke-width="0.72"/><path d="M209.1,434.2 L208.3,434.3 L207.5,434.3 L206.3,434.2 L205.5,433.9 L205.1,433.7 L204.7,433.4 L204.3,432.9 L204.0,432.5 L203.8,432.1 L203.6,431.7 L203.5,430.9 L203.4,429.7 L203.6,428.1 L204.0,426.5 L204.4,425.3 L204.9,424.5 L205.2,424.1 L205.9,423.3 L206.3,423.0 L206.7,422.7 L207.5,422.2 L208.7,421.8 L209.9,421.7 L211.1,421.8 L212.3,422.1 L213.2,422.5 L213.8,422.9 L214.3,423.3 L215.0,424.1 L215.5,424.9 L215.6,425.3 L215.9,426.1 L216.1,427.3 L216.0,428.5 L215.7,429.7 L215.3,430.5 L214.7,431.3 L213.9,432.1 L213.3,432.5 L212.7,432.9 L211.5,433.5 L210.3,433.9 L209.1,434.2" fill="none" stroke="#222" stroke-width="0.72"/><path d="M183.9,435.0 L183.1,435.2 L182.7,435.2 L182.3,435.1 L181.9,434.9 L181.6,434.5 L181.4,434.1 L181.4,433.7 L181.4,432.9 L181.6,432.1 L182.0,430.9 L182.5,430.1 L183.3,428.9 L184.3,427.8 L185.1,427.1 L186.3,426.4 L187.1,426.1 L187.5,426.0 L187.9,426.0 L188.4,426.1 L188.7,426.3 L188.9,426.5 L189.1,426.9 L189.2,427.3 L189.3,427.7 L189.2,428.1 L189.1,428.9 L188.8,429.7 L188.5,430.5 L188.0,431.3 L187.5,432.1 L186.8,432.9 L186.3,433.4 L185.1,434.4 L184.7,434.6 L183.9,435.0" fill="none" stroke="#222" stroke-width="0.72"/><path d="M209.9,433.0 L208.7,433.2 L207.5,433.2 L206.7,433.0 L205.9,432.7 L205.5,432.4 L205.2,432.1 L205.0,431.7 L204.8,431.3 L204.6,430.5 L204.5,429.3 L204.5,428.5 L204.7,427.7 L205.0,426.5 L205.5,425.3 L206.1,424.5 L206.9,423.7 L207.9,423.1 L208.3,422.9 L209.1,422.7 L210.3,422.6 L211.1,422.7 L211.5,422.8 L212.3,423.1 L213.1,423.6 L213.7,424.1 L214.3,424.9 L214.8,425.7 L215.0,426.5 L215.1,426.9 L215.1,427.7 L215.0,428.5 L214.9,428.9 L214.6,429.7 L214.1,430.5 L213.5,431.2 L212.7,431.8 L211.9,432.3 L211.1,432.6 L209.9,433.0" fill="none" stroke="#222" stroke-width="0.72"/><path d="M184.7,433.4 L183.9,433.7 L183.5,433.7 L183.1,433.5 L182.9,433.3 L182.7,432.9 L182.7,432.5 L182.7,432.1 L182.8,431.7 L183.1,430.9 L183.5,430.1 L183.9,429.5 L184.5,428.9 L185.1,428.3 L185.5,428.0 L186.3,427.6 L186.7,427.5 L187.1,427.5 L187.5,427.7 L187.8,428.1 L187.9,428.5 L187.9,428.9 L187.8,429.7 L187.4,430.5 L187.0,431.3 L186.3,432.1 L185.5,432.9 L184.7,433.4" fill="none" stroke="#222" stroke-width="0.72"/><path d="M210.3,432.1 L209.1,432.3 L208.3,432.4 L207.5,432.3 L207.1,432.1 L206.7,431.9 L206.3,431.7 L206.0,431.3 L205.7,430.9 L205.4,430.1 L205.3,429.3 L205.3,428.5 L205.5,427.3 L206.0,426.1 L206.4,425.3 L207.1,424.5 L207.9,424.0 L208.7,423.6 L209.1,423.5 L209.9,423.4 L210.7,423.4 L211.5,423.6 L212.3,424.0 L213.0,424.5 L213.5,425.0 L213.9,425.7 L214.2,426.5 L214.3,427.3 L214.3,428.1 L214.1,428.9 L213.7,429.7 L213.4,430.1 L212.7,430.9 L212.1,431.3 L211.1,431.8 L210.3,432.1" fill="none" stroke="#222" stroke-width="0.72"/><path d="M185.1,431.7 L184.7,431.9 L184.3,431.7 L184.2,431.3 L184.3,430.9 L184.5,430.5 L184.7,430.2 L185.1,429.7 L185.5,429.5 L185.9,429.3 L186.3,429.5 L186.4,429.7 L186.4,430.1 L186.2,430.5 L186.0,430.9 L185.6,431.3 L185.1,431.7" fill="none" stroke="#222" stroke-width="0.72"/><path d="M210.7,431.3 L209.9,431.6 L209.1,431.7 L208.3,431.6 L207.5,431.4 L207.1,431.2 L206.7,430.9 L206.4,430.5 L206.2,430.1 L206.0,429.3 L206.0,428.5 L206.2,427.3 L206.4,426.5 L206.9,425.7 L207.5,425.0 L207.9,424.7 L208.7,424.2 L209.5,424.0 L210.3,424.0 L211.1,424.1 L211.9,424.4 L212.3,424.7 L212.7,425.0 L213.2,425.7 L213.5,426.3 L213.7,426.9 L213.7,427.3 L213.7,428.1 L213.5,428.9 L213.1,429.6 L212.7,430.1 L212.2,430.5 L211.5,431.0 L210.7,431.3" fill="none" stroke="#222" stroke-width="0.72"/><path d="M210.3,431.0 L209.5,431.1 L208.7,431.1 L207.9,430.9 L207.5,430.7 L207.1,430.3 L206.7,429.7 L206.6,429.3 L206.5,428.5 L206.6,427.7 L206.8,426.9 L207.1,426.2 L207.5,425.7 L207.9,425.3 L208.3,425.0 L208.7,424.7 L209.1,424.6 L209.9,424.5 L210.7,424.5 L211.1,424.6 L211.7,424.9 L212.3,425.3 L212.6,425.7 L212.9,426.1 L213.1,426.6 L213.2,427.3 L213.2,428.1 L213.1,428.5 L212.7,429.3 L212.4,429.7 L212.0,430.1 L211.5,430.5 L211.1,430.7 L210.3,431.0" fill="none" stroke="#222" stroke-width="0.72"/><path d="M210.3,430.5 L209.5,430.7 L209.1,430.7 L208.3,430.5 L207.9,430.3 L207.7,430.1 L207.3,429.7 L207.1,429.1 L207.0,428.5 L207.0,428.1 L207.1,427.3 L207.4,426.5 L207.7,426.1 L208.0,425.7 L208.7,425.2 L209.1,425.0 L209.9,424.9 L210.7,424.9 L211.1,425.1 L211.5,425.3 L211.9,425.6 L212.3,426.0 L212.6,426.5 L212.7,426.9 L212.8,427.3 L212.7,428.1 L212.6,428.5 L212.4,428.9 L212.2,429.3 L211.8,429.7 L211.3,430.1 L210.7,430.4 L210.3,430.5" fill="none" stroke="#222" stroke-width="0.72"/><path d="M210.3,430.1 L209.5,430.2 L209.1,430.2 L208.7,430.1 L208.3,429.9 L208.0,429.7 L207.7,429.3 L207.5,428.9 L207.4,428.5 L207.4,428.1 L207.5,427.3 L207.9,426.5 L208.3,426.0 L208.7,425.7 L209.1,425.5 L209.5,425.3 L209.9,425.3 L210.3,425.3 L210.7,425.4 L211.1,425.5 L211.5,425.7 L211.9,426.1 L212.1,426.5 L212.3,426.9 L212.4,427.3 L212.4,427.7 L212.3,428.1 L212.2,428.5 L211.9,429.0 L211.5,429.5 L211.2,429.7 L210.7,430.0 L210.3,430.1" fill="none" stroke="#222" stroke-width="0.72"/><path d="M210.3,429.7 L209.5,429.8 L209.1,429.8 L208.7,429.7 L208.3,429.4 L208.0,428.9 L207.8,428.5 L207.8,428.1 L207.9,427.3 L208.1,426.9 L208.3,426.5 L208.7,426.1 L209.1,425.9 L209.5,425.7 L209.9,425.6 L210.3,425.6 L210.7,425.7 L211.3,426.1 L211.7,426.5 L211.9,426.9 L212.0,427.3 L212.0,427.7 L212.0,428.1 L211.8,428.5 L211.5,428.9 L211.1,429.3 L210.7,429.6 L210.3,429.7" fill="none" stroke="#222" stroke-width="0.72"/><path d="M210.3,429.4 L209.9,429.5 L209.5,429.5 L209.1,429.4 L208.8,429.3 L208.4,428.9 L208.2,428.5 L208.1,428.1 L208.1,427.7 L208.2,427.3 L208.4,426.9 L208.7,426.5 L209.1,426.2 L209.4,426.1 L209.9,426.0 L210.3,426.0 L210.7,426.1 L211.1,426.3 L211.5,426.8 L211.7,427.3 L211.7,427.7 L211.6,428.1 L211.4,428.5 L211.1,428.9 L210.7,429.2 L210.3,429.4" fill="none" stroke="#222" stroke-width="0.72"/>
<rect x="196.20" y="325.60" width="32.50" height="24.60" fill="none" stroke="#a3254f" stroke-width="1.2" />
<rect x="196.20" y="350.20" width="32.50" height="32.60" fill="none" stroke="#7fb2dc" stroke-width="1.1" />
<line x1="231.40" y1="337.10" x2="267.80" y2="337.10" stroke="#a3254f" stroke-width="1.1" />
<path d="M271.00,337.10 L267.80,338.70 L267.80,335.50 Z" fill="#a3254f"/>
<line x1="231.40" y1="366.40" x2="270.28" y2="410.21" stroke="#7fb2dc" stroke-width="1.0" />
<path d="M272.40,412.60 L269.08,411.27 L271.47,409.14 Z" fill="#7fb2dc"/>
<line x1="30.50" y1="382.90" x2="30.50" y2="330.60" stroke="#111" stroke-width="1.1" />
<path d="M30.50,327.40 L31.90,330.60 L29.10,330.60 Z" fill="#111"/>
<line x1="30.50" y1="448.00" x2="30.50" y2="397.80" stroke="#111" stroke-width="1.1" />
<path d="M30.50,394.60 L31.90,397.80 L29.10,397.80 Z" fill="#111"/>
<text transform="translate(24.40,356.80) rotate(-90)" font-size="7.6" text-anchor="middle" fill="#231f20" >S100A8</text>
<text transform="translate(24.40,423.80) rotate(-90)" font-size="7.6" text-anchor="middle" fill="#231f20" >S100A9</text>
<text transform="translate(40.90,462.20) scale(0.7692,1)" x="0" y="0" font-size="9.10" text-anchor="start" fill="#231f20">EGFP</text>
<line x1="62.10" y1="459.60" x2="221.40" y2="459.60" stroke="#111" stroke-width="1.1" />
<path d="M224.80,459.60 L221.40,461.00 L221.40,458.20 Z" fill="#111"/>
<path d="M298.00,378.20 C298.00,378.00 297.42,378.70 298.00,377.00 C298.58,375.30 300.47,371.17 301.50,368.00 C302.53,364.83 303.37,360.63 304.20,358.00 C305.03,355.37 305.93,353.20 306.50,352.20 C307.07,351.20 307.10,353.70 307.60,352.00 C308.10,350.30 308.73,345.63 309.50,342.00 C310.27,338.37 311.48,331.67 312.20,330.20 C312.92,328.73 313.20,330.57 313.80,333.20 C314.40,335.83 315.13,340.87 315.80,346.00 C316.47,351.13 317.23,359.25 317.80,364.00 C318.37,368.75 318.67,372.23 319.20,374.50 C319.73,376.77 315.53,377.02 321.00,377.60 C326.47,378.18 346.83,377.90 352.00,378.00 C357.17,378.10 352.00,378.17 352.00,378.20 Z" fill="#dc958b" stroke="none"/>
<path d="M298.00,378.20 C298.00,378.00 297.42,378.70 298.00,377.00 C298.58,375.30 300.47,371.17 301.50,368.00 C302.53,364.83 303.37,360.63 304.20,358.00 C305.03,355.37 305.93,353.20 306.50,352.20 C307.07,351.20 307.10,353.70 307.60,352.00 C308.10,350.30 308.73,345.63 309.50,342.00 C310.27,338.37 311.48,331.67 312.20,330.20 C312.92,328.73 313.20,330.57 313.80,333.20 C314.40,335.83 315.13,340.87 315.80,346.00 C316.47,351.13 317.23,359.25 317.80,364.00 C318.37,368.75 318.67,372.23 319.20,374.50 C319.73,376.77 315.53,377.02 321.00,377.60 C326.47,378.18 346.83,377.90 352.00,378.00 C357.17,378.10 352.00,378.17 352.00,378.20" fill="none" stroke="#8c2232" stroke-width="1.1"/>
<path d="M380.00,378.20 C380.00,377.92 379.58,380.37 380.00,376.50 C380.42,372.63 381.78,361.75 382.50,355.00 C383.22,348.25 383.80,339.70 384.30,336.00 C384.80,332.30 385.05,332.63 385.50,332.80 C385.95,332.97 386.42,333.13 387.00,337.00 C387.58,340.87 388.30,350.42 389.00,356.00 C389.70,361.58 390.28,367.40 391.20,370.50 C392.12,373.60 393.28,374.10 394.50,374.60 C395.72,375.10 397.25,374.18 398.50,373.50 C399.75,372.82 400.92,373.42 402.00,370.50 C403.08,367.58 404.08,361.42 405.00,356.00 C405.92,350.58 406.78,342.03 407.50,338.00 C408.22,333.97 408.68,331.80 409.30,331.80 C409.92,331.80 410.50,333.63 411.20,338.00 C411.90,342.37 412.82,352.25 413.50,358.00 C414.18,363.75 414.55,369.23 415.30,372.50 C416.05,375.77 415.05,376.68 418.00,377.60 C420.95,378.52 430.50,377.90 433.00,378.00 C435.50,378.10 433.00,378.17 433.00,378.20 Z" fill="#dc958b" stroke="none"/>
<path d="M380.00,378.20 C380.00,377.92 379.58,380.37 380.00,376.50 C380.42,372.63 381.78,361.75 382.50,355.00 C383.22,348.25 383.80,339.70 384.30,336.00 C384.80,332.30 385.05,332.63 385.50,332.80 C385.95,332.97 386.42,333.13 387.00,337.00 C387.58,340.87 388.30,350.42 389.00,356.00 C389.70,361.58 390.28,367.40 391.20,370.50 C392.12,373.60 393.28,374.10 394.50,374.60 C395.72,375.10 397.25,374.18 398.50,373.50 C399.75,372.82 400.92,373.42 402.00,370.50 C403.08,367.58 404.08,361.42 405.00,356.00 C405.92,350.58 406.78,342.03 407.50,338.00 C408.22,333.97 408.68,331.80 409.30,331.80 C409.92,331.80 410.50,333.63 411.20,338.00 C411.90,342.37 412.82,352.25 413.50,358.00 C414.18,363.75 414.55,369.23 415.30,372.50 C416.05,375.77 415.05,376.68 418.00,377.60 C420.95,378.52 430.50,377.90 433.00,378.00 C435.50,378.10 433.00,378.17 433.00,378.20" fill="none" stroke="#8c2232" stroke-width="1.1"/>
<path d="M297.50,459.50 C297.50,459.08 297.05,460.25 297.50,457.00 C297.95,453.75 299.45,445.83 300.20,440.00 C300.95,434.17 301.42,426.27 302.00,422.00 C302.58,417.73 303.12,415.07 303.70,414.40 C304.28,413.73 304.87,414.07 305.50,418.00 C306.13,421.93 306.83,432.08 307.50,438.00 C308.17,443.92 308.75,450.23 309.50,453.50 C310.25,456.77 308.58,456.75 312.00,457.60 C315.42,458.45 323.33,458.37 330.00,458.60 C336.67,458.83 348.33,458.85 352.00,459.00 C355.67,459.15 352.00,459.42 352.00,459.50 Z" fill="#dc958b" stroke="none"/>
<path d="M297.50,459.50 C297.50,459.08 297.05,460.25 297.50,457.00 C297.95,453.75 299.45,445.83 300.20,440.00 C300.95,434.17 301.42,426.27 302.00,422.00 C302.58,417.73 303.12,415.07 303.70,414.40 C304.28,413.73 304.87,414.07 305.50,418.00 C306.13,421.93 306.83,432.08 307.50,438.00 C308.17,443.92 308.75,450.23 309.50,453.50 C310.25,456.77 308.58,456.75 312.00,457.60 C315.42,458.45 323.33,458.37 330.00,458.60 C336.67,458.83 348.33,458.85 352.00,459.00 C355.67,459.15 352.00,459.42 352.00,459.50" fill="none" stroke="#8c2232" stroke-width="1.1"/>
<path d="M380.50,459.50 C380.50,459.08 380.12,460.25 380.50,457.00 C380.88,453.75 382.12,446.17 382.80,440.00 C383.48,433.83 384.05,424.23 384.60,420.00 C385.15,415.77 385.57,414.60 386.10,414.60 C386.63,414.60 387.18,415.77 387.80,420.00 C388.42,424.23 389.10,434.50 389.80,440.00 C390.50,445.50 391.13,450.17 392.00,453.00 C392.87,455.83 393.50,456.23 395.00,457.00 C396.50,457.77 399.08,457.93 401.00,457.60 C402.92,457.27 405.17,456.77 406.50,455.00 C407.83,453.23 408.20,449.40 409.00,447.00 C409.80,444.60 410.55,440.60 411.30,440.60 C412.05,440.60 412.78,444.43 413.50,447.00 C414.22,449.57 414.85,454.03 415.60,456.00 C416.35,457.97 415.10,458.27 418.00,458.80 C420.90,459.33 430.50,459.08 433.00,459.20 C435.50,459.32 433.00,459.45 433.00,459.50 Z" fill="#dc958b" stroke="none"/>
<path d="M380.50,459.50 C380.50,459.08 380.12,460.25 380.50,457.00 C380.88,453.75 382.12,446.17 382.80,440.00 C383.48,433.83 384.05,424.23 384.60,420.00 C385.15,415.77 385.57,414.60 386.10,414.60 C386.63,414.60 387.18,415.77 387.80,420.00 C388.42,424.23 389.10,434.50 389.80,440.00 C390.50,445.50 391.13,450.17 392.00,453.00 C392.87,455.83 393.50,456.23 395.00,457.00 C396.50,457.77 399.08,457.93 401.00,457.60 C402.92,457.27 405.17,456.77 406.50,455.00 C407.83,453.23 408.20,449.40 409.00,447.00 C409.80,444.60 410.55,440.60 411.30,440.60 C412.05,440.60 412.78,444.43 413.50,447.00 C414.22,449.57 414.85,454.03 415.60,456.00 C416.35,457.97 415.10,458.27 418.00,458.80 C420.90,459.33 430.50,459.08 433.00,459.20 C435.50,459.32 433.00,459.45 433.00,459.50" fill="none" stroke="#8c2232" stroke-width="1.1"/>
<line x1="295.10" y1="378.20" x2="296.70" y2="378.20" stroke="#222" stroke-width="0.6" />
<line x1="295.10" y1="371.47" x2="296.70" y2="371.47" stroke="#222" stroke-width="0.6" />
<line x1="295.10" y1="364.73" x2="296.70" y2="364.73" stroke="#222" stroke-width="0.6" />
<line x1="295.10" y1="358.00" x2="296.70" y2="358.00" stroke="#222" stroke-width="0.6" />
<line x1="295.10" y1="351.26" x2="296.70" y2="351.26" stroke="#222" stroke-width="0.6" />
<line x1="295.10" y1="344.53" x2="296.70" y2="344.53" stroke="#222" stroke-width="0.6" />
<line x1="295.10" y1="337.79" x2="296.70" y2="337.79" stroke="#222" stroke-width="0.6" />
<line x1="295.10" y1="331.06" x2="296.70" y2="331.06" stroke="#222" stroke-width="0.6" />
<line x1="295.10" y1="324.32" x2="296.70" y2="324.32" stroke="#222" stroke-width="0.6" />
<line x1="297.30" y1="378.20" x2="297.30" y2="380.50" stroke="#222" stroke-width="0.6" />
<line x1="301.49" y1="378.20" x2="301.49" y2="379.70" stroke="#222" stroke-width="0.6" />
<line x1="303.93" y1="378.20" x2="303.93" y2="379.70" stroke="#222" stroke-width="0.6" />
<line x1="305.67" y1="378.20" x2="305.67" y2="379.70" stroke="#222" stroke-width="0.6" />
<line x1="307.02" y1="378.20" x2="307.02" y2="379.70" stroke="#222" stroke-width="0.6" />
<line x1="308.12" y1="378.20" x2="308.12" y2="379.70" stroke="#222" stroke-width="0.6" />
<line x1="309.05" y1="378.20" x2="309.05" y2="379.70" stroke="#222" stroke-width="0.6" />
<line x1="309.86" y1="378.20" x2="309.86" y2="379.70" stroke="#222" stroke-width="0.6" />
<line x1="310.57" y1="378.20" x2="310.57" y2="379.70" stroke="#222" stroke-width="0.6" />
<line x1="311.20" y1="378.20" x2="311.20" y2="380.50" stroke="#222" stroke-width="0.6" />
<line x1="315.39" y1="378.20" x2="315.39" y2="379.70" stroke="#222" stroke-width="0.6" />
<line x1="317.84" y1="378.20" x2="317.84" y2="379.70" stroke="#222" stroke-width="0.6" />
<line x1="319.57" y1="378.20" x2="319.57" y2="379.70" stroke="#222" stroke-width="0.6" />
<line x1="320.92" y1="378.20" x2="320.92" y2="379.70" stroke="#222" stroke-width="0.6" />
<line x1="322.02" y1="378.20" x2="322.02" y2="379.70" stroke="#222" stroke-width="0.6" />
<line x1="322.95" y1="378.20" x2="322.95" y2="379.70" stroke="#222" stroke-width="0.6" />
<line x1="323.76" y1="378.20" x2="323.76" y2="379.70" stroke="#222" stroke-width="0.6" />
<line x1="324.47" y1="378.20" x2="324.47" y2="379.70" stroke="#222" stroke-width="0.6" />
<line x1="325.10" y1="378.20" x2="325.10" y2="380.50" stroke="#222" stroke-width="0.6" />
<line x1="329.29" y1="378.20" x2="329.29" y2="379.70" stroke="#222" stroke-width="0.6" />
<line x1="331.74" y1="378.20" x2="331.74" y2="379.70" stroke="#222" stroke-width="0.6" />
<line x1="333.47" y1="378.20" x2="333.47" y2="379.70" stroke="#222" stroke-width="0.6" />
<line x1="334.82" y1="378.20" x2="334.82" y2="379.70" stroke="#222" stroke-width="0.6" />
<line x1="335.92" y1="378.20" x2="335.92" y2="379.70" stroke="#222" stroke-width="0.6" />
<line x1="336.85" y1="378.20" x2="336.85" y2="379.70" stroke="#222" stroke-width="0.6" />
<line x1="337.66" y1="378.20" x2="337.66" y2="379.70" stroke="#222" stroke-width="0.6" />
<line x1="338.37" y1="378.20" x2="338.37" y2="379.70" stroke="#222" stroke-width="0.6" />
<line x1="339.01" y1="378.20" x2="339.01" y2="380.50" stroke="#222" stroke-width="0.6" />
<line x1="343.19" y1="378.20" x2="343.19" y2="379.70" stroke="#222" stroke-width="0.6" />
<line x1="345.64" y1="378.20" x2="345.64" y2="379.70" stroke="#222" stroke-width="0.6" />
<line x1="347.38" y1="378.20" x2="347.38" y2="379.70" stroke="#222" stroke-width="0.6" />
<line x1="348.72" y1="378.20" x2="348.72" y2="379.70" stroke="#222" stroke-width="0.6" />
<line x1="349.83" y1="378.20" x2="349.83" y2="379.70" stroke="#222" stroke-width="0.6" />
<line x1="350.76" y1="378.20" x2="350.76" y2="379.70" stroke="#222" stroke-width="0.6" />
<line x1="351.56" y1="378.20" x2="351.56" y2="379.70" stroke="#222" stroke-width="0.6" />
<line x1="352.27" y1="378.20" x2="352.27" y2="379.70" stroke="#222" stroke-width="0.6" />
<line x1="352.91" y1="378.20" x2="352.91" y2="380.50" stroke="#222" stroke-width="0.6" />
<rect x="296.70" y="322.30" width="57.00" height="55.90" fill="none" stroke="#111" stroke-width="1.0" />
<text transform="translate(288.20,366.90) rotate(-90) scale(0.8696,1)" x="0" y="0" font-size="8.51" text-anchor="middle" fill="#231f20">Count</text>
<line x1="285.60" y1="354.20" x2="285.60" y2="325.80" stroke="#111" stroke-width="1.0" />
<path d="M285.60,322.80 L286.90,325.80 L284.30,325.80 Z" fill="#111"/>
<text transform="translate(298.30,391.80) scale(0.8197,1)" x="0" y="0" font-size="8.54" text-anchor="start" fill="#231f20">Ly6G</text>
<line x1="322.00" y1="390.20" x2="350.70" y2="390.20" stroke="#111" stroke-width="1.0" />
<path d="M353.70,390.20 L350.70,391.50 L350.70,388.90 Z" fill="#111"/>
<line x1="375.70" y1="378.20" x2="377.30" y2="378.20" stroke="#222" stroke-width="0.6" />
<line x1="375.70" y1="371.47" x2="377.30" y2="371.47" stroke="#222" stroke-width="0.6" />
<line x1="375.70" y1="364.73" x2="377.30" y2="364.73" stroke="#222" stroke-width="0.6" />
<line x1="375.70" y1="358.00" x2="377.30" y2="358.00" stroke="#222" stroke-width="0.6" />
<line x1="375.70" y1="351.26" x2="377.30" y2="351.26" stroke="#222" stroke-width="0.6" />
<line x1="375.70" y1="344.53" x2="377.30" y2="344.53" stroke="#222" stroke-width="0.6" />
<line x1="375.70" y1="337.79" x2="377.30" y2="337.79" stroke="#222" stroke-width="0.6" />
<line x1="375.70" y1="331.06" x2="377.30" y2="331.06" stroke="#222" stroke-width="0.6" />
<line x1="375.70" y1="324.32" x2="377.30" y2="324.32" stroke="#222" stroke-width="0.6" />
<line x1="377.90" y1="378.20" x2="377.90" y2="380.50" stroke="#222" stroke-width="0.6" />
<line x1="382.13" y1="378.20" x2="382.13" y2="379.70" stroke="#222" stroke-width="0.6" />
<line x1="384.60" y1="378.20" x2="384.60" y2="379.70" stroke="#222" stroke-width="0.6" />
<line x1="386.36" y1="378.20" x2="386.36" y2="379.70" stroke="#222" stroke-width="0.6" />
<line x1="387.72" y1="378.20" x2="387.72" y2="379.70" stroke="#222" stroke-width="0.6" />
<line x1="388.83" y1="378.20" x2="388.83" y2="379.70" stroke="#222" stroke-width="0.6" />
<line x1="389.77" y1="378.20" x2="389.77" y2="379.70" stroke="#222" stroke-width="0.6" />
<line x1="390.59" y1="378.20" x2="390.59" y2="379.70" stroke="#222" stroke-width="0.6" />
<line x1="391.31" y1="378.20" x2="391.31" y2="379.70" stroke="#222" stroke-width="0.6" />
<line x1="391.95" y1="378.20" x2="391.95" y2="380.50" stroke="#222" stroke-width="0.6" />
<line x1="396.18" y1="378.20" x2="396.18" y2="379.70" stroke="#222" stroke-width="0.6" />
<line x1="398.65" y1="378.20" x2="398.65" y2="379.70" stroke="#222" stroke-width="0.6" />
<line x1="400.41" y1="378.20" x2="400.41" y2="379.70" stroke="#222" stroke-width="0.6" />
<line x1="401.77" y1="378.20" x2="401.77" y2="379.70" stroke="#222" stroke-width="0.6" />
<line x1="402.88" y1="378.20" x2="402.88" y2="379.70" stroke="#222" stroke-width="0.6" />
<line x1="403.82" y1="378.20" x2="403.82" y2="379.70" stroke="#222" stroke-width="0.6" />
<line x1="404.64" y1="378.20" x2="404.64" y2="379.70" stroke="#222" stroke-width="0.6" />
<line x1="405.35" y1="378.20" x2="405.35" y2="379.70" stroke="#222" stroke-width="0.6" />
<line x1="406.00" y1="378.20" x2="406.00" y2="380.50" stroke="#222" stroke-width="0.6" />
<line x1="410.23" y1="378.20" x2="410.23" y2="379.70" stroke="#222" stroke-width="0.6" />
<line x1="412.70" y1="378.20" x2="412.70" y2="379.70" stroke="#222" stroke-width="0.6" />
<line x1="414.46" y1="378.20" x2="414.46" y2="379.70" stroke="#222" stroke-width="0.6" />
<line x1="415.82" y1="378.20" x2="415.82" y2="379.70" stroke="#222" stroke-width="0.6" />
<line x1="416.93" y1="378.20" x2="416.93" y2="379.70" stroke="#222" stroke-width="0.6" />
<line x1="417.87" y1="378.20" x2="417.87" y2="379.70" stroke="#222" stroke-width="0.6" />
<line x1="418.68" y1="378.20" x2="418.68" y2="379.70" stroke="#222" stroke-width="0.6" />
<line x1="419.40" y1="378.20" x2="419.40" y2="379.70" stroke="#222" stroke-width="0.6" />
<line x1="420.05" y1="378.20" x2="420.05" y2="380.50" stroke="#222" stroke-width="0.6" />
<line x1="424.28" y1="378.20" x2="424.28" y2="379.70" stroke="#222" stroke-width="0.6" />
<line x1="426.75" y1="378.20" x2="426.75" y2="379.70" stroke="#222" stroke-width="0.6" />
<line x1="428.50" y1="378.20" x2="428.50" y2="379.70" stroke="#222" stroke-width="0.6" />
<line x1="429.87" y1="378.20" x2="429.87" y2="379.70" stroke="#222" stroke-width="0.6" />
<line x1="430.98" y1="378.20" x2="430.98" y2="379.70" stroke="#222" stroke-width="0.6" />
<line x1="431.92" y1="378.20" x2="431.92" y2="379.70" stroke="#222" stroke-width="0.6" />
<line x1="432.73" y1="378.20" x2="432.73" y2="379.70" stroke="#222" stroke-width="0.6" />
<line x1="433.45" y1="378.20" x2="433.45" y2="379.70" stroke="#222" stroke-width="0.6" />
<line x1="434.10" y1="378.20" x2="434.10" y2="380.50" stroke="#222" stroke-width="0.6" />
<rect x="377.30" y="322.30" width="57.60" height="55.90" fill="none" stroke="#111" stroke-width="1.0" />
<text transform="translate(368.80,366.90) rotate(-90) scale(0.8696,1)" x="0" y="0" font-size="8.51" text-anchor="middle" fill="#231f20">Count</text>
<line x1="366.20" y1="354.20" x2="366.20" y2="325.80" stroke="#111" stroke-width="1.0" />
<path d="M366.20,322.80 L367.50,325.80 L364.90,325.80 Z" fill="#111"/>
<text transform="translate(377.60,391.80) scale(0.8197,1)" x="0" y="0" font-size="8.54" text-anchor="start" fill="#231f20">c-kit</text>
<line x1="398.70" y1="390.20" x2="431.90" y2="390.20" stroke="#111" stroke-width="1.0" />
<path d="M434.90,390.20 L431.90,391.50 L431.90,388.90 Z" fill="#111"/>
<line x1="295.10" y1="459.50" x2="296.70" y2="459.50" stroke="#222" stroke-width="0.6" />
<line x1="295.10" y1="452.60" x2="296.70" y2="452.60" stroke="#222" stroke-width="0.6" />
<line x1="295.10" y1="445.69" x2="296.70" y2="445.69" stroke="#222" stroke-width="0.6" />
<line x1="295.10" y1="438.79" x2="296.70" y2="438.79" stroke="#222" stroke-width="0.6" />
<line x1="295.10" y1="431.89" x2="296.70" y2="431.89" stroke="#222" stroke-width="0.6" />
<line x1="295.10" y1="424.98" x2="296.70" y2="424.98" stroke="#222" stroke-width="0.6" />
<line x1="295.10" y1="418.08" x2="296.70" y2="418.08" stroke="#222" stroke-width="0.6" />
<line x1="295.10" y1="411.17" x2="296.70" y2="411.17" stroke="#222" stroke-width="0.6" />
<line x1="295.10" y1="404.27" x2="296.70" y2="404.27" stroke="#222" stroke-width="0.6" />
<line x1="297.30" y1="459.50" x2="297.30" y2="461.80" stroke="#222" stroke-width="0.6" />
<line x1="301.49" y1="459.50" x2="301.49" y2="461.00" stroke="#222" stroke-width="0.6" />
<line x1="303.93" y1="459.50" x2="303.93" y2="461.00" stroke="#222" stroke-width="0.6" />
<line x1="305.67" y1="459.50" x2="305.67" y2="461.00" stroke="#222" stroke-width="0.6" />
<line x1="307.02" y1="459.50" x2="307.02" y2="461.00" stroke="#222" stroke-width="0.6" />
<line x1="308.12" y1="459.50" x2="308.12" y2="461.00" stroke="#222" stroke-width="0.6" />
<line x1="309.05" y1="459.50" x2="309.05" y2="461.00" stroke="#222" stroke-width="0.6" />
<line x1="309.86" y1="459.50" x2="309.86" y2="461.00" stroke="#222" stroke-width="0.6" />
<line x1="310.57" y1="459.50" x2="310.57" y2="461.00" stroke="#222" stroke-width="0.6" />
<line x1="311.20" y1="459.50" x2="311.20" y2="461.80" stroke="#222" stroke-width="0.6" />
<line x1="315.39" y1="459.50" x2="315.39" y2="461.00" stroke="#222" stroke-width="0.6" />
<line x1="317.84" y1="459.50" x2="317.84" y2="461.00" stroke="#222" stroke-width="0.6" />
<line x1="319.57" y1="459.50" x2="319.57" y2="461.00" stroke="#222" stroke-width="0.6" />
<line x1="320.92" y1="459.50" x2="320.92" y2="461.00" stroke="#222" stroke-width="0.6" />
<line x1="322.02" y1="459.50" x2="322.02" y2="461.00" stroke="#222" stroke-width="0.6" />
<line x1="322.95" y1="459.50" x2="322.95" y2="461.00" stroke="#222" stroke-width="0.6" />
<line x1="323.76" y1="459.50" x2="323.76" y2="461.00" stroke="#222" stroke-width="0.6" />
<line x1="324.47" y1="459.50" x2="324.47" y2="461.00" stroke="#222" stroke-width="0.6" />
<line x1="325.10" y1="459.50" x2="325.10" y2="461.80" stroke="#222" stroke-width="0.6" />
<line x1="329.29" y1="459.50" x2="329.29" y2="461.00" stroke="#222" stroke-width="0.6" />
<line x1="331.74" y1="459.50" x2="331.74" y2="461.00" stroke="#222" stroke-width="0.6" />
<line x1="333.47" y1="459.50" x2="333.47" y2="461.00" stroke="#222" stroke-width="0.6" />
<line x1="334.82" y1="459.50" x2="334.82" y2="461.00" stroke="#222" stroke-width="0.6" />
<line x1="335.92" y1="459.50" x2="335.92" y2="461.00" stroke="#222" stroke-width="0.6" />
<line x1="336.85" y1="459.50" x2="336.85" y2="461.00" stroke="#222" stroke-width="0.6" />
<line x1="337.66" y1="459.50" x2="337.66" y2="461.00" stroke="#222" stroke-width="0.6" />
<line x1="338.37" y1="459.50" x2="338.37" y2="461.00" stroke="#222" stroke-width="0.6" />
<line x1="339.01" y1="459.50" x2="339.01" y2="461.80" stroke="#222" stroke-width="0.6" />
<line x1="343.19" y1="459.50" x2="343.19" y2="461.00" stroke="#222" stroke-width="0.6" />
<line x1="345.64" y1="459.50" x2="345.64" y2="461.00" stroke="#222" stroke-width="0.6" />
<line x1="347.38" y1="459.50" x2="347.38" y2="461.00" stroke="#222" stroke-width="0.6" />
<line x1="348.72" y1="459.50" x2="348.72" y2="461.00" stroke="#222" stroke-width="0.6" />
<line x1="349.83" y1="459.50" x2="349.83" y2="461.00" stroke="#222" stroke-width="0.6" />
<line x1="350.76" y1="459.50" x2="350.76" y2="461.00" stroke="#222" stroke-width="0.6" />
<line x1="351.56" y1="459.50" x2="351.56" y2="461.00" stroke="#222" stroke-width="0.6" />
<line x1="352.27" y1="459.50" x2="352.27" y2="461.00" stroke="#222" stroke-width="0.6" />
<line x1="352.91" y1="459.50" x2="352.91" y2="461.80" stroke="#222" stroke-width="0.6" />
<rect x="296.70" y="402.20" width="57.00" height="57.30" fill="none" stroke="#111" stroke-width="1.0" />
<text transform="translate(288.20,448.20) rotate(-90) scale(0.8696,1)" x="0" y="0" font-size="8.51" text-anchor="middle" fill="#231f20">Count</text>
<line x1="285.60" y1="435.50" x2="285.60" y2="405.70" stroke="#111" stroke-width="1.0" />
<path d="M285.60,402.70 L286.90,405.70 L284.30,405.70 Z" fill="#111"/>
<text transform="translate(298.30,473.10) scale(0.8197,1)" x="0" y="0" font-size="8.54" text-anchor="start" fill="#231f20">Ly6G</text>
<line x1="322.00" y1="471.50" x2="350.70" y2="471.50" stroke="#111" stroke-width="1.0" />
<path d="M353.70,471.50 L350.70,472.80 L350.70,470.20 Z" fill="#111"/>
<line x1="375.70" y1="459.50" x2="377.30" y2="459.50" stroke="#222" stroke-width="0.6" />
<line x1="375.70" y1="452.60" x2="377.30" y2="452.60" stroke="#222" stroke-width="0.6" />
<line x1="375.70" y1="445.69" x2="377.30" y2="445.69" stroke="#222" stroke-width="0.6" />
<line x1="375.70" y1="438.79" x2="377.30" y2="438.79" stroke="#222" stroke-width="0.6" />
<line x1="375.70" y1="431.89" x2="377.30" y2="431.89" stroke="#222" stroke-width="0.6" />
<line x1="375.70" y1="424.98" x2="377.30" y2="424.98" stroke="#222" stroke-width="0.6" />
<line x1="375.70" y1="418.08" x2="377.30" y2="418.08" stroke="#222" stroke-width="0.6" />
<line x1="375.70" y1="411.17" x2="377.30" y2="411.17" stroke="#222" stroke-width="0.6" />
<line x1="375.70" y1="404.27" x2="377.30" y2="404.27" stroke="#222" stroke-width="0.6" />
<line x1="377.90" y1="459.50" x2="377.90" y2="461.80" stroke="#222" stroke-width="0.6" />
<line x1="382.13" y1="459.50" x2="382.13" y2="461.00" stroke="#222" stroke-width="0.6" />
<line x1="384.60" y1="459.50" x2="384.60" y2="461.00" stroke="#222" stroke-width="0.6" />
<line x1="386.36" y1="459.50" x2="386.36" y2="461.00" stroke="#222" stroke-width="0.6" />
<line x1="387.72" y1="459.50" x2="387.72" y2="461.00" stroke="#222" stroke-width="0.6" />
<line x1="388.83" y1="459.50" x2="388.83" y2="461.00" stroke="#222" stroke-width="0.6" />
<line x1="389.77" y1="459.50" x2="389.77" y2="461.00" stroke="#222" stroke-width="0.6" />
<line x1="390.59" y1="459.50" x2="390.59" y2="461.00" stroke="#222" stroke-width="0.6" />
<line x1="391.31" y1="459.50" x2="391.31" y2="461.00" stroke="#222" stroke-width="0.6" />
<line x1="391.95" y1="459.50" x2="391.95" y2="461.80" stroke="#222" stroke-width="0.6" />
<line x1="396.18" y1="459.50" x2="396.18" y2="461.00" stroke="#222" stroke-width="0.6" />
<line x1="398.65" y1="459.50" x2="398.65" y2="461.00" stroke="#222" stroke-width="0.6" />
<line x1="400.41" y1="459.50" x2="400.41" y2="461.00" stroke="#222" stroke-width="0.6" />
<line x1="401.77" y1="459.50" x2="401.77" y2="461.00" stroke="#222" stroke-width="0.6" />
<line x1="402.88" y1="459.50" x2="402.88" y2="461.00" stroke="#222" stroke-width="0.6" />
<line x1="403.82" y1="459.50" x2="403.82" y2="461.00" stroke="#222" stroke-width="0.6" />
<line x1="404.64" y1="459.50" x2="404.64" y2="461.00" stroke="#222" stroke-width="0.6" />
<line x1="405.35" y1="459.50" x2="405.35" y2="461.00" stroke="#222" stroke-width="0.6" />
<line x1="406.00" y1="459.50" x2="406.00" y2="461.80" stroke="#222" stroke-width="0.6" />
<line x1="410.23" y1="459.50" x2="410.23" y2="461.00" stroke="#222" stroke-width="0.6" />
<line x1="412.70" y1="459.50" x2="412.70" y2="461.00" stroke="#222" stroke-width="0.6" />
<line x1="414.46" y1="459.50" x2="414.46" y2="461.00" stroke="#222" stroke-width="0.6" />
<line x1="415.82" y1="459.50" x2="415.82" y2="461.00" stroke="#222" stroke-width="0.6" />
<line x1="416.93" y1="459.50" x2="416.93" y2="461.00" stroke="#222" stroke-width="0.6" />
<line x1="417.87" y1="459.50" x2="417.87" y2="461.00" stroke="#222" stroke-width="0.6" />
<line x1="418.68" y1="459.50" x2="418.68" y2="461.00" stroke="#222" stroke-width="0.6" />
<line x1="419.40" y1="459.50" x2="419.40" y2="461.00" stroke="#222" stroke-width="0.6" />
<line x1="420.05" y1="459.50" x2="420.05" y2="461.80" stroke="#222" stroke-width="0.6" />
<line x1="424.28" y1="459.50" x2="424.28" y2="461.00" stroke="#222" stroke-width="0.6" />
<line x1="426.75" y1="459.50" x2="426.75" y2="461.00" stroke="#222" stroke-width="0.6" />
<line x1="428.50" y1="459.50" x2="428.50" y2="461.00" stroke="#222" stroke-width="0.6" />
<line x1="429.87" y1="459.50" x2="429.87" y2="461.00" stroke="#222" stroke-width="0.6" />
<line x1="430.98" y1="459.50" x2="430.98" y2="461.00" stroke="#222" stroke-width="0.6" />
<line x1="431.92" y1="459.50" x2="431.92" y2="461.00" stroke="#222" stroke-width="0.6" />
<line x1="432.73" y1="459.50" x2="432.73" y2="461.00" stroke="#222" stroke-width="0.6" />
<line x1="433.45" y1="459.50" x2="433.45" y2="461.00" stroke="#222" stroke-width="0.6" />
<line x1="434.10" y1="459.50" x2="434.10" y2="461.80" stroke="#222" stroke-width="0.6" />
<rect x="377.30" y="402.20" width="57.60" height="57.30" fill="none" stroke="#111" stroke-width="1.0" />
<text transform="translate(368.80,448.20) rotate(-90) scale(0.8696,1)" x="0" y="0" font-size="8.51" text-anchor="middle" fill="#231f20">Count</text>
<line x1="366.20" y1="435.50" x2="366.20" y2="405.70" stroke="#111" stroke-width="1.0" />
<path d="M366.20,402.70 L367.50,405.70 L364.90,405.70 Z" fill="#111"/>
<text transform="translate(377.60,473.10) scale(0.8197,1)" x="0" y="0" font-size="8.54" text-anchor="start" fill="#231f20">c-kit</text>
<line x1="398.70" y1="471.50" x2="431.90" y2="471.50" stroke="#111" stroke-width="1.0" />
<path d="M434.90,471.50 L431.90,472.80 L431.90,470.20 Z" fill="#111"/>
<line x1="308.30" y1="361.00" x2="353.70" y2="361.00" stroke="#222" stroke-width="0.9" />
<line x1="308.30" y1="359.60" x2="308.30" y2="362.40" stroke="#222" stroke-width="0.8" />
<text x="331.00" y="358.60" font-size="6.3" text-anchor="middle" font-weight="normal" fill="#222"  style="">70.1%</text>
<line x1="401.90" y1="356.70" x2="434.90" y2="356.70" stroke="#222" stroke-width="0.9" />
<line x1="401.90" y1="355.30" x2="401.90" y2="358.10" stroke="#222" stroke-width="0.8" />
<text x="422.50" y="354.70" font-size="6.3" text-anchor="middle" font-weight="normal" fill="#222"  style="">49.7%</text>
<line x1="310.80" y1="440.80" x2="353.70" y2="440.80" stroke="#222" stroke-width="0.9" />
<line x1="310.80" y1="439.40" x2="310.80" y2="442.20" stroke="#222" stroke-width="0.8" />
<text x="331.40" y="438.60" font-size="6.3" text-anchor="middle" font-weight="normal" fill="#222"  style="">2.62%</text>
<line x1="401.90" y1="437.60" x2="434.90" y2="437.60" stroke="#222" stroke-width="0.9" />
<line x1="401.90" y1="436.20" x2="401.90" y2="439.00" stroke="#222" stroke-width="0.8" />
<text x="417.80" y="435.60" font-size="6.3" text-anchor="middle" font-weight="normal" fill="#222"  style="">22.6%</text>
<rect x="0.00" y="0.00" width="520.00" height="1.10" fill="#000" stroke="none" stroke-width="1" />
<rect x="0.00" y="0.00" width="1.10" height="483.00" fill="#000" stroke="none" stroke-width="1" />
<rect x="518.80" y="0.00" width="1.20" height="483.00" fill="#000" stroke="none" stroke-width="1" />
<rect x="0.00" y="481.60" width="520.00" height="1.40" fill="#000" stroke="none" stroke-width="1" />
</svg>
</body></html>
